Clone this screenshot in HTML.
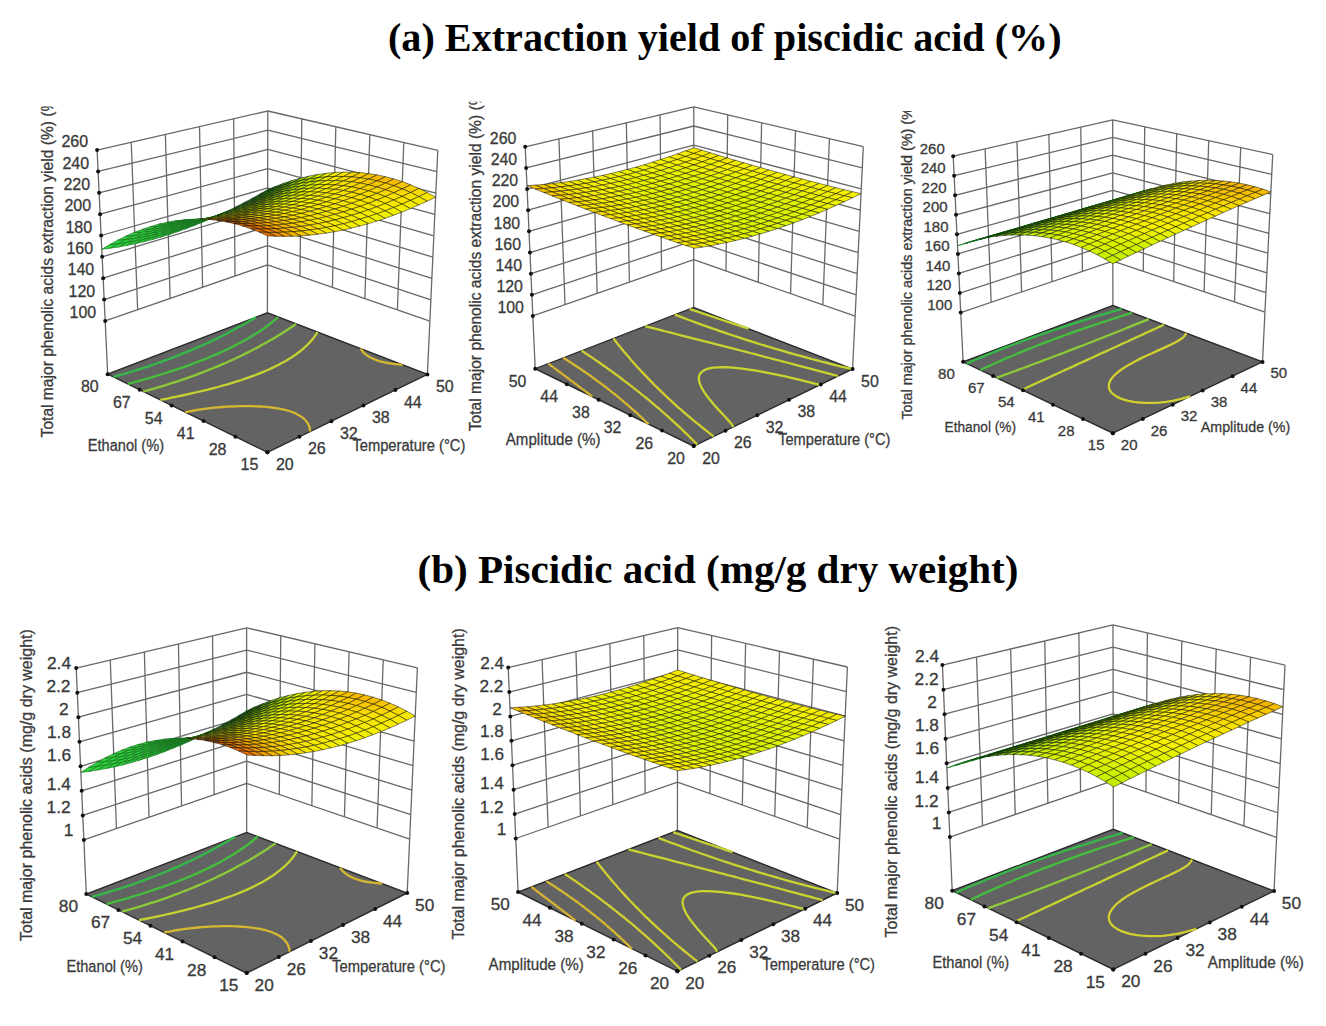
<!DOCTYPE html><html><head><meta charset="utf-8"><style>html,body{margin:0;padding:0;background:#fff;}body{width:1326px;height:1026px;overflow:hidden;}svg{display:block}</style></head><body><svg width="1326" height="1026" viewBox="0 0 1326 1026"><g><g id="P1"><path d="M105.18 320.91L267.5 264.81 M104.17 299.56L267.53 245.58 M103.16 278.21L267.57 226.36 M102.15 256.85L267.61 207.13 M101.14 235.5L267.65 187.91 M100.13 214.15L267.69 168.68 M99.12 192.8L267.72 149.45 M98.11 171.45L267.76 130.23 M97.1 150.1L267.8 111 M131.24 142.28L137.64 309.69 M165.38 134.46L170.11 298.47 M199.52 126.64L202.57 287.25 M233.66 118.82L235.03 276.03 M267.5 264.81L429.87 321.13 M267.53 245.58L430.86 299.79 M267.57 226.36L431.85 278.45 M267.61 207.13L432.85 257.11 M267.65 187.91L433.84 235.77 M267.69 168.68L434.83 214.42 M267.72 149.45L435.82 193.08 M267.76 130.23L436.81 171.74 M267.8 111L437.8 150.4 M403.8 142.52L397.4 309.87 M369.8 134.64L364.92 298.6 M335.8 126.76L332.45 287.34 M301.8 118.88L299.97 276.08 M97.1 150.1L107.7 374.2 M267.8 111L267.4 312.8 M437.8 150.4L427.4 374.4" stroke="#686868" stroke-width="1.3" fill="none"/>
<polygon points="267.4,452.3 427.4,374.4 267.4,312.8 107.7,374.2" fill="#636363" stroke="#2a2a2a" stroke-width="1.4"/>
<g fill="none" stroke-width="2.3" stroke-linejoin="round" stroke-linecap="butt"><path d="M113.3 376.9L119.4 375.2 123.7 374.0 127.9 372.8 132.1 371.5 136.3 370.2 140.4 368.9 144.4 367.6 148.5 366.3 152.5 364.9 156.5 363.5 160.4 362.1 164.3 360.7 168.2 359.3 172.0 357.9 175.8 356.4 179.5 354.9 183.3 353.4 186.9 351.9 190.6 350.4 194.2 348.9 197.8 347.3 201.3 345.8 204.8 344.2 208.3 342.6 211.7 341.0 215.1 339.4 218.4 337.7 221.8 336.1 225.1 334.4 228.3 332.7 231.5 331.0 234.7 329.3 237.8 327.6 240.9 325.9 244.0 324.2 247.0 322.4 250.0 320.7 253.0 318.9 256.0 317.2" stroke="#34b848"/><path d="M127.8 384.0L133.4 382.5 138.1 381.2 142.7 379.9 147.3 378.6 151.9 377.3 156.4 375.9 160.9 374.5 165.4 373.1 169.8 371.7 174.2 370.3 178.5 368.8 182.9 367.3 187.1 365.8 191.3 364.3 195.5 362.7 199.6 361.2 203.7 359.6 207.7 358.0 211.7 356.3 215.6 354.6 219.4 352.9 223.2 351.2 226.9 349.5 230.6 347.7 234.2 345.9 237.7 344.1 241.2 342.3 244.6 340.4 247.9 338.5 251.2 336.6 254.4 334.6 257.5 332.7 260.5 330.7 263.4 328.7 266.3 326.6 269.1 324.5 271.8 322.4 274.4 320.3 278.2 317.0" stroke="#44bf3c"/><path d="M143.2 391.6L148.5 390.1 153.2 388.8 157.9 387.4 162.5 386.1 167.1 384.7 171.6 383.2 176.0 381.8 180.4 380.3 184.8 378.8 189.1 377.3 193.4 375.8 197.7 374.2 201.9 372.6 206.0 371.0 210.1 369.4 214.1 367.8 218.2 366.1 222.1 364.4 226.0 362.7 229.9 361.0 233.7 359.2 237.5 357.5 241.2 355.7 244.9 353.9 248.5 352.1 252.1 350.3 255.7 348.4 259.2 346.5 262.6 344.6 266.0 342.7 269.4 340.8 272.7 338.9 276.0 337.0 279.2 335.0 282.4 333.0 285.5 331.0 288.6 329.0 291.6 327.0 296.2 323.9" stroke="#8cca38"/><path d="M160.3 399.9L166.2 398.8 171.5 397.7 176.8 396.6 182.1 395.5 187.3 394.4 192.5 393.2 197.6 392.0 202.7 390.8 207.8 389.6 212.8 388.3 217.8 387.0 222.6 385.7 227.5 384.3 232.2 382.9 236.9 381.4 241.5 380.0 246.0 378.4 250.4 376.9 254.8 375.3 259.0 373.6 263.2 371.9 267.2 370.2 271.2 368.4 275.0 366.6 278.7 364.7 282.3 362.8 285.8 360.9 289.2 358.8 292.4 356.8 295.5 354.7 298.5 352.5 301.3 350.3 304.0 348.0 306.5 345.7 308.9 343.3 311.1 340.9 313.2 338.4 315.1 335.9 317.5 332.1" stroke="#c6d232"/><path d="M185.3 412.2L188.2 411.6 191.6 411.0 195.1 410.3 198.8 409.7 202.6 409.2 206.4 408.7 210.4 408.2 214.4 407.7 218.5 407.3 222.7 407.0 226.8 406.7 231.1 406.5 235.3 406.3 239.5 406.1 243.7 406.1 247.9 406.1 252.1 406.1 256.2 406.3 260.3 406.5 264.2 406.7 268.1 407.1 271.9 407.5 275.6 408.1 279.2 408.7 282.6 409.4 286.0 410.2 289.1 411.0 292.1 412.0 294.9 413.1 297.4 414.4 299.8 415.7 302.0 417.1 303.9 418.7 305.6 420.4 307.1 422.2 308.3 424.2 309.2 426.3 309.8 428.6 310.1 431.5" stroke="#d6b830"/><path d="M360.4 348.6L361.6 350.1 362.1 350.7 362.6 351.3 363.1 351.9 363.6 352.5 364.2 353.0 364.8 353.6 365.4 354.1 366.1 354.6 366.8 355.1 367.5 355.6 368.2 356.1 368.9 356.6 369.7 357.1 370.5 357.5 371.4 357.9 372.2 358.4 373.1 358.8 374.0 359.2 375.0 359.5 375.9 359.9 376.9 360.3 377.9 360.6 379.0 361.0 380.0 361.3 381.1 361.6 382.2 361.9 383.4 362.2 384.5 362.4 385.7 362.7 387.0 362.9 388.2 363.1 389.5 363.3 390.8 363.5 392.1 363.7 393.4 363.9 394.8 364.1 396.2 364.2 402.6 364.8" stroke="#d6b830"/></g>
<g stroke="#000" stroke-width="0.85" stroke-opacity="0.55" stroke-linejoin="round"><path d="M267.6 190.8l8.4 -4.6 -8.4 3.4 -8.3 4.7z" fill="#21921c" stroke-opacity="0.40"/><path d="M259.3 195.3l8.3 -4.5 -8.3 3.5 -8.3 4.6z" fill="#1d8c1e" stroke-opacity="0.33"/><path d="M276.0 187.7l8.3 -4.6 -8.3 3.1 -8.4 4.6z" fill="#2e9c17" stroke-opacity="0.50"/><path d="M251.0 199.7l8.3 -4.4 -8.3 3.6 -8.3 4.4z" fill="#19861f" stroke-opacity="0.25"/><path d="M267.6 192.1l8.4 -4.4 -8.4 3.1 -8.3 4.5z" fill="#269519" stroke-opacity="0.43"/><path d="M284.3 184.9l8.4 -4.6 -8.4 2.8 -8.3 4.6z" fill="#52af0f"/><path d="M242.7 203.8l8.3 -4.1 -8.3 3.6 -8.3 4.2z" fill="#168020" stroke-opacity="0.18"/><path d="M259.3 196.4l8.3 -4.3 -8.3 3.2 -8.3 4.4z" fill="#228f1a" stroke-opacity="0.36"/><path d="M276.0 189.3l8.3 -4.4 -8.3 2.8 -8.4 4.4z" fill="#41a512" stroke-opacity="0.54"/><path d="M292.7 182.5l8.4 -4.5 -8.4 2.3 -8.4 4.6z" fill="#77c407"/><path d="M234.4 207.8l8.3 -4 -8.3 3.7 -8.2 4.1z" fill="#147a20" stroke-opacity="0.10"/><path d="M251.0 200.6l8.3 -4.2 -8.3 3.3 -8.3 4.1z" fill="#1e891b" stroke-opacity="0.28"/><path d="M267.6 193.6l8.4 -4.3 -8.4 2.8 -8.3 4.3z" fill="#359b15" stroke-opacity="0.46"/><path d="M284.3 186.9l8.4 -4.4 -8.4 2.4 -8.3 4.4z" fill="#65b80a"/><path d="M301.1 180.5l8.4 -4.5 -8.4 2 -8.4 4.5z" fill="#9eda03"/><path d="M226.1 211.7l8.3 -3.9 -8.2 3.8 -8.3 3.8z" fill="#117420" stroke-opacity="0.02"/><path d="M242.6 204.5l8.4 -3.9 -8.3 3.2 -8.3 4z" fill="#1b831b" stroke-opacity="0.21"/><path d="M259.3 197.6l8.3 -4 -8.3 2.8 -8.3 4.2z" fill="#299216" stroke-opacity="0.39"/><path d="M276.0 191.1l8.3 -4.2 -8.3 2.4 -8.4 4.3z" fill="#56ae0d"/><path d="M292.7 184.8l8.4 -4.3 -8.4 2 -8.4 4.4z" fill="#8bcd06"/><path d="M309.5 178.9l8.5 -4.5 -8.5 1.6 -8.4 4.5z" fill="#c3ed00"/><path d="M217.8 215.3l8.3 -3.6 -8.2 3.7 -8.3 3.7z" fill="#1f8f29" stroke="#197421" stroke-opacity="0.75" stroke-width="0.9"/><path d="M234.3 208.3l8.3 -3.8 -8.2 3.3 -8.3 3.9z" fill="#197c1b" stroke-opacity="0.13"/><path d="M250.9 201.5l8.4 -3.9 -8.3 3 -8.4 3.9z" fill="#238b17" stroke-opacity="0.31"/><path d="M267.6 195.1l8.4 -4 -8.4 2.5 -8.3 4z" fill="#49a40f" stroke-opacity="0.50"/><path d="M284.3 189.0l8.4 -4.2 -8.4 2.1 -8.3 4.2z" fill="#79c207"/><path d="M301.1 183.2l8.4 -4.3 -8.4 1.6 -8.4 4.3z" fill="#b2e401"/><path d="M318.0 177.7l8.4 -4.4 -8.4 1.1 -8.5 4.5z" fill="#d6f100"/><path d="M209.5 218.7l8.3 -3.4 -8.2 3.8 -8.3 3.5z" fill="#21982c" stroke="#197421" stroke-opacity="0.75" stroke-width="0.9"/><path d="M226.0 211.8l8.3 -3.5 -8.2 3.4 -8.3 3.6z" fill="#16761b" stroke-opacity="0.05"/><path d="M242.6 205.2l8.3 -3.7 -8.3 3 -8.3 3.8z" fill="#208518" stroke-opacity="0.23"/><path d="M259.3 198.9l8.3 -3.8 -8.3 2.5 -8.4 3.9z" fill="#3e9b11" stroke-opacity="0.42"/><path d="M276.0 192.9l8.3 -3.9 -8.3 2.1 -8.4 4z" fill="#6ab709"/><path d="M292.7 187.3l8.4 -4.1 -8.4 1.6 -8.4 4.2z" fill="#9fd703"/><path d="M309.5 181.9l8.5 -4.2 -8.5 1.2 -8.4 4.3z" fill="#ccef00"/><path d="M326.4 176.9l8.4 -4.4 -8.4 .8 -8.4 4.4z" fill="#e8f100"/><path d="M201.2 222.0l8.3 -3.3 -8.2 3.9 -8.2 3.3z" fill="#23a22e" stroke="#197421" stroke-opacity="0.75" stroke-width="0.9"/><path d="M217.7 215.2l8.3 -3.4 -8.2 3.5 -8.3 3.4z" fill="#1e8c28" stroke="#197421" stroke-opacity="0.75" stroke-width="0.9"/><path d="M234.3 208.8l8.3 -3.6 -8.3 3.1 -8.3 3.5z" fill="#1e7e17" stroke-opacity="0.15"/><path d="M250.9 202.6l8.4 -3.7 -8.4 2.6 -8.3 3.7z" fill="#349212" stroke-opacity="0.34"/><path d="M267.6 196.7l8.4 -3.8 -8.4 2.2 -8.3 3.8z" fill="#5dae0a" stroke-opacity="0.53"/><path d="M284.3 191.2l8.4 -3.9 -8.4 1.7 -8.3 3.9z" fill="#8fcc05"/><path d="M301.1 186.0l8.4 -4.1 -8.4 1.3 -8.4 4.1z" fill="#c2eb00"/><path d="M318.0 181.0l8.4 -4.1 -8.4 .8 -8.5 4.2z" fill="#ddf200"/><path d="M334.8 176.4l8.5 -4.3 -8.5 .4 -8.4 4.4z" fill="#f6ed00"/><path d="M192.9 225.1l8.3 -3.1 -8.1 3.9 -8.3 3.2z" fill="#25ac31" stroke="#197421" stroke-opacity="0.75" stroke-width="0.9"/><path d="M209.4 218.4l8.3 -3.2 -8.2 3.5 -8.3 3.3z" fill="#20962b" stroke="#197421" stroke-opacity="0.75" stroke-width="0.9"/><path d="M226.0 212.1l8.3 -3.3 -8.3 3 -8.3 3.4z" fill="#1b7817" stroke-opacity="0.07"/><path d="M242.6 206.1l8.3 -3.5 -8.3 2.6 -8.3 3.6z" fill="#2c8a13" stroke-opacity="0.26"/><path d="M259.2 200.3l8.4 -3.6 -8.3 2.2 -8.4 3.7z" fill="#53a40c" stroke-opacity="0.46"/><path d="M276.0 194.9l8.3 -3.7 -8.3 1.7 -8.4 3.8z" fill="#80c205"/><path d="M292.7 189.8l8.4 -3.8 -8.4 1.3 -8.4 3.9z" fill="#b3e100"/><path d="M309.5 185.1l8.5 -4.1 -8.5 .9 -8.4 4.1z" fill="#d4f000"/><path d="M326.4 180.6l8.4 -4.2 -8.4 .5 -8.4 4.1z" fill="#eff100"/><path d="M343.3 176.5l8.4 -4.3 -8.4 -.1 -8.5 4.3z" fill="#f7e400"/><path d="M184.6 227.9l8.3 -2.8 -8.1 4 -8.3 2.9z" fill="#27b634" stroke="#197421" stroke-opacity="0.75" stroke-width="0.9"/><path d="M201.1 221.4l8.3 -3 -8.2 3.6 -8.3 3.1z" fill="#22a02e" stroke="#197421" stroke-opacity="0.75" stroke-width="0.9"/><path d="M217.6 215.2l8.4 -3.1 -8.3 3.1 -8.3 3.2z" fill="#1e8a27" stroke="#197421" stroke-opacity="0.75" stroke-width="0.9"/><path d="M234.2 209.3l8.4 -3.2 -8.3 2.7 -8.3 3.3z" fill="#268213" stroke-opacity="0.18"/><path d="M250.9 203.7l8.3 -3.4 -8.3 2.3 -8.3 3.5z" fill="#4a9c0d" stroke-opacity="0.38"/><path d="M267.6 198.5l8.4 -3.6 -8.4 1.8 -8.4 3.6z" fill="#73b807"/><path d="M284.3 193.5l8.4 -3.7 -8.4 1.4 -8.3 3.7z" fill="#a4d602"/><path d="M301.1 188.9l8.4 -3.8 -8.4 .9 -8.4 3.8z" fill="#cdef00"/><path d="M318.0 184.6l8.4 -4 -8.4 .4 -8.5 4.1z" fill="#e5f100"/><path d="M334.8 180.6l8.5 -4.1 -8.5 -.1 -8.4 4.2z" fill="#f6eb00"/><path d="M351.7 176.9l8.5 -4.3 -8.5 -.4 -8.4 4.3z" fill="#f7d800"/><path d="M176.4 230.6l8.2 -2.7 -8.1 4.1 -8.2 2.8z" fill="#29c037" stroke="#197421" stroke-opacity="0.75" stroke-width="0.9"/><path d="M192.8 224.2l8.3 -2.8 -8.2 3.7 -8.3 2.8z" fill="#24aa31" stroke="#197421" stroke-opacity="0.75" stroke-width="0.9"/><path d="M209.3 218.2l8.3 -3 -8.2 3.2 -8.3 3z" fill="#20942a" stroke="#197421" stroke-opacity="0.75" stroke-width="0.9"/><path d="M225.9 212.4l8.3 -3.1 -8.2 2.8 -8.4 3.1z" fill="#207a13" stroke-opacity="0.10"/><path d="M242.5 207.0l8.4 -3.3 -8.3 2.4 -8.4 3.2z" fill="#42930d" stroke-opacity="0.29"/><path d="M259.2 201.8l8.4 -3.3 -8.4 1.8 -8.3 3.4z" fill="#68ae07" stroke-opacity="0.49"/><path d="M276.0 197.0l8.3 -3.5 -8.3 1.4 -8.4 3.6z" fill="#96cb03"/><path d="M292.7 192.5l8.4 -3.6 -8.4 .9 -8.4 3.7z" fill="#c2e900"/><path d="M309.6 188.3l8.4 -3.7 -8.5 .5 -8.4 3.8z" fill="#dcf200"/><path d="M326.4 184.5l8.4 -3.9 -8.4 0 -8.4 4z" fill="#f4f000"/><path d="M343.3 181.0l8.4 -4.1 -8.4 -.4 -8.5 4.1z" fill="#f8e300"/><path d="M360.2 177.8l8.4 -4.2 -8.4 -1 -8.5 4.3z" fill="#f6cb00"/><path d="M168.1 233.1l8.3 -2.5 -8.1 4.2 -8.3 2.5z" fill="#2bca3a" stroke="#197421" stroke-opacity="0.75" stroke-width="0.9"/><path d="M184.5 226.9l8.3 -2.7 -8.2 3.7 -8.2 2.7z" fill="#27b433" stroke="#197421" stroke-opacity="0.75" stroke-width="0.9"/><path d="M201.0 220.9l8.3 -2.7 -8.2 3.2 -8.3 2.8z" fill="#229e2d" stroke="#197421" stroke-opacity="0.75" stroke-width="0.9"/><path d="M217.5 215.3l8.4 -2.9 -8.3 2.8 -8.3 3z" fill="#1e7313" stroke-opacity="0.01"/><path d="M234.2 210.0l8.3 -3 -8.3 2.3 -8.3 3.1z" fill="#3b8b0e" stroke-opacity="0.21"/><path d="M250.8 205.0l8.4 -3.2 -8.3 1.9 -8.4 3.3z" fill="#5fa508" stroke-opacity="0.41"/><path d="M267.6 200.3l8.4 -3.3 -8.4 1.5 -8.4 3.3z" fill="#8ac203"/><path d="M284.3 196.0l8.4 -3.5 -8.4 1 -8.3 3.5z" fill="#b6e000"/><path d="M301.1 191.9l8.5 -3.6 -8.5 .6 -8.4 3.6z" fill="#d6f100"/><path d="M318.0 188.2l8.4 -3.7 -8.4 .1 -8.4 3.7z" fill="#ecf100"/><path d="M334.8 184.9l8.5 -3.9 -8.5 -.4 -8.4 3.9z" fill="#f6e900"/><path d="M351.7 181.8l8.5 -4 -8.5 -.9 -8.4 4.1z" fill="#f7d900"/><path d="M368.6 179.1l8.5 -4.2 -8.5 -1.3 -8.4 4.2z" fill="#f5c100"/><path d="M159.8 235.4l8.3 -2.3 -8.1 4.2 -8.3 2.4z" fill="#2dd23c" stroke="#197421" stroke-opacity="0.75" stroke-width="0.9"/><path d="M192.7 223.5l8.3 -2.6 -8.2 3.3 -8.3 2.7z" fill="#24a830" stroke="#197421" stroke-opacity="0.75" stroke-width="0.9"/><path d="M209.2 218.0l8.3 -2.7 -8.2 2.9 -8.3 2.7z" fill="#1f9129" stroke="#197421" stroke-opacity="0.75" stroke-width="0.9"/><path d="M225.8 212.8l8.4 -2.8 -8.3 2.4 -8.4 2.9z" fill="#36830e" stroke-opacity="0.13"/><path d="M242.5 208.0l8.3 -3 -8.3 2 -8.3 3z" fill="#579c08" stroke-opacity="0.32"/><path d="M276.0 199.2l8.3 -3.2 -8.3 1 -8.4 3.3z" fill="#acd700"/><path d="M309.6 191.8l8.4 -3.6 -8.4 .1 -8.5 3.6z" fill="#e5f100"/><path d="M326.4 188.6l8.4 -3.7 -8.4 -.4 -8.4 3.7z" fill="#f6ed00"/><path d="M343.3 185.7l8.4 -3.9 -8.4 -.8 -8.5 3.9z" fill="#f8e300"/><path d="M360.1 183.1l8.5 -4 -8.4 -1.3 -8.5 4z" fill="#f6cf00"/><path d="M176.2 229.3l8.3 -2.4 -8.1 3.7 -8.3 2.5z" fill="#29be36" stroke="#197421" stroke-opacity="0.75" stroke-width="0.9"/><path d="M259.2 203.4l8.4 -3.1 -8.4 1.5 -8.4 3.2z" fill="#80b804" stroke-opacity="0.53"/><path d="M292.7 195.3l8.4 -3.4 -8.4 .6 -8.4 3.5z" fill="#d0ef00"/><path d="M377.0 180.8l8.5 -4.1 -8.4 -1.8 -8.5 4.2z" fill="#f5bb00"/><path d="M151.4 237.4l8.4 -2 -8.1 4.3 -8.3 2.1z" fill="#2dd23c" stroke="#197421" stroke-opacity="0.75" stroke-width="0.9"/><path d="M167.9 231.5l8.3 -2.2 -8.1 3.8 -8.3 2.3z" fill="#2bc939" stroke="#197421" stroke-opacity="0.75" stroke-width="0.9"/><path d="M184.3 225.8l8.4 -2.3 -8.2 3.4 -8.3 2.4z" fill="#26b233" stroke="#197421" stroke-opacity="0.75" stroke-width="0.9"/><path d="M200.9 220.5l8.3 -2.5 -8.2 2.9 -8.3 2.6z" fill="#219b2c" stroke="#197421" stroke-opacity="0.75" stroke-width="0.9"/><path d="M217.5 215.4l8.3 -2.6 -8.3 2.5 -8.3 2.7z" fill="#327b0d" stroke-opacity="0.04"/><path d="M234.1 210.7l8.4 -2.7 -8.3 2 -8.4 2.8z" fill="#519408" stroke-opacity="0.24"/><path d="M250.8 206.3l8.4 -2.9 -8.4 1.6 -8.3 3z" fill="#77af05" stroke-opacity="0.44"/><path d="M267.6 202.3l8.4 -3.1 -8.4 1.1 -8.4 3.1z" fill="#a0cd01"/><path d="M284.3 198.6l8.4 -3.3 -8.4 .7 -8.3 3.2z" fill="#c5e600"/><path d="M301.1 195.1l8.5 -3.3 -8.5 .1 -8.4 3.4z" fill="#dff200"/><path d="M318.0 192.1l8.4 -3.5 -8.4 -.4 -8.4 3.6z" fill="#f3f000"/><path d="M334.8 189.3l8.5 -3.6 -8.5 -.8 -8.4 3.7z" fill="#f7e700"/><path d="M351.7 186.9l8.4 -3.8 -8.4 -1.3 -8.4 3.9z" fill="#f7da00"/><path d="M368.6 184.8l8.4 -4 -8.4 -1.7 -8.5 4z" fill="#f6c900"/><path d="M385.4 183.1l8.5 -4.2 -8.4 -2.2 -8.5 4.1z" fill="#f4b900"/><path d="M143.1 239.3l8.3 -1.9 -8 4.4 -8.3 1.9z" fill="#2dd23c" stroke="#197421" stroke-opacity="0.75" stroke-width="0.9"/><path d="M159.5 233.5l8.4 -2 -8.1 3.9 -8.4 2z" fill="#2dd23c" stroke="#197421" stroke-opacity="0.75" stroke-width="0.9"/><path d="M176.0 227.9l8.3 -2.1 -8.1 3.5 -8.3 2.2z" fill="#28bd36" stroke="#197421" stroke-opacity="0.75" stroke-width="0.9"/><path d="M192.5 222.7l8.4 -2.2 -8.2 3 -8.4 2.3z" fill="#24a62f" stroke="#197421" stroke-opacity="0.75" stroke-width="0.9"/><path d="M209.1 217.9l8.4 -2.5 -8.3 2.6 -8.3 2.5z" fill="#1e8e29" stroke="#197421" stroke-opacity="0.75" stroke-width="0.9"/><path d="M225.8 213.3l8.3 -2.6 -8.3 2.1 -8.3 2.6z" fill="#4c8c08" stroke-opacity="0.15"/><path d="M242.4 209.1l8.4 -2.8 -8.3 1.7 -8.4 2.7z" fill="#6fa705" stroke-opacity="0.36"/><path d="M259.2 205.1l8.4 -2.8 -8.4 1.1 -8.4 2.9z" fill="#97c301"/><path d="M275.9 201.6l8.4 -3 -8.3 .6 -8.4 3.1z" fill="#bbdd00"/><path d="M292.7 198.3l8.4 -3.2 -8.4 .2 -8.4 3.3z" fill="#dbf200"/><path d="M309.6 195.4l8.4 -3.3 -8.4 -.3 -8.5 3.3z" fill="#edf100"/><path d="M326.4 192.8l8.4 -3.5 -8.4 -.7 -8.4 3.5z" fill="#f6eb00"/><path d="M343.3 190.5l8.4 -3.6 -8.4 -1.2 -8.5 3.6z" fill="#f8e200"/><path d="M360.1 188.6l8.5 -3.8 -8.5 -1.7 -8.4 3.8z" fill="#f7d400"/><path d="M377.0 187.0l8.4 -3.9 -8.4 -2.3 -8.4 4z" fill="#f6c700"/><path d="M393.8 185.7l8.5 -4.1 -8.4 -2.7 -8.5 4.2z" fill="#f5bc00"/><path d="M134.8 240.9l8.3 -1.6 -8 4.4 -8.3 1.7z" fill="#2dd23c" stroke="#197421" stroke-opacity="0.75" stroke-width="0.9"/><path d="M151.2 235.3l8.3 -1.8 -8.1 3.9 -8.3 1.9z" fill="#2dd23c" stroke="#197421" stroke-opacity="0.75" stroke-width="0.9"/><path d="M167.6 229.9l8.4 -2 -8.1 3.6 -8.4 2z" fill="#2bc839" stroke="#197421" stroke-opacity="0.75" stroke-width="0.9"/><path d="M184.2 224.8l8.3 -2.1 -8.2 3.1 -8.3 2.1z" fill="#26b032" stroke="#197421" stroke-opacity="0.75" stroke-width="0.9"/><path d="M200.8 220.1l8.3 -2.2 -8.2 2.6 -8.4 2.2z" fill="#21992c" stroke="#197421" stroke-opacity="0.75" stroke-width="0.9"/><path d="M217.4 215.7l8.4 -2.4 -8.3 2.1 -8.4 2.5z" fill="#488408" stroke-opacity="0.06"/><path d="M234.1 211.6l8.3 -2.5 -8.3 1.6 -8.3 2.6z" fill="#699e04" stroke-opacity="0.27"/><path d="M250.8 207.8l8.4 -2.7 -8.4 1.2 -8.4 2.8z" fill="#8fba02" stroke-opacity="0.48"/><path d="M267.6 204.4l8.3 -2.8 -8.3 .7 -8.4 2.8z" fill="#b2d400"/><path d="M284.3 201.3l8.4 -3 -8.4 .3 -8.4 3z" fill="#d4ec00"/><path d="M301.2 198.5l8.4 -3.1 -8.5 -.3 -8.4 3.2z" fill="#e9f100"/><path d="M318.0 196.1l8.4 -3.3 -8.4 -.7 -8.4 3.3z" fill="#f5ee00"/><path d="M334.8 194.0l8.5 -3.5 -8.5 -1.2 -8.4 3.5z" fill="#f7e600"/><path d="M351.7 192.2l8.4 -3.6 -8.4 -1.7 -8.4 3.6z" fill="#f8dd00"/><path d="M368.5 190.8l8.5 -3.8 -8.4 -2.2 -8.5 3.8z" fill="#f7d100"/><path d="M385.4 189.7l8.4 -4 -8.4 -2.6 -8.4 3.9z" fill="#f6c900"/><path d="M402.2 188.9l8.5 -4.1 -8.4 -3.2 -8.5 4.1z" fill="#f5c300"/><path d="M126.5 242.4l8.3 -1.5 -8 4.5 -8.3 1.6z" fill="#2dd23c" stroke="#197421" stroke-opacity="0.75" stroke-width="0.9"/><path d="M142.8 236.8l8.4 -1.5 -8.1 4 -8.3 1.6z" fill="#2dd23c" stroke="#197421" stroke-opacity="0.75" stroke-width="0.9"/><path d="M159.3 231.6l8.3 -1.7 -8.1 3.6 -8.3 1.8z" fill="#2dd23c" stroke="#197421" stroke-opacity="0.75" stroke-width="0.9"/><path d="M175.8 226.7l8.4 -1.9 -8.2 3.1 -8.4 2z" fill="#28bb35" stroke="#197421" stroke-opacity="0.75" stroke-width="0.9"/><path d="M192.4 222.1l8.4 -2 -8.3 2.6 -8.3 2.1z" fill="#23a32f" stroke="#197421" stroke-opacity="0.75" stroke-width="0.9"/><path d="M209.0 217.8l8.4 -2.1 -8.3 2.2 -8.3 2.2z" fill="#1e8c28" stroke="#197421" stroke-opacity="0.75" stroke-width="0.9"/><path d="M225.7 213.9l8.4 -2.3 -8.3 1.7 -8.4 2.4z" fill="#639604" stroke-opacity="0.18"/><path d="M242.4 210.3l8.4 -2.5 -8.4 1.3 -8.3 2.5z" fill="#87b202" stroke-opacity="0.39"/><path d="M259.2 207.0l8.4 -2.6 -8.4 .7 -8.4 2.7z" fill="#aacb00"/><path d="M275.9 204.0l8.4 -2.7 -8.4 .3 -8.3 2.8z" fill="#cae400"/><path d="M292.7 201.4l8.5 -2.9 -8.5 -.2 -8.4 3z" fill="#e6f100"/><path d="M309.6 199.1l8.4 -3 -8.4 -.7 -8.4 3.1z" fill="#f5f000"/><path d="M326.4 197.2l8.4 -3.2 -8.4 -1.2 -8.4 3.3z" fill="#f6e900"/><path d="M343.2 195.6l8.5 -3.4 -8.4 -1.7 -8.5 3.5z" fill="#f8e300"/><path d="M360.1 194.3l8.4 -3.5 -8.4 -2.2 -8.4 3.6z" fill="#f7da00"/><path d="M376.9 193.4l8.5 -3.7 -8.4 -2.7 -8.5 3.8z" fill="#f7d300"/><path d="M393.7 192.8l8.5 -3.9 -8.4 -3.2 -8.4 4z" fill="#f6ce00"/><path d="M410.6 192.5l8.4 -4.1 -8.3 -3.6 -8.5 4.1z" fill="#f6cd00"/><path d="M118.1 243.6l8.4 -1.2 -8 4.6 -8.4 1.2z" fill="#2dd23c" stroke="#197421" stroke-opacity="0.75" stroke-width="0.9"/><path d="M150.9 233.1l8.4 -1.5 -8.1 3.7 -8.4 1.5z" fill="#2dd23c" stroke="#197421" stroke-opacity="0.75" stroke-width="0.9"/><path d="M167.4 228.3l8.4 -1.6 -8.2 3.2 -8.3 1.7z" fill="#2ac639" stroke="#197421" stroke-opacity="0.75" stroke-width="0.9"/><path d="M184.0 223.9l8.4 -1.8 -8.2 2.7 -8.4 1.9z" fill="#25ae32" stroke="#197421" stroke-opacity="0.75" stroke-width="0.9"/><path d="M200.6 219.7l8.4 -1.9 -8.2 2.3 -8.4 2z" fill="#20962b" stroke="#197421" stroke-opacity="0.75" stroke-width="0.9"/><path d="M234.0 212.5l8.4 -2.2 -8.3 1.3 -8.4 2.3z" fill="#82a901" stroke-opacity="0.30"/><path d="M250.8 209.4l8.4 -2.4 -8.4 .8 -8.4 2.5z" fill="#a3c300" stroke-opacity="0.51"/><path d="M267.5 206.6l8.4 -2.6 -8.3 .4 -8.4 2.6z" fill="#c2db00"/><path d="M284.3 204.1l8.4 -2.7 -8.4 -.1 -8.4 2.7z" fill="#e4f100"/><path d="M301.2 202.0l8.4 -2.9 -8.4 -.6 -8.5 2.9z" fill="#f2f000"/><path d="M318.0 200.2l8.4 -3 -8.4 -1.1 -8.4 3z" fill="#f6eb00"/><path d="M351.6 197.7l8.5 -3.4 -8.4 -2.1 -8.5 3.4z" fill="#f8e100"/><path d="M368.5 196.9l8.4 -3.5 -8.4 -2.6 -8.4 3.5z" fill="#f7db00"/><path d="M385.3 196.5l8.4 -3.7 -8.3 -3.1 -8.5 3.7z" fill="#f7d800"/><path d="M418.9 196.6l8.4 -4 -8.3 -4.2 -8.4 4.1z" fill="#f7db00"/><path d="M134.5 238.2l8.3 -1.4 -8 4.1 -8.3 1.5z" fill="#2dd23c" stroke="#197421" stroke-opacity="0.75" stroke-width="0.9"/><path d="M217.3 216.0l8.4 -2.1 -8.3 1.8 -8.4 2.1z" fill="#5f8e04" stroke-opacity="0.09"/><path d="M334.8 198.8l8.4 -3.2 -8.4 -1.6 -8.4 3.2z" fill="#f7e500"/><path d="M402.1 196.4l8.5 -3.9 -8.4 -3.6 -8.5 3.9z" fill="#f7d800"/><path d="M109.7 244.6l8.4 -1 -8 4.6 -8.3 1.1z" fill="#2dd23c" stroke="#197421" stroke-opacity="0.75" stroke-width="0.9"/><path d="M126.1 239.3l8.4 -1.1 -8 4.2 -8.4 1.2z" fill="#2dd23c" stroke="#197421" stroke-opacity="0.75" stroke-width="0.9"/><path d="M142.6 234.4l8.3 -1.3 -8.1 3.7 -8.3 1.4z" fill="#2dd23c" stroke="#197421" stroke-opacity="0.75" stroke-width="0.9"/><path d="M159.1 229.7l8.3 -1.4 -8.1 3.3 -8.4 1.5z" fill="#2dd13c" stroke="#197421" stroke-opacity="0.75" stroke-width="0.9"/><path d="M175.6 225.4l8.4 -1.5 -8.2 2.8 -8.4 1.6z" fill="#28b935" stroke="#197421" stroke-opacity="0.75" stroke-width="0.9"/><path d="M192.3 221.5l8.3 -1.8 -8.2 2.4 -8.4 1.8z" fill="#23a12e" stroke="#197421" stroke-opacity="0.75" stroke-width="0.9"/><path d="M208.9 217.8l8.4 -1.8 -8.3 1.8 -8.4 1.9z" fill="#1d8927" stroke="#197421" stroke-opacity="0.75" stroke-width="0.9"/><path d="M225.6 214.5l8.4 -2 -8.3 1.4 -8.4 2.1z" fill="#7ca101" stroke-opacity="0.21"/><path d="M242.4 211.5l8.4 -2.1 -8.4 .9 -8.4 2.2z" fill="#9cba00" stroke-opacity="0.42"/><path d="M259.2 208.9l8.3 -2.3 -8.3 .4 -8.4 2.4z" fill="#bad200"/><path d="M275.9 206.6l8.4 -2.5 -8.4 -.1 -8.4 2.6z" fill="#dce800"/><path d="M292.8 204.7l8.4 -2.7 -8.5 -.6 -8.4 2.7z" fill="#f1f000"/><path d="M309.6 203.0l8.4 -2.8 -8.4 -1.1 -8.4 2.9z" fill="#f6ec00"/><path d="M326.4 201.8l8.4 -3 -8.4 -1.6 -8.4 3z" fill="#f7e700"/><path d="M343.2 200.8l8.4 -3.1 -8.4 -2.1 -8.4 3.2z" fill="#f8e300"/><path d="M360.0 200.2l8.5 -3.3 -8.4 -2.6 -8.5 3.4z" fill="#f8e100"/><path d="M376.9 200.0l8.4 -3.5 -8.4 -3.1 -8.4 3.5z" fill="#f8df00"/><path d="M393.7 200.0l8.4 -3.6 -8.4 -3.6 -8.4 3.7z" fill="#f8e000"/><path d="M410.4 200.4l8.5 -3.8 -8.3 -4.1 -8.5 3.9z" fill="#f8e300"/><path d="M427.2 201.2l8.4 -4 -8.3 -4.6 -8.4 4z" fill="#f7e600"/><path d="M134.2 235.4l8.4 -1 -8.1 3.8 -8.4 1.1z" fill="#2dd23c" stroke="#197421" stroke-opacity="0.75" stroke-width="0.9"/><path d="M167.3 226.8l8.3 -1.4 -8.2 2.9 -8.3 1.4z" fill="#2ac538" stroke="#197421" stroke-opacity="0.75" stroke-width="0.9"/><path d="M250.8 211.0l8.4 -2.1 -8.4 .5 -8.4 2.1z" fill="#b3c900" stroke-opacity="0.55"/><path d="M301.2 205.7l8.4 -2.7 -8.4 -1 -8.4 2.7z" fill="#f6ed00"/><path d="M385.2 203.5l8.5 -3.5 -8.4 -3.5 -8.4 3.5z" fill="#f7e400"/><path d="M418.7 205.0l8.5 -3.8 -8.3 -4.6 -8.5 3.8z" fill="#f6ea00"/><path d="M117.7 240.2l8.4 -.9 -8 4.3 -8.4 1z" fill="#2dd23c" stroke="#197421" stroke-opacity="0.75" stroke-width="0.9"/><path d="M150.7 230.9l8.4 -1.2 -8.2 3.4 -8.3 1.3z" fill="#2dd23c" stroke="#197421" stroke-opacity="0.75" stroke-width="0.9"/><path d="M183.9 223.0l8.4 -1.5 -8.3 2.4 -8.4 1.5z" fill="#25ac31" stroke="#197421" stroke-opacity="0.75" stroke-width="0.9"/><path d="M200.5 219.5l8.4 -1.7 -8.3 1.9 -8.3 1.8z" fill="#20942a" stroke="#197421" stroke-opacity="0.75" stroke-width="0.9"/><path d="M217.2 216.3l8.4 -1.8 -8.3 1.5 -8.4 1.8z" fill="#789801" stroke-opacity="0.12"/><path d="M234.0 213.5l8.4 -2 -8.4 1 -8.4 2z" fill="#95b000" stroke-opacity="0.33"/><path d="M267.5 208.9l8.4 -2.3 -8.4 0 -8.3 2.3z" fill="#d3df00"/><path d="M284.3 207.1l8.5 -2.4 -8.5 -.6 -8.4 2.5z" fill="#f0f000"/><path d="M318.0 204.5l8.4 -2.7 -8.4 -1.6 -8.4 2.8z" fill="#f7e800"/><path d="M334.8 203.8l8.4 -3 -8.4 -2 -8.4 3z" fill="#f7e500"/><path d="M351.6 203.3l8.4 -3.1 -8.4 -2.5 -8.4 3.1z" fill="#f8e300"/><path d="M368.4 203.3l8.5 -3.3 -8.4 -3.1 -8.5 3.3z" fill="#f8e300"/><path d="M402.0 204.1l8.4 -3.7 -8.3 -4 -8.4 3.6z" fill="#f7e600"/><path d="M125.8 236.2l8.4 -.8 -8.1 3.9 -8.4 .9z" fill="#2dd23c" stroke="#197421" stroke-opacity="0.75" stroke-width="0.9"/><path d="M142.3 231.9l8.4 -1 -8.1 3.5 -8.4 1z" fill="#2dd23c" stroke="#197421" stroke-opacity="0.75" stroke-width="0.9"/><path d="M158.9 227.9l8.4 -1.1 -8.2 2.9 -8.4 1.2z" fill="#2dd03b" stroke="#197421" stroke-opacity="0.75" stroke-width="0.9"/><path d="M175.5 224.2l8.4 -1.2 -8.3 2.4 -8.3 1.4z" fill="#27b834" stroke="#197421" stroke-opacity="0.75" stroke-width="0.9"/><path d="M192.1 220.9l8.4 -1.4 -8.2 2 -8.4 1.5z" fill="#229f2d" stroke="#197421" stroke-opacity="0.75" stroke-width="0.9"/><path d="M208.8 217.9l8.4 -1.6 -8.3 1.5 -8.4 1.7z" fill="#739000" stroke-opacity="0.02"/><path d="M225.6 215.3l8.4 -1.8 -8.4 1 -8.4 1.8z" fill="#8fa800" stroke-opacity="0.24"/><path d="M242.4 212.9l8.4 -1.9 -8.4 .5 -8.4 2z" fill="#acbf00" stroke-opacity="0.46"/><path d="M259.1 211.0l8.4 -2.1 -8.3 0 -8.4 2.1z" fill="#ccd600"/><path d="M275.9 209.3l8.4 -2.2 -8.4 -.5 -8.4 2.3z" fill="#edec00"/><path d="M292.8 208.1l8.4 -2.4 -8.4 -1 -8.5 2.4z" fill="#f6ed00"/><path d="M309.6 207.1l8.4 -2.6 -8.4 -1.5 -8.4 2.7z" fill="#f6e900"/><path d="M326.4 206.5l8.4 -2.7 -8.4 -2 -8.4 2.7z" fill="#f7e600"/><path d="M343.2 206.3l8.4 -3 -8.4 -2.5 -8.4 3z" fill="#f7e500"/><path d="M360.0 206.3l8.4 -3 -8.4 -3.1 -8.4 3.1z" fill="#f7e500"/><path d="M376.8 206.8l8.4 -3.3 -8.3 -3.5 -8.5 3.3z" fill="#f7e600"/><path d="M393.6 207.5l8.4 -3.4 -8.3 -4.1 -8.5 3.5z" fill="#f6e900"/><path d="M410.3 208.6l8.4 -3.6 -8.3 -4.6 -8.4 3.7z" fill="#f6ed00"/><path d="M133.9 232.6l8.4 -.7 -8.1 3.5 -8.4 .8z" fill="#2dd23c" stroke="#197421" stroke-opacity="0.75" stroke-width="0.9"/><path d="M250.7 212.8l8.4 -1.8 -8.3 0 -8.4 1.9z" fill="#c6cd00"/><path d="M267.5 211.4l8.4 -2.1 -8.4 -.4 -8.4 2.1z" fill="#e6e300"/><path d="M301.2 209.5l8.4 -2.4 -8.4 -1.4 -8.4 2.4z" fill="#f7e800"/><path d="M334.8 209.0l8.4 -2.7 -8.4 -2.5 -8.4 2.7z" fill="#f7e500"/><path d="M385.1 210.8l8.5 -3.3 -8.4 -4 -8.4 3.3z" fill="#f6eb00"/><path d="M150.4 228.8l8.5 -.9 -8.2 3 -8.4 1z" fill="#2dd23c" stroke="#197421" stroke-opacity="0.75" stroke-width="0.9"/><path d="M167.1 225.3l8.4 -1.1 -8.2 2.6 -8.4 1.1z" fill="#2ac338" stroke="#197421" stroke-opacity="0.75" stroke-width="0.9"/><path d="M183.7 222.1l8.4 -1.2 -8.2 2.1 -8.4 1.2z" fill="#24aa31" stroke="#197421" stroke-opacity="0.75" stroke-width="0.9"/><path d="M200.4 219.3l8.4 -1.4 -8.3 1.6 -8.4 1.4z" fill="#1f9129" stroke="#197421" stroke-opacity="0.75" stroke-width="0.9"/><path d="M217.2 216.8l8.4 -1.5 -8.4 1 -8.4 1.6z" fill="#8a9f00" stroke-opacity="0.15"/><path d="M233.9 214.6l8.5 -1.7 -8.4 .6 -8.4 1.8z" fill="#a6b700" stroke-opacity="0.37"/><path d="M284.4 210.2l8.4 -2.1 -8.5 -1 -8.4 2.2z" fill="#f6ec00"/><path d="M318.0 209.0l8.4 -2.5 -8.4 -2 -8.4 2.6z" fill="#f7e600"/><path d="M351.6 209.2l8.4 -2.9 -8.4 -3 -8.4 3z" fill="#f7e600"/><path d="M368.4 209.8l8.4 -3 -8.4 -3.5 -8.4 3z" fill="#f7e800"/><path d="M401.9 212.1l8.4 -3.5 -8.3 -4.5 -8.4 3.4z" fill="#f5f000"/><path d="M142.0 229.5l8.4 -.7 -8.1 3.1 -8.4 .7z" fill="#2dd23c" stroke="#197421" stroke-opacity="0.75" stroke-width="0.9"/><path d="M158.6 226.1l8.5 -.8 -8.2 2.6 -8.5 .9z" fill="#2ccf3b" stroke="#197421" stroke-opacity="0.75" stroke-width="0.9"/><path d="M192.0 220.4l8.4 -1.1 -8.3 1.6 -8.4 1.2z" fill="#229c2d" stroke="#197421" stroke-opacity="0.75" stroke-width="0.9"/><path d="M208.8 218.1l8.4 -1.3 -8.4 1.1 -8.4 1.4z" fill="#849600" stroke-opacity="0.05"/><path d="M225.5 216.1l8.4 -1.5 -8.3 .7 -8.4 1.5z" fill="#a1ad00" stroke-opacity="0.27"/><path d="M242.3 214.4l8.4 -1.6 -8.3 .1 -8.5 1.7z" fill="#c0c300" stroke-opacity="0.49"/><path d="M259.1 213.1l8.4 -1.7 -8.4 -.4 -8.4 1.8z" fill="#ded800"/><path d="M275.9 212.2l8.5 -2 -8.5 -.9 -8.4 2.1z" fill="#f6ea00"/><path d="M292.8 211.6l8.4 -2.1 -8.4 -1.4 -8.4 2.1z" fill="#f7e700"/><path d="M309.6 211.3l8.4 -2.3 -8.4 -1.9 -8.4 2.4z" fill="#f7e500"/><path d="M326.4 211.4l8.4 -2.4 -8.4 -2.5 -8.4 2.5z" fill="#f7e500"/><path d="M343.2 211.9l8.4 -2.7 -8.4 -2.9 -8.4 2.7z" fill="#f7e600"/><path d="M360.0 212.7l8.4 -2.9 -8.4 -3.5 -8.4 2.9z" fill="#f6e900"/><path d="M393.5 215.3l8.4 -3.2 -8.3 -4.6 -8.5 3.3z" fill="#f2f000"/><path d="M175.3 223.1l8.4 -1 -8.2 2.1 -8.4 1.1z" fill="#27b634" stroke="#197421" stroke-opacity="0.75" stroke-width="0.9"/><path d="M376.7 213.8l8.4 -3 -8.3 -4 -8.4 3z" fill="#f6ed00"/><path d="M150.2 226.7l8.4 -.6 -8.2 2.7 -8.4 .7z" fill="#2dd23c" stroke="#197421" stroke-opacity="0.75" stroke-width="0.9"/><path d="M166.9 223.8l8.4 -.7 -8.2 2.2 -8.5 .8z" fill="#29c237" stroke="#197421" stroke-opacity="0.75" stroke-width="0.9"/><path d="M183.6 221.3l8.4 -.9 -8.3 1.7 -8.4 1z" fill="#24a830" stroke="#197421" stroke-opacity="0.75" stroke-width="0.9"/><path d="M200.3 219.1l8.5 -1 -8.4 1.2 -8.4 1.1z" fill="#1e8e29" stroke="#197421" stroke-opacity="0.75" stroke-width="0.9"/><path d="M217.1 217.3l8.4 -1.2 -8.3 .7 -8.4 1.3z" fill="#9ca200" stroke-opacity="0.17"/><path d="M233.9 215.8l8.4 -1.4 -8.4 .2 -8.4 1.5z" fill="#bbb900" stroke-opacity="0.40"/><path d="M250.7 214.7l8.4 -1.6 -8.4 -.3 -8.4 1.6z" fill="#d5cc00"/><path d="M267.5 213.9l8.4 -1.7 -8.4 -.8 -8.4 1.7z" fill="#eedf00"/><path d="M284.4 213.5l8.4 -1.9 -8.4 -1.4 -8.5 2z" fill="#f7e500"/><path d="M301.2 213.4l8.4 -2.1 -8.4 -1.8 -8.4 2.1z" fill="#f7e400"/><path d="M318.0 213.7l8.4 -2.3 -8.4 -2.4 -8.4 2.3z" fill="#f7e400"/><path d="M334.8 214.3l8.4 -2.4 -8.4 -2.9 -8.4 2.4z" fill="#f7e600"/><path d="M351.6 215.3l8.4 -2.6 -8.4 -3.5 -8.4 2.7z" fill="#f6e900"/><path d="M368.3 216.6l8.4 -2.8 -8.3 -4 -8.4 2.9z" fill="#f6ed00"/><path d="M385.1 218.3l8.4 -3 -8.4 -4.5 -8.4 3z" fill="#f0f000"/><path d="M175.1 222.0l8.5 -.7 -8.3 1.8 -8.4 .7z" fill="#27b433" stroke="#197421" stroke-opacity="0.75" stroke-width="0.9"/><path d="M208.7 218.3l8.4 -1 -8.3 .8 -8.5 1z" fill="#979800" stroke-opacity="0.08"/><path d="M343.2 217.7l8.4 -2.4 -8.4 -3.4 -8.4 2.4z" fill="#f7e800"/><path d="M376.7 221.1l8.4 -2.8 -8.4 -4.5 -8.4 2.8z" fill="#eff000"/><path d="M158.4 224.3l8.5 -.5 -8.3 2.3 -8.4 .6z" fill="#2cce3b" stroke="#197421" stroke-opacity="0.75" stroke-width="0.9"/><path d="M191.9 220.0l8.4 -.9 -8.3 1.3 -8.4 .9z" fill="#219a2c" stroke="#197421" stroke-opacity="0.75" stroke-width="0.9"/><path d="M225.5 217.0l8.4 -1.2 -8.4 .3 -8.4 1.2z" fill="#b3ad00" stroke-opacity="0.30"/><path d="M242.3 216.1l8.4 -1.4 -8.4 -.3 -8.4 1.4z" fill="#ccbf00" stroke-opacity="0.53"/><path d="M259.1 215.4l8.4 -1.5 -8.4 -.8 -8.4 1.6z" fill="#e4d300"/><path d="M275.9 215.2l8.5 -1.7 -8.5 -1.3 -8.4 1.7z" fill="#f8e300"/><path d="M292.8 215.3l8.4 -1.9 -8.4 -1.8 -8.4 1.9z" fill="#f8e200"/><path d="M309.6 215.8l8.4 -2.1 -8.4 -2.4 -8.4 2.1z" fill="#f8e300"/><path d="M326.4 216.6l8.4 -2.3 -8.4 -2.9 -8.4 2.3z" fill="#f7e500"/><path d="M359.9 219.2l8.4 -2.6 -8.3 -3.9 -8.4 2.6z" fill="#f6ed00"/><path d="M166.7 222.4l8.4 -.4 -8.2 1.8 -8.5 .5z" fill="#29c037" stroke="#197421" stroke-opacity="0.75" stroke-width="0.9"/><path d="M183.5 220.6l8.4 -.6 -8.3 1.3 -8.5 .7z" fill="#24a62f" stroke="#197421" stroke-opacity="0.75" stroke-width="0.9"/><path d="M200.2 219.1l8.5 -.8 -8.4 .8 -8.4 .9z" fill="#1e8b28" stroke="#197421" stroke-opacity="0.75" stroke-width="0.9"/><path d="M217.0 217.9l8.5 -.9 -8.4 .3 -8.4 1z" fill="#aa9f00" stroke-opacity="0.20"/><path d="M233.9 217.2l8.4 -1.1 -8.4 -.3 -8.4 1.2z" fill="#c2b300" stroke-opacity="0.43"/><path d="M250.7 216.7l8.4 -1.3 -8.4 -.7 -8.4 1.4z" fill="#dbc700"/><path d="M301.2 217.6l8.4 -1.8 -8.4 -2.4 -8.4 1.9z" fill="#f8e000"/><path d="M318.0 218.6l8.4 -2 -8.4 -2.9 -8.4 2.1z" fill="#f8e300"/><path d="M334.8 219.9l8.4 -2.2 -8.4 -3.4 -8.4 2.3z" fill="#f7e700"/><path d="M351.5 221.6l8.4 -2.4 -8.3 -3.9 -8.4 2.4z" fill="#f6ec00"/><path d="M368.3 223.7l8.4 -2.6 -8.4 -4.5 -8.4 2.6z" fill="#f0f000"/><path d="M267.5 216.7l8.4 -1.5 -8.4 -1.3 -8.4 1.5z" fill="#f3d900"/><path d="M284.4 216.9l8.4 -1.6 -8.4 -1.8 -8.5 1.7z" fill="#f8dd00"/><path d="M175.0 220.9l8.5 -.3 -8.4 1.4 -8.4 .4z" fill="#26b233" stroke="#197421" stroke-opacity="0.75" stroke-width="0.9"/><path d="M225.4 218.0l8.5 -.8 -8.4 -.2 -8.5 .9z" fill="#b8a300" stroke-opacity="0.34"/><path d="M292.8 219.2l8.4 -1.6 -8.4 -2.3 -8.4 1.6z" fill="#f7d900"/><path d="M343.2 223.8l8.3 -2.2 -8.3 -3.9 -8.4 2.2z" fill="#f6eb00"/><path d="M191.8 219.6l8.4 -.5 -8.3 .9 -8.4 .6z" fill="#20972b" stroke="#197421" stroke-opacity="0.75" stroke-width="0.9"/><path d="M208.6 218.6l8.4 -.7 -8.3 .4 -8.5 .8z" fill="#a09200" stroke-opacity="0.10"/><path d="M242.3 217.8l8.4 -1.1 -8.4 -.6 -8.4 1.1z" fill="#d0b500"/><path d="M259.1 217.9l8.4 -1.2 -8.4 -1.3 -8.4 1.3z" fill="#e8c700"/><path d="M275.9 218.3l8.5 -1.4 -8.5 -1.7 -8.4 1.5z" fill="#f7d500"/><path d="M309.6 220.3l8.4 -1.7 -8.4 -2.8 -8.4 1.8z" fill="#f8e000"/><path d="M326.4 221.9l8.4 -2 -8.4 -3.3 -8.4 2z" fill="#f7e500"/><path d="M359.9 226.0l8.4 -2.3 -8.4 -4.5 -8.4 2.4z" fill="#f2f000"/><path d="M183.3 219.9l8.5 -.3 -8.3 1 -8.5 .3z" fill="#23a32f" stroke="#197421" stroke-opacity="0.75" stroke-width="0.9"/><path d="M200.1 219.1l8.5 -.5 -8.4 .5 -8.4 .5z" fill="#948100" stroke-opacity="0.00"/><path d="M217.0 218.7l8.4 -.7 -8.4 -.1 -8.4 .7z" fill="#ac9100" stroke-opacity="0.23"/><path d="M233.8 218.6l8.5 -.8 -8.4 -.6 -8.5 .8z" fill="#c5a100" stroke-opacity="0.47"/><path d="M250.7 218.9l8.4 -1 -8.4 -1.2 -8.4 1.1z" fill="#ddb500"/><path d="M267.5 219.5l8.4 -1.2 -8.4 -1.6 -8.4 1.2z" fill="#f6cb00"/><path d="M284.4 220.5l8.4 -1.3 -8.4 -2.3 -8.5 1.4z" fill="#f7d000"/><path d="M301.2 221.9l8.4 -1.6 -8.4 -2.7 -8.4 1.6z" fill="#f7d800"/><path d="M318.0 223.6l8.4 -1.7 -8.4 -3.3 -8.4 1.7z" fill="#f8e200"/><path d="M334.8 225.7l8.4 -1.9 -8.4 -3.9 -8.4 2z" fill="#f6e900"/><path d="M351.5 228.1l8.4 -2.1 -8.4 -4.4 -8.3 2.2z" fill="#f5f000"/><path d="M191.7 219.3l8.4 -.2 -8.3 .5 -8.5 .3z" fill="#20942a" stroke="#197421" stroke-opacity="0.75" stroke-width="0.9"/><path d="M208.5 219.0l8.5 -.3 -8.4 -.1 -8.5 .5z" fill="#a17e00" stroke-opacity="0.13"/><path d="M225.4 219.1l8.4 -.5 -8.4 -.6 -8.4 .7z" fill="#b98e00" stroke-opacity="0.37"/><path d="M242.2 219.6l8.5 -.7 -8.4 -1.1 -8.5 .8z" fill="#d2a100"/><path d="M259.1 220.4l8.4 -.9 -8.4 -1.6 -8.4 1z" fill="#ebb700"/><path d="M276.0 221.6l8.4 -1.1 -8.5 -2.2 -8.4 1.2z" fill="#f6c500"/><path d="M292.8 223.2l8.4 -1.3 -8.4 -2.7 -8.4 1.3z" fill="#f6cf00"/><path d="M309.6 225.1l8.4 -1.5 -8.4 -3.3 -8.4 1.6z" fill="#f8dc00"/><path d="M326.4 227.4l8.4 -1.7 -8.4 -3.8 -8.4 1.7z" fill="#f7e500"/><path d="M343.1 230.0l8.4 -1.9 -8.3 -4.3 -8.4 1.9z" fill="#f5ee00"/><path d="M200.1 219.2l8.4 -.2 -8.4 .1 -8.4 .2z" fill="#946900" stroke-opacity="0.03"/><path d="M233.8 220.1l8.4 -.5 -8.4 -1 -8.4 .5z" fill="#c58a00" stroke-opacity="0.51"/><path d="M250.7 221.1l8.4 -.7 -8.4 -1.5 -8.5 .7z" fill="#dfa000"/><path d="M267.5 222.5l8.5 -.9 -8.5 -2.1 -8.4 .9z" fill="#f4b800"/><path d="M284.4 224.2l8.4 -1 -8.4 -2.7 -8.4 1.1z" fill="#f5c400"/><path d="M301.2 226.4l8.4 -1.3 -8.4 -3.2 -8.4 1.3z" fill="#f7d200"/><path d="M318.0 228.8l8.4 -1.4 -8.4 -3.8 -8.4 1.5z" fill="#f8e200"/><path d="M334.8 231.7l8.3 -1.7 -8.3 -4.3 -8.4 1.7z" fill="#f6ea00"/><path d="M216.9 219.5l8.5 -.4 -8.4 -.4 -8.5 .3z" fill="#ad7800" stroke-opacity="0.27"/><path d="M208.5 219.5l8.4 0 -8.4 -.5 -8.4 .2z" fill="#9f6100" stroke-opacity="0.16"/><path d="M242.2 221.6l8.5 -.5 -8.5 -1.5 -8.4 .5z" fill="#d28800"/><path d="M259.1 223.1l8.4 -.6 -8.4 -2.1 -8.4 .7z" fill="#eca200"/><path d="M276.0 225.1l8.4 -.9 -8.4 -2.6 -8.5 .9z" fill="#f4b500"/><path d="M292.8 227.4l8.4 -1 -8.4 -3.2 -8.4 1z" fill="#f6c600"/><path d="M309.6 230.0l8.4 -1.2 -8.4 -3.7 -8.4 1.3z" fill="#f7d800"/><path d="M225.3 220.4l8.5 -.3 -8.4 -1 -8.5 .4z" fill="#b87200" stroke-opacity="0.40"/><path d="M326.4 233.1l8.4 -1.4 -8.4 -4.3 -8.4 1.4z" fill="#f7e600"/><path d="M216.9 220.4l8.4 0 -8.4 -.9 -8.4 0z" fill="#aa5e00" stroke-opacity="0.30"/><path d="M233.8 221.7l8.4 -.1 -8.4 -1.5 -8.5 .3z" fill="#c47100" stroke-opacity="0.54"/><path d="M250.7 223.5l8.4 -.4 -8.4 -2 -8.5 .5z" fill="#df8900"/><path d="M267.5 225.6l8.5 -.5 -8.5 -2.6 -8.4 .6z" fill="#f1a200"/><path d="M284.4 228.1l8.4 -.7 -8.4 -3.2 -8.4 .9z" fill="#f4b700"/><path d="M301.2 231.0l8.4 -1 -8.4 -3.6 -8.4 1z" fill="#f6cc00"/><path d="M318.0 234.2l8.4 -1.1 -8.4 -4.3 -8.4 1.2z" fill="#f8e200"/><path d="M259.1 226.0l8.4 -.4 -8.4 -2.5 -8.4 .4z" fill="#ed8e00"/><path d="M292.8 231.7l8.4 -.7 -8.4 -3.6 -8.4 .7z" fill="#f5be00"/><path d="M225.3 221.7l8.5 0 -8.5 -1.3 -8.4 0z" fill="#b65c00" stroke-opacity="0.44"/><path d="M242.2 223.6l8.5 -.1 -8.5 -1.9 -8.4 .1z" fill="#d17200"/><path d="M276.0 228.7l8.4 -.6 -8.4 -3 -8.5 .5z" fill="#f1a400"/><path d="M309.6 235.2l8.4 -1 -8.4 -4.2 -8.4 1z" fill="#f7d600"/><path d="M233.8 223.5l8.4 .1 -8.4 -1.9 -8.5 0z" fill="#c35d00"/><path d="M250.7 226.0l8.4 0 -8.4 -2.5 -8.5 .1z" fill="#de7600"/><path d="M267.5 228.9l8.5 -.2 -8.5 -3.1 -8.4 .4z" fill="#ee8f00"/><path d="M284.4 232.2l8.4 -.5 -8.4 -3.6 -8.4 .6z" fill="#f2aa00"/><path d="M301.2 235.8l8.4 -.6 -8.4 -4.2 -8.4 .7z" fill="#f6c800"/><path d="M242.2 225.8l8.5 .2 -8.5 -2.4 -8.4 -.1z" fill="#d16400"/><path d="M259.1 228.9l8.4 0 -8.4 -2.9 -8.4 0z" fill="#e97d00"/><path d="M276.0 232.4l8.4 -.2 -8.4 -3.5 -8.5 .2z" fill="#ee9400"/><path d="M292.8 236.3l8.4 -.5 -8.4 -4.1 -8.4 .5z" fill="#f4b600"/><path d="M267.5 232.4l8.5 0 -8.5 -3.5 -8.4 0z" fill="#ea8000"/><path d="M284.4 236.4l8.4 -.1 -8.4 -4.1 -8.4 .2z" fill="#f09f00"/><path d="M250.7 228.7l8.4 .2 -8.4 -2.9 -8.5 -.2z" fill="#e06b00"/><path d="M259.1 232.0l8.4 .4 -8.4 -3.5 -8.4 -.2z" fill="#e66e00"/><path d="M276.0 236.3l8.4 .1 -8.4 -4 -8.5 0z" fill="#ec8800"/><path d="M267.6 235.9l8.4 .4 -8.5 -3.9 -8.4 -.4z" fill="#e77300"/></g>
<circle cx="105.18" cy="320.91" r="2" fill="#111"/><circle cx="104.17" cy="299.56" r="2" fill="#111"/><circle cx="103.16" cy="278.21" r="2" fill="#111"/><circle cx="102.15" cy="256.85" r="2" fill="#111"/><circle cx="101.14" cy="235.5" r="2" fill="#111"/><circle cx="100.13" cy="214.15" r="2" fill="#111"/><circle cx="99.12" cy="192.8" r="2" fill="#111"/><circle cx="98.11" cy="171.45" r="2" fill="#111"/><circle cx="97.1" cy="150.1" r="2" fill="#111"/><circle cx="267.4" cy="452.3" r="2" fill="#111"/><circle cx="267.4" cy="452.3" r="2" fill="#111"/><circle cx="235.46" cy="436.68" r="2" fill="#111"/><circle cx="299.4" cy="436.72" r="2" fill="#111"/><circle cx="203.52" cy="421.06" r="2" fill="#111"/><circle cx="331.4" cy="421.14" r="2" fill="#111"/><circle cx="171.58" cy="405.44" r="2" fill="#111"/><circle cx="363.4" cy="405.56" r="2" fill="#111"/><circle cx="139.64" cy="389.82" r="2" fill="#111"/><circle cx="395.4" cy="389.98" r="2" fill="#111"/><circle cx="107.7" cy="374.2" r="2" fill="#111"/><circle cx="427.4" cy="374.4" r="2" fill="#111"/><g font-family="Liberation Sans, sans-serif" font-size="16.00" fill="#3a3a3a" stroke="#3a3a3a" stroke-width="0.3"><text x="96.2" y="318.0" text-anchor="end">100</text><text x="95.2" y="296.7" text-anchor="end">120</text><text x="94.2" y="275.3" text-anchor="end">140</text><text x="93.1" y="254.0" text-anchor="end">160</text><text x="92.1" y="232.6" text-anchor="end">180</text><text x="91.1" y="211.3" text-anchor="end">200</text><text x="90.1" y="189.9" text-anchor="end">220</text><text x="89.1" y="168.6" text-anchor="end">240</text><text x="88.1" y="147.2" text-anchor="end">260</text><text x="249.5" y="470.4" text-anchor="middle">15</text><text x="217.6" y="454.8" text-anchor="middle">28</text><text x="185.7" y="439.2" text-anchor="middle">41</text><text x="153.7" y="423.6" text-anchor="middle">54</text><text x="121.8" y="408.0" text-anchor="middle">67</text><text x="89.8" y="392.3" text-anchor="middle">80</text><text x="284.8" y="469.9" text-anchor="middle">20</text><text x="316.8" y="454.4" text-anchor="middle">26</text><text x="348.8" y="438.8" text-anchor="middle">32</text><text x="380.8" y="423.2" text-anchor="middle">38</text><text x="412.8" y="407.6" text-anchor="middle">44</text><text x="444.8" y="392.0" text-anchor="middle">50</text><text x="87.8" y="451.3" textLength="76.2" lengthAdjust="spacingAndGlyphs">Ethanol (%)</text><text x="352.4" y="451.3" textLength="112.9" lengthAdjust="spacingAndGlyphs">Temperature (°C)</text><clipPath id="cP1"><rect x="23.2" y="106.5" width="40" height="500"/></clipPath><g clip-path="url(#cP1)"><text transform="translate(53.2 437.4) rotate(-90)" style="font-size:15.6px">Total major phenolic acids extraction yield (%) (%)</text></g></g></g>
<g id="P2"><path d="M532.82 315.93L693.72 259.72 M531.87 294.79L693.73 240.62 M530.92 273.65L693.74 221.52 M529.96 252.51L693.75 202.41 M529.01 231.37L693.76 183.31 M528.06 210.22L693.77 164.21 M527.11 189.08L693.78 145.11 M526.15 167.94L693.79 126 M525.2 146.8L693.8 106.9 M558.92 138.82L565 304.69 M592.64 130.84L597.18 293.45 M626.36 122.86L629.36 282.2 M660.08 114.88L661.54 270.96 M693.72 259.72L855.14 316.11 M693.73 240.62L856.16 294.92 M693.74 221.52L857.18 273.73 M693.75 202.41L858.2 252.55 M693.76 183.31L859.22 231.36 M693.77 164.21L860.24 210.17 M693.78 145.11L861.26 188.98 M693.79 126L862.28 167.79 M693.8 106.9L863.3 146.6 M829.4 138.66L822.86 304.83 M795.5 130.72L790.58 293.56 M761.6 122.78L758.29 282.28 M727.7 114.84L726.01 271 M525.2 146.8L535.2 368.7 M693.8 106.9L693.7 307.4 M863.3 146.6L852.6 369" stroke="#686868" stroke-width="1.3" fill="none"/>
<polygon points="693.7,446.1 852.6,369 693.7,307.4 535.2,368.7" fill="#636363" stroke="#2a2a2a" stroke-width="1.4"/>
<g fill="none" stroke-width="2.3" stroke-linejoin="round" stroke-linecap="butt"><path d="M592.4 396.6L589.1 394.1 588.0 393.3 587.0 392.5 585.9 391.7 584.9 390.9 583.8 390.1 582.8 389.4 581.7 388.6 580.7 387.8 579.6 387.0 578.6 386.2 577.5 385.4 576.5 384.6 575.4 383.8 574.4 383.0 573.3 382.2 572.3 381.4 571.2 380.7 570.2 379.9 569.1 379.1 568.1 378.3 567.0 377.5 566.0 376.7 564.9 375.9 563.9 375.1 562.8 374.4 561.8 373.6 560.7 372.8 559.7 372.0 558.6 371.2 557.6 370.5 556.5 369.7 555.5 368.9 554.4 368.1 553.4 367.3 552.3 366.6 551.3 365.8 550.2 365.0 548.4 363.6" stroke="#d6b030"/><path d="M648.6 424.1L646.5 422.3 644.6 420.5 642.7 418.7 640.8 416.8 638.9 415.0 636.9 413.2 634.9 411.4 632.9 409.6 630.9 407.8 628.9 406.1 626.9 404.3 624.8 402.6 622.8 400.8 620.7 399.1 618.6 397.4 616.6 395.7 614.4 393.9 612.3 392.3 610.2 390.6 608.0 388.9 605.8 387.2 603.7 385.6 601.5 383.9 599.2 382.3 597.0 380.6 594.8 379.0 592.5 377.4 590.3 375.7 588.0 374.1 585.7 372.5 583.4 371.0 581.0 369.4 578.7 367.8 576.3 366.2 574.0 364.7 571.6 363.1 569.2 361.6 566.8 360.0 563.3 357.8" stroke="#d6b830"/><path d="M697.2 444.4L694.5 441.7 691.8 439.1 689.2 436.5 686.5 433.9 683.8 431.3 681.2 428.7 678.4 426.2 675.7 423.6 673.0 421.1 670.2 418.6 667.4 416.1 664.6 413.6 661.8 411.2 659.0 408.7 656.1 406.3 653.3 403.8 650.4 401.4 647.5 399.0 644.6 396.6 641.6 394.3 638.7 391.9 635.7 389.6 632.7 387.2 629.7 384.9 626.7 382.6 623.7 380.3 620.7 378.0 617.6 375.7 614.5 373.5 611.4 371.2 608.3 369.0 605.2 366.7 602.0 364.5 598.9 362.3 595.7 360.1 592.5 357.9 589.3 355.8 586.0 353.6 581.7 350.7" stroke="#cfd030"/><path d="M713.7 436.4L710.3 433.8 707.2 431.4 704.2 429.0 701.2 426.6 698.2 424.2 695.2 421.8 692.3 419.4 689.4 417.0 686.6 414.6 683.7 412.1 680.9 409.7 678.1 407.3 675.4 404.8 672.7 402.3 670.0 399.9 667.3 397.4 664.7 394.9 662.1 392.4 659.5 389.9 657.0 387.4 654.4 384.9 652.0 382.4 649.5 379.9 647.1 377.4 644.7 374.9 642.3 372.4 639.9 369.8 637.6 367.3 635.3 364.8 633.1 362.2 630.8 359.7 628.6 357.1 626.5 354.6 624.3 352.0 622.2 349.5 620.1 346.9 618.0 344.4 616.0 341.8 613.5 338.4" stroke="#cfd030"/><path d="M733.2 426.9L732.2 424.9 730.8 423.0 728.6 420.6 726.0 417.7 723.0 414.5 719.8 411.1 716.5 407.5 713.2 403.8 710.1 400.0 707.1 396.3 704.6 392.6 702.4 389.1 700.7 385.7 699.5 382.6 698.9 379.6 698.9 377.0 699.6 374.6 701.0 372.6 703.0 370.9 705.7 369.5 709.1 368.4 713.2 367.7 717.9 367.3 723.2 367.2 729.0 367.4 735.4 367.9 742.1 368.6 749.2 369.6 756.5 370.7 764.0 372.1 771.6 373.6 779.1 375.1 786.4 376.7 793.4 378.4 799.9 379.9 805.7 381.4 810.8 382.6 814.9 383.7 819.9 384.9" stroke="#cad42e"/><path d="M838.1 376.0L831.8 374.4 827.0 373.1 822.3 371.9 817.5 370.6 812.8 369.3 808.0 368.1 803.2 366.8 798.4 365.6 793.6 364.3 788.8 363.0 784.0 361.8 779.2 360.5 774.4 359.3 769.5 358.0 764.7 356.8 759.8 355.5 755.0 354.2 750.1 353.0 745.2 351.7 740.3 350.5 735.4 349.2 730.5 347.9 725.6 346.7 720.7 345.4 715.7 344.2 710.8 342.9 705.8 341.6 700.9 340.4 695.9 339.1 690.9 337.8 685.9 336.6 680.9 335.3 675.9 334.0 670.9 332.7 665.9 331.5 660.8 330.2 655.8 328.9 650.8 327.6 645.1 326.2" stroke="#cad42e"/><path d="M852.2 369.2L845.0 367.4 840.1 366.3 835.3 365.1 830.5 363.9 825.8 362.7 821.0 361.5 816.3 360.2 811.6 359.0 806.9 357.7 802.2 356.4 797.5 355.2 792.9 353.9 788.3 352.6 783.7 351.2 779.2 349.9 774.6 348.6 770.1 347.2 765.6 345.8 761.0 344.5 756.6 343.1 752.1 341.7 747.7 340.3 743.3 338.8 738.9 337.4 734.5 336.0 730.1 334.5 725.8 333.1 721.5 331.6 717.2 330.1 712.9 328.6 708.6 327.1 704.4 325.6 700.2 324.1 696.0 322.6 691.8 321.0 687.6 319.5 683.5 317.9 679.4 316.4 674.9 314.7" stroke="#cad42e"/><path d="M748.6 328.7L740.1 325.9 738.8 325.4 737.5 325.0 736.2 324.6 734.9 324.1 733.6 323.7 732.3 323.3 731.0 322.9 729.8 322.4 728.5 322.0 727.2 321.6 725.9 321.1 724.6 320.7 723.3 320.3 722.0 319.8 720.7 319.4 719.4 319.0 718.1 318.6 716.8 318.1 715.5 317.7 714.2 317.3 712.9 316.8 711.6 316.4 710.3 316.0 709.0 315.5 707.7 315.1 706.4 314.7 705.1 314.2 703.9 313.8 702.6 313.4 701.3 312.9 700.0 312.5 698.7 312.1 697.4 311.6 696.1 311.2 694.8 310.8 693.5 310.3 692.2 309.9 689.6 309.0" stroke="#cad42e"/></g>
<g stroke="#000" stroke-width="0.85" stroke-opacity="0.55" stroke-linejoin="round"><path d="M693.8 153.5l8.3 -3.2 -8.3 -2.6 -8.3 3.1z" fill="#f7e600"/><path d="M685.5 156.5l8.3 -3 -8.3 -2.7 -8.4 3.1z" fill="#f6ea00"/><path d="M702.2 156.1l8.3 -3.3 -8.4 -2.5 -8.3 3.2z" fill="#f7e800"/><path d="M677.2 159.5l8.3 -3 -8.4 -2.6 -8.3 2.9z" fill="#f6ed00"/><path d="M693.9 159.2l8.3 -3.1 -8.4 -2.6 -8.3 3z" fill="#f6eb00"/><path d="M710.5 158.7l8.4 -3.3 -8.4 -2.6 -8.3 3.3z" fill="#f6e900"/><path d="M668.9 162.3l8.3 -2.8 -8.4 -2.7 -8.3 2.8z" fill="#f5ef00"/><path d="M685.5 162.2l8.4 -3 -8.4 -2.7 -8.3 3z" fill="#f5ee00"/><path d="M702.2 161.8l8.3 -3.1 -8.3 -2.6 -8.3 3.1z" fill="#f6ec00"/><path d="M718.9 161.2l8.3 -3.3 -8.3 -2.5 -8.4 3.3z" fill="#f6ea00"/><path d="M660.5 165.0l8.4 -2.7 -8.4 -2.7 -8.3 2.6z" fill="#f4f000"/><path d="M677.2 165.1l8.3 -2.9 -8.3 -2.7 -8.3 2.8z" fill="#f4f000"/><path d="M693.9 164.9l8.3 -3.1 -8.3 -2.6 -8.4 3z" fill="#f5ef00"/><path d="M710.6 164.4l8.3 -3.2 -8.4 -2.5 -8.3 3.1z" fill="#f5ee00"/><path d="M727.3 163.7l8.3 -3.3 -8.4 -2.5 -8.3 3.3z" fill="#f6eb00"/><path d="M652.2 167.6l8.3 -2.6 -8.3 -2.8 -8.3 2.6z" fill="#f1f000"/><path d="M668.9 167.8l8.3 -2.7 -8.3 -2.8 -8.4 2.7z" fill="#f1f000"/><path d="M685.6 167.8l8.3 -2.9 -8.4 -2.7 -8.3 2.9z" fill="#f2f000"/><path d="M702.2 167.5l8.4 -3.1 -8.4 -2.6 -8.3 3.1z" fill="#f4f000"/><path d="M718.9 167.0l8.4 -3.3 -8.4 -2.5 -8.3 3.2z" fill="#f5ef00"/><path d="M735.6 166.2l8.4 -3.4 -8.4 -2.4 -8.3 3.3z" fill="#f6ec00"/><path d="M643.9 170.1l8.3 -2.5 -8.3 -2.8 -8.3 2.4z" fill="#f0f000"/><path d="M660.6 170.5l8.3 -2.7 -8.4 -2.8 -8.3 2.6z" fill="#eef100"/><path d="M677.2 170.6l8.4 -2.8 -8.4 -2.7 -8.3 2.7z" fill="#eef100"/><path d="M693.9 170.5l8.3 -3 -8.3 -2.6 -8.3 2.9z" fill="#eff000"/><path d="M710.6 170.2l8.3 -3.2 -8.3 -2.6 -8.4 3.1z" fill="#f2f000"/><path d="M727.3 169.6l8.3 -3.4 -8.3 -2.5 -8.4 3.3z" fill="#f5f000"/><path d="M744.0 168.7l8.3 -3.5 -8.3 -2.4 -8.4 3.4z" fill="#f6ed00"/><path d="M635.6 172.4l8.3 -2.3 -8.3 -2.9 -8.4 2.2z" fill="#eff000"/><path d="M652.3 173.0l8.3 -2.5 -8.4 -2.9 -8.3 2.5z" fill="#edf100"/><path d="M668.9 173.3l8.3 -2.7 -8.3 -2.8 -8.3 2.7z" fill="#ecf100"/><path d="M685.6 173.4l8.3 -2.9 -8.3 -2.7 -8.4 2.8z" fill="#ecf100"/><path d="M702.3 173.2l8.3 -3 -8.4 -2.7 -8.3 3z" fill="#edf100"/><path d="M718.9 172.8l8.4 -3.2 -8.4 -2.6 -8.3 3.2z" fill="#f0f000"/><path d="M735.6 172.1l8.4 -3.4 -8.4 -2.5 -8.3 3.4z" fill="#f4f000"/><path d="M752.3 171.1l8.4 -3.5 -8.4 -2.4 -8.3 3.5z" fill="#f5ee00"/><path d="M627.3 174.6l8.3 -2.2 -8.4 -3 -8.3 2.2z" fill="#eff000"/><path d="M643.9 175.3l8.4 -2.3 -8.4 -2.9 -8.3 2.3z" fill="#ecf100"/><path d="M660.6 175.8l8.3 -2.5 -8.3 -2.8 -8.3 2.5z" fill="#eaf100"/><path d="M677.3 176.1l8.3 -2.7 -8.4 -2.8 -8.3 2.7z" fill="#eaf100"/><path d="M693.9 176.1l8.4 -2.9 -8.4 -2.7 -8.3 2.9z" fill="#eaf100"/><path d="M710.6 175.8l8.3 -3 -8.3 -2.6 -8.3 3z" fill="#ecf100"/><path d="M727.3 175.3l8.3 -3.2 -8.3 -2.5 -8.4 3.2z" fill="#eef100"/><path d="M744.0 174.6l8.3 -3.5 -8.3 -2.4 -8.4 3.4z" fill="#f2f000"/><path d="M760.7 173.6l8.3 -3.6 -8.3 -2.4 -8.4 3.5z" fill="#f5ee00"/><path d="M618.9 176.6l8.4 -2 -8.4 -3 -8.3 2z" fill="#f0f000"/><path d="M635.6 177.5l8.3 -2.2 -8.3 -2.9 -8.3 2.2z" fill="#ecf100"/><path d="M652.3 178.2l8.3 -2.4 -8.3 -2.8 -8.4 2.3z" fill="#e9f100"/><path d="M669.0 178.7l8.3 -2.6 -8.4 -2.8 -8.3 2.5z" fill="#e8f100"/><path d="M685.6 178.8l8.3 -2.7 -8.3 -2.7 -8.3 2.7z" fill="#e7f100"/><path d="M702.3 178.8l8.3 -3 -8.3 -2.6 -8.4 2.9z" fill="#e8f100"/><path d="M719.0 178.4l8.3 -3.1 -8.4 -2.5 -8.3 3z" fill="#eaf100"/><path d="M735.6 177.8l8.4 -3.2 -8.4 -2.5 -8.3 3.2z" fill="#edf100"/><path d="M752.3 177.0l8.4 -3.4 -8.4 -2.5 -8.3 3.5z" fill="#f1f000"/><path d="M769.0 175.9l8.4 -3.6 -8.4 -2.3 -8.3 3.6z" fill="#f5ef00"/><path d="M610.6 178.5l8.3 -1.9 -8.3 -3 -8.3 1.8z" fill="#f2f000"/><path d="M627.3 179.6l8.3 -2.1 -8.3 -2.9 -8.4 2z" fill="#edf100"/><path d="M644.0 180.5l8.3 -2.3 -8.4 -2.9 -8.3 2.2z" fill="#e9f100"/><path d="M660.6 181.1l8.4 -2.4 -8.4 -2.9 -8.3 2.4z" fill="#e7f100"/><path d="M677.3 181.5l8.3 -2.7 -8.3 -2.7 -8.3 2.6z" fill="#e6f100"/><path d="M694.0 181.6l8.3 -2.8 -8.4 -2.7 -8.3 2.7z" fill="#e5f100"/><path d="M710.6 181.4l8.4 -3 -8.4 -2.6 -8.3 3z" fill="#e6f100"/><path d="M727.3 181.0l8.3 -3.2 -8.3 -2.5 -8.3 3.1z" fill="#e9f100"/><path d="M744.0 180.3l8.3 -3.3 -8.3 -2.4 -8.4 3.2z" fill="#ecf100"/><path d="M760.7 179.4l8.3 -3.5 -8.3 -2.3 -8.4 3.4z" fill="#f1f000"/><path d="M777.4 178.3l8.3 -3.7 -8.3 -2.3 -8.4 3.6z" fill="#f5ef00"/><path d="M602.3 180.3l8.3 -1.8 -8.3 -3.1 -8.4 1.8z" fill="#f4f000"/><path d="M619.0 181.6l8.3 -2 -8.4 -3 -8.3 1.9z" fill="#eff000"/><path d="M635.6 182.6l8.4 -2.1 -8.4 -3 -8.3 2.1z" fill="#eaf100"/><path d="M652.3 183.4l8.3 -2.3 -8.3 -2.9 -8.3 2.3z" fill="#e7f100"/><path d="M669.0 183.9l8.3 -2.4 -8.3 -2.8 -8.4 2.4z" fill="#e5f100"/><path d="M685.6 184.2l8.4 -2.6 -8.4 -2.8 -8.3 2.7z" fill="#e4f100"/><path d="M702.3 184.3l8.3 -2.9 -8.3 -2.6 -8.3 2.8z" fill="#e4f100"/><path d="M719.0 184.0l8.3 -3 -8.3 -2.6 -8.4 3z" fill="#e5f100"/><path d="M735.6 183.5l8.4 -3.2 -8.4 -2.5 -8.3 3.2z" fill="#e7f100"/><path d="M752.3 182.8l8.4 -3.4 -8.4 -2.4 -8.3 3.3z" fill="#ebf100"/><path d="M769.0 181.8l8.4 -3.5 -8.4 -2.4 -8.3 3.5z" fill="#f0f000"/><path d="M785.7 180.6l8.4 -3.7 -8.4 -2.3 -8.3 3.7z" fill="#f5ef00"/><path d="M594.0 181.9l8.3 -1.6 -8.4 -3.1 -8.3 1.5z" fill="#f5ee00"/><path d="M610.6 183.4l8.4 -1.8 -8.4 -3.1 -8.3 1.8z" fill="#f1f000"/><path d="M627.3 184.6l8.3 -2 -8.3 -3 -8.3 2z" fill="#ecf100"/><path d="M644.0 185.6l8.3 -2.2 -8.3 -2.9 -8.4 2.1z" fill="#e8f100"/><path d="M660.7 186.3l8.3 -2.4 -8.4 -2.8 -8.3 2.3z" fill="#e5f100"/><path d="M677.3 186.8l8.3 -2.6 -8.3 -2.7 -8.3 2.4z" fill="#e3f100"/><path d="M694.0 187.0l8.3 -2.7 -8.3 -2.7 -8.4 2.6z" fill="#e2f200"/><path d="M710.6 186.9l8.4 -2.9 -8.4 -2.6 -8.3 2.9z" fill="#e2f200"/><path d="M727.3 186.6l8.3 -3.1 -8.3 -2.5 -8.3 3z" fill="#e4f100"/><path d="M744.0 186.1l8.3 -3.3 -8.3 -2.5 -8.4 3.2z" fill="#e7f100"/><path d="M760.7 185.2l8.3 -3.4 -8.3 -2.4 -8.4 3.4z" fill="#eaf100"/><path d="M777.4 184.2l8.3 -3.6 -8.3 -2.3 -8.4 3.5z" fill="#eff000"/><path d="M794.1 182.9l8.4 -3.8 -8.4 -2.2 -8.4 3.7z" fill="#f5f000"/><path d="M585.6 183.4l8.4 -1.5 -8.4 -3.2 -8.4 1.5z" fill="#f6ec00"/><path d="M619.0 186.5l8.3 -1.9 -8.3 -3 -8.4 1.8z" fill="#eef100"/><path d="M635.7 187.6l8.3 -2 -8.4 -3 -8.3 2z" fill="#e9f100"/><path d="M652.3 188.5l8.4 -2.2 -8.4 -2.9 -8.3 2.2z" fill="#e5f100"/><path d="M669.0 189.2l8.3 -2.4 -8.3 -2.9 -8.3 2.4z" fill="#e2f100"/><path d="M702.3 189.7l8.3 -2.8 -8.3 -2.6 -8.3 2.7z" fill="#e0f200"/><path d="M735.7 189.2l8.3 -3.1 -8.4 -2.6 -8.3 3.1z" fill="#e3f100"/><path d="M752.3 188.5l8.4 -3.3 -8.4 -2.4 -8.3 3.3z" fill="#e6f100"/><path d="M769.0 187.7l8.4 -3.5 -8.4 -2.4 -8.3 3.4z" fill="#eaf100"/><path d="M785.7 186.5l8.4 -3.6 -8.4 -2.3 -8.3 3.6z" fill="#eff000"/><path d="M602.3 185.1l8.3 -1.7 -8.3 -3.1 -8.3 1.6z" fill="#f5f000"/><path d="M685.7 189.6l8.3 -2.6 -8.4 -2.8 -8.3 2.6z" fill="#e1f200"/><path d="M719.0 189.6l8.3 -3 -8.3 -2.6 -8.4 2.9z" fill="#e1f200"/><path d="M802.4 185.1l8.4 -3.8 -8.3 -2.2 -8.4 3.8z" fill="#f5f000"/><path d="M577.3 184.7l8.3 -1.3 -8.4 -3.2 -8.3 1.3z" fill="#f6e900"/><path d="M594.0 186.6l8.3 -1.5 -8.3 -3.2 -8.4 1.5z" fill="#f5ee00"/><path d="M610.7 188.2l8.3 -1.7 -8.4 -3.1 -8.3 1.7z" fill="#f2f000"/><path d="M627.3 189.5l8.4 -1.9 -8.4 -3 -8.3 1.9z" fill="#ecf100"/><path d="M644.0 190.6l8.3 -2.1 -8.3 -2.9 -8.3 2z" fill="#e7f100"/><path d="M660.7 191.4l8.3 -2.2 -8.3 -2.9 -8.4 2.2z" fill="#e3f100"/><path d="M677.3 192.0l8.4 -2.4 -8.4 -2.8 -8.3 2.4z" fill="#e1f200"/><path d="M694.0 192.3l8.3 -2.6 -8.3 -2.7 -8.3 2.6z" fill="#dff200"/><path d="M710.7 192.4l8.3 -2.8 -8.4 -2.7 -8.3 2.8z" fill="#dff200"/><path d="M727.3 192.2l8.4 -3 -8.4 -2.6 -8.3 3z" fill="#e0f200"/><path d="M744.0 191.7l8.3 -3.2 -8.3 -2.4 -8.3 3.1z" fill="#e2f200"/><path d="M760.7 191.0l8.3 -3.3 -8.3 -2.5 -8.4 3.3z" fill="#e5f100"/><path d="M777.4 190.0l8.3 -3.5 -8.3 -2.3 -8.4 3.5z" fill="#eaf100"/><path d="M794.1 188.8l8.3 -3.7 -8.3 -2.2 -8.4 3.6z" fill="#eff000"/><path d="M810.8 187.3l8.4 -3.9 -8.4 -2.1 -8.4 3.8z" fill="#f5ef00"/><path d="M568.9 185.9l8.4 -1.2 -8.4 -3.2 -8.4 1.1z" fill="#f7e500"/><path d="M585.6 187.9l8.4 -1.3 -8.4 -3.2 -8.3 1.3z" fill="#f6eb00"/><path d="M602.3 189.7l8.4 -1.5 -8.4 -3.1 -8.3 1.5z" fill="#f5ef00"/><path d="M619.0 191.3l8.3 -1.8 -8.3 -3 -8.3 1.7z" fill="#eff000"/><path d="M635.7 192.5l8.3 -1.9 -8.3 -3 -8.4 1.9z" fill="#e9f100"/><path d="M652.4 193.5l8.3 -2.1 -8.4 -2.9 -8.3 2.1z" fill="#e5f100"/><path d="M669.0 194.3l8.3 -2.3 -8.3 -2.8 -8.3 2.2z" fill="#e1f200"/><path d="M685.7 194.8l8.3 -2.5 -8.3 -2.7 -8.4 2.4z" fill="#dff200"/><path d="M702.3 195.0l8.4 -2.6 -8.4 -2.7 -8.3 2.6z" fill="#def200"/><path d="M719.0 195.0l8.3 -2.8 -8.3 -2.6 -8.3 2.8z" fill="#def200"/><path d="M735.7 194.7l8.3 -3 -8.3 -2.5 -8.4 3z" fill="#dff200"/><path d="M752.3 194.2l8.4 -3.2 -8.4 -2.5 -8.3 3.2z" fill="#e1f200"/><path d="M769.0 193.4l8.4 -3.4 -8.4 -2.3 -8.3 3.3z" fill="#e5f100"/><path d="M785.7 192.4l8.4 -3.6 -8.4 -2.3 -8.3 3.5z" fill="#e9f100"/><path d="M802.4 191.0l8.4 -3.7 -8.4 -2.2 -8.3 3.7z" fill="#eff000"/><path d="M819.2 189.5l8.4 -3.9 -8.4 -2.2 -8.4 3.9z" fill="#f5ef00"/><path d="M560.5 186.9l8.4 -1 -8.4 -3.3 -8.3 1z" fill="#f8e100"/><path d="M577.3 189.2l8.3 -1.3 -8.3 -3.2 -8.4 1.2z" fill="#f7e700"/><path d="M594.0 191.1l8.3 -1.4 -8.3 -3.1 -8.4 1.3z" fill="#f6ec00"/><path d="M610.7 192.9l8.3 -1.6 -8.3 -3.1 -8.4 1.5z" fill="#f3f000"/><path d="M627.4 194.3l8.3 -1.8 -8.4 -3 -8.3 1.8z" fill="#ecf100"/><path d="M644.0 195.5l8.4 -2 -8.4 -2.9 -8.3 1.9z" fill="#e7f100"/><path d="M660.7 196.5l8.3 -2.2 -8.3 -2.9 -8.3 2.1z" fill="#e3f100"/><path d="M677.4 197.1l8.3 -2.3 -8.4 -2.8 -8.3 2.3z" fill="#dff200"/><path d="M694.0 197.6l8.3 -2.6 -8.3 -2.7 -8.3 2.5z" fill="#ddf200"/><path d="M710.7 197.7l8.3 -2.7 -8.3 -2.6 -8.4 2.6z" fill="#dcf200"/><path d="M727.3 197.6l8.4 -2.9 -8.4 -2.5 -8.3 2.8z" fill="#ddf200"/><path d="M744.0 197.3l8.3 -3.1 -8.3 -2.5 -8.3 3z" fill="#def200"/><path d="M760.7 196.7l8.3 -3.3 -8.3 -2.4 -8.4 3.2z" fill="#e1f200"/><path d="M777.4 195.8l8.3 -3.4 -8.3 -2.4 -8.4 3.4z" fill="#e5f100"/><path d="M794.1 194.7l8.3 -3.7 -8.3 -2.2 -8.4 3.6z" fill="#eaf100"/><path d="M810.8 193.3l8.4 -3.8 -8.4 -2.2 -8.4 3.7z" fill="#f0f000"/><path d="M827.5 191.6l8.4 -3.9 -8.3 -2.1 -8.4 3.9z" fill="#f5ef00"/><path d="M552.1 187.8l8.4 -.9 -8.3 -3.3 -8.4 .9z" fill="#f7d600"/><path d="M568.9 190.2l8.4 -1 -8.4 -3.3 -8.4 1z" fill="#f8e300"/><path d="M585.6 192.4l8.4 -1.3 -8.4 -3.2 -8.3 1.3z" fill="#f6e900"/><path d="M602.3 194.3l8.4 -1.4 -8.4 -3.2 -8.3 1.4z" fill="#f5ee00"/><path d="M619.0 195.9l8.4 -1.6 -8.4 -3 -8.3 1.6z" fill="#f1f000"/><path d="M635.7 197.3l8.3 -1.8 -8.3 -3 -8.3 1.8z" fill="#eaf100"/><path d="M652.4 198.5l8.3 -2 -8.3 -3 -8.4 2z" fill="#e5f100"/><path d="M669.0 199.3l8.4 -2.2 -8.4 -2.8 -8.3 2.2z" fill="#e1f200"/><path d="M685.7 199.9l8.3 -2.3 -8.3 -2.8 -8.3 2.3z" fill="#def200"/><path d="M702.3 200.3l8.4 -2.6 -8.4 -2.7 -8.3 2.6z" fill="#dcf200"/><path d="M719.0 200.4l8.3 -2.8 -8.3 -2.6 -8.3 2.7z" fill="#dcf200"/><path d="M735.7 200.2l8.3 -2.9 -8.3 -2.6 -8.4 2.9z" fill="#dcf200"/><path d="M752.3 199.8l8.4 -3.1 -8.4 -2.5 -8.3 3.1z" fill="#def200"/><path d="M769.0 199.1l8.4 -3.3 -8.4 -2.4 -8.3 3.3z" fill="#e1f200"/><path d="M785.7 198.1l8.4 -3.4 -8.4 -2.3 -8.3 3.4z" fill="#e5f100"/><path d="M802.4 196.9l8.4 -3.6 -8.4 -2.3 -8.3 3.7z" fill="#eaf100"/><path d="M819.1 195.5l8.4 -3.9 -8.3 -2.1 -8.4 3.8z" fill="#f0f000"/><path d="M835.9 193.7l8.4 -4 -8.4 -2 -8.4 3.9z" fill="#f5ee00"/><path d="M543.7 188.5l8.4 -.7 -8.3 -3.3 -8.4 .6z" fill="#f6ca00"/><path d="M577.2 193.5l8.4 -1.1 -8.3 -3.2 -8.4 1z" fill="#f7e500"/><path d="M594.0 195.6l8.3 -1.3 -8.3 -3.2 -8.4 1.3z" fill="#f6eb00"/><path d="M610.7 197.4l8.3 -1.5 -8.3 -3 -8.4 1.4z" fill="#f5f000"/><path d="M627.4 199.0l8.3 -1.7 -8.3 -3 -8.4 1.6z" fill="#eef100"/><path d="M660.7 201.4l8.3 -2.1 -8.3 -2.8 -8.3 2z" fill="#e3f100"/><path d="M677.4 202.2l8.3 -2.3 -8.3 -2.8 -8.4 2.2z" fill="#dff200"/><path d="M694.0 202.7l8.3 -2.4 -8.3 -2.7 -8.3 2.3z" fill="#dcf200"/><path d="M710.7 203.0l8.3 -2.6 -8.3 -2.7 -8.4 2.6z" fill="#dbf200"/><path d="M727.3 203.0l8.4 -2.8 -8.4 -2.6 -8.3 2.8z" fill="#dbf200"/><path d="M744.0 202.8l8.3 -3 -8.3 -2.5 -8.3 2.9z" fill="#dcf200"/><path d="M777.4 201.5l8.3 -3.4 -8.3 -2.3 -8.4 3.3z" fill="#e1f200"/><path d="M794.1 200.4l8.3 -3.5 -8.3 -2.2 -8.4 3.4z" fill="#e5f100"/><path d="M810.8 199.2l8.3 -3.7 -8.3 -2.2 -8.4 3.6z" fill="#eaf100"/><path d="M844.3 195.8l8.4 -4.1 -8.4 -2 -8.4 4z" fill="#f5ee00"/><path d="M560.5 191.2l8.4 -1 -8.4 -3.3 -8.4 .9z" fill="#f7db00"/><path d="M644.0 200.3l8.4 -1.8 -8.4 -3 -8.3 1.8z" fill="#e8f100"/><path d="M760.7 202.2l8.3 -3.1 -8.3 -2.4 -8.4 3.1z" fill="#ddf200"/><path d="M827.5 197.6l8.4 -3.9 -8.4 -2.1 -8.4 3.9z" fill="#f1f000"/><path d="M535.3 189.1l8.4 -.6 -8.3 -3.4 -8.4 .6z" fill="#f5bc00"/><path d="M552.1 191.9l8.4 -.7 -8.4 -3.4 -8.4 .7z" fill="#f6cf00"/><path d="M568.9 194.5l8.3 -1 -8.3 -3.3 -8.4 1z" fill="#f8df00"/><path d="M585.6 196.7l8.4 -1.1 -8.4 -3.2 -8.4 1.1z" fill="#f7e700"/><path d="M602.3 198.8l8.4 -1.4 -8.4 -3.1 -8.3 1.3z" fill="#f6ec00"/><path d="M619.0 200.5l8.4 -1.5 -8.4 -3.1 -8.3 1.5z" fill="#f3f000"/><path d="M635.7 202.0l8.3 -1.7 -8.3 -3 -8.3 1.7z" fill="#ecf100"/><path d="M652.4 203.3l8.3 -1.9 -8.3 -2.9 -8.4 1.8z" fill="#e6f100"/><path d="M669.0 204.3l8.4 -2.1 -8.4 -2.9 -8.3 2.1z" fill="#e1f200"/><path d="M685.7 205.0l8.3 -2.3 -8.3 -2.8 -8.3 2.3z" fill="#def200"/><path d="M702.4 205.5l8.3 -2.5 -8.4 -2.7 -8.3 2.4z" fill="#dbf200"/><path d="M719.0 205.7l8.3 -2.7 -8.3 -2.6 -8.3 2.6z" fill="#daf200"/><path d="M735.7 205.6l8.3 -2.8 -8.3 -2.6 -8.4 2.8z" fill="#daf200"/><path d="M752.3 205.3l8.4 -3.1 -8.4 -2.4 -8.3 3z" fill="#dbf200"/><path d="M769.0 204.7l8.4 -3.2 -8.4 -2.4 -8.3 3.1z" fill="#ddf200"/><path d="M785.7 203.8l8.4 -3.4 -8.4 -2.3 -8.3 3.4z" fill="#e1f200"/><path d="M802.4 202.7l8.4 -3.5 -8.4 -2.3 -8.3 3.5z" fill="#e5f100"/><path d="M819.1 201.4l8.4 -3.8 -8.4 -2.1 -8.3 3.7z" fill="#ebf100"/><path d="M835.9 199.7l8.4 -3.9 -8.4 -2.1 -8.4 3.9z" fill="#f2f000"/><path d="M852.6 197.8l8.4 -4.1 -8.3 -2 -8.4 4.1z" fill="#f6ed00"/><path d="M560.5 195.2l8.4 -.7 -8.4 -3.3 -8.4 .7z" fill="#f7d400"/><path d="M594.0 199.9l8.3 -1.1 -8.3 -3.2 -8.4 1.1z" fill="#f7e800"/><path d="M677.4 207.1l8.3 -2.1 -8.3 -2.8 -8.4 2.1z" fill="#e0f200"/><path d="M727.4 208.3l8.3 -2.7 -8.4 -2.6 -8.3 2.7z" fill="#daf200"/><path d="M810.8 205.0l8.3 -3.6 -8.3 -2.2 -8.4 3.5z" fill="#e6f100"/><path d="M844.2 201.8l8.4 -4 -8.3 -2 -8.4 3.9z" fill="#f3f000"/><path d="M543.7 192.5l8.4 -.6 -8.4 -3.4 -8.4 .6z" fill="#f5c200"/><path d="M577.2 197.7l8.4 -1 -8.4 -3.2 -8.3 1z" fill="#f8e200"/><path d="M610.7 201.9l8.3 -1.4 -8.3 -3.1 -8.4 1.4z" fill="#f5ee00"/><path d="M627.4 203.6l8.3 -1.6 -8.3 -3 -8.4 1.5z" fill="#f1f000"/><path d="M644.0 205.0l8.4 -1.7 -8.4 -3 -8.3 1.7z" fill="#eaf100"/><path d="M660.7 206.2l8.3 -1.9 -8.3 -2.9 -8.3 1.9z" fill="#e4f100"/><path d="M694.0 207.8l8.4 -2.3 -8.4 -2.8 -8.3 2.3z" fill="#ddf200"/><path d="M710.7 208.2l8.3 -2.5 -8.3 -2.7 -8.3 2.5z" fill="#dbf200"/><path d="M744.0 208.2l8.3 -2.9 -8.3 -2.5 -8.3 2.8z" fill="#daf200"/><path d="M760.7 207.8l8.3 -3.1 -8.3 -2.5 -8.4 3.1z" fill="#dbf200"/><path d="M777.4 207.1l8.3 -3.3 -8.3 -2.3 -8.4 3.2z" fill="#ddf200"/><path d="M794.1 206.2l8.3 -3.5 -8.3 -2.3 -8.4 3.4z" fill="#e1f200"/><path d="M827.5 203.5l8.4 -3.8 -8.4 -2.1 -8.4 3.8z" fill="#ecf100"/><path d="M552.1 195.9l8.4 -.7 -8.4 -3.3 -8.4 .6z" fill="#f6c700"/><path d="M568.8 198.6l8.4 -.9 -8.3 -3.2 -8.4 .7z" fill="#f7d800"/><path d="M585.6 201.0l8.4 -1.1 -8.4 -3.2 -8.4 1z" fill="#f7e400"/><path d="M602.3 203.1l8.4 -1.2 -8.4 -3.1 -8.3 1.1z" fill="#f6ea00"/><path d="M619.0 205.0l8.4 -1.4 -8.4 -3.1 -8.3 1.4z" fill="#f5ef00"/><path d="M635.7 206.7l8.3 -1.7 -8.3 -3 -8.3 1.6z" fill="#eff100"/><path d="M652.4 208.0l8.3 -1.8 -8.3 -2.9 -8.4 1.7z" fill="#e8f100"/><path d="M669.0 209.1l8.4 -2 -8.4 -2.8 -8.3 1.9z" fill="#e3f100"/><path d="M685.7 210.0l8.3 -2.2 -8.3 -2.8 -8.3 2.1z" fill="#dff200"/><path d="M702.4 210.5l8.3 -2.3 -8.3 -2.7 -8.4 2.3z" fill="#dcf200"/><path d="M719.0 210.9l8.4 -2.6 -8.4 -2.6 -8.3 2.5z" fill="#daf200"/><path d="M735.7 210.9l8.3 -2.7 -8.3 -2.6 -8.3 2.7z" fill="#daf200"/><path d="M752.3 210.7l8.4 -2.9 -8.4 -2.5 -8.3 2.9z" fill="#daf200"/><path d="M769.0 210.2l8.4 -3.1 -8.4 -2.4 -8.3 3.1z" fill="#dbf200"/><path d="M785.7 209.5l8.4 -3.3 -8.4 -2.4 -8.3 3.3z" fill="#def200"/><path d="M802.4 208.4l8.4 -3.4 -8.4 -2.3 -8.3 3.5z" fill="#e2f200"/><path d="M819.1 207.2l8.4 -3.7 -8.4 -2.1 -8.3 3.6z" fill="#e7f100"/><path d="M835.8 205.6l8.4 -3.8 -8.3 -2.1 -8.4 3.8z" fill="#edf100"/><path d="M560.4 199.2l8.4 -.6 -8.3 -3.4 -8.4 .7z" fill="#f6cb00"/><path d="M677.4 212.0l8.3 -2 -8.3 -2.9 -8.4 2z" fill="#e1f200"/><path d="M694.0 212.8l8.4 -2.3 -8.4 -2.7 -8.3 2.2z" fill="#def200"/><path d="M727.4 213.5l8.3 -2.6 -8.3 -2.6 -8.4 2.6z" fill="#daf200"/><path d="M760.7 213.2l8.3 -3 -8.3 -2.4 -8.4 2.9z" fill="#daf200"/><path d="M810.7 210.7l8.4 -3.5 -8.3 -2.2 -8.4 3.4z" fill="#e3f100"/><path d="M577.2 201.8l8.4 -.8 -8.4 -3.3 -8.4 .9z" fill="#f8dc00"/><path d="M593.9 204.2l8.4 -1.1 -8.3 -3.2 -8.4 1.1z" fill="#f7e500"/><path d="M610.7 206.3l8.3 -1.3 -8.3 -3.1 -8.4 1.2z" fill="#f6eb00"/><path d="M627.4 208.1l8.3 -1.4 -8.3 -3.1 -8.4 1.4z" fill="#f4f000"/><path d="M644.0 209.7l8.4 -1.7 -8.4 -3 -8.3 1.7z" fill="#edf100"/><path d="M660.7 211.0l8.3 -1.9 -8.3 -2.9 -8.3 1.8z" fill="#e7f100"/><path d="M710.7 213.3l8.3 -2.4 -8.3 -2.7 -8.3 2.3z" fill="#dbf200"/><path d="M744.0 213.5l8.3 -2.8 -8.3 -2.5 -8.3 2.7z" fill="#d9f100"/><path d="M777.4 212.6l8.3 -3.1 -8.3 -2.4 -8.4 3.1z" fill="#dbf200"/><path d="M794.0 211.8l8.4 -3.4 -8.3 -2.2 -8.4 3.3z" fill="#def200"/><path d="M827.5 209.3l8.3 -3.7 -8.3 -2.1 -8.4 3.7z" fill="#e8f100"/><path d="M568.8 202.5l8.4 -.7 -8.4 -3.2 -8.4 .6z" fill="#f6cf00"/><path d="M585.6 205.1l8.3 -.9 -8.3 -3.2 -8.4 .8z" fill="#f8e000"/><path d="M619.0 209.4l8.4 -1.3 -8.4 -3.1 -8.3 1.3z" fill="#f6ed00"/><path d="M635.7 211.1l8.3 -1.4 -8.3 -3 -8.3 1.4z" fill="#f2f000"/><path d="M652.4 212.6l8.3 -1.6 -8.3 -3 -8.4 1.7z" fill="#ebf100"/><path d="M669.0 213.9l8.4 -1.9 -8.4 -2.9 -8.3 1.9z" fill="#e5f100"/><path d="M685.7 214.8l8.3 -2 -8.3 -2.8 -8.3 2z" fill="#e0f200"/><path d="M702.4 215.5l8.3 -2.2 -8.3 -2.8 -8.4 2.3z" fill="#ddf200"/><path d="M719.0 215.9l8.4 -2.4 -8.4 -2.6 -8.3 2.4z" fill="#dbf200"/><path d="M735.7 216.1l8.3 -2.6 -8.3 -2.6 -8.3 2.6z" fill="#d9f100"/><path d="M752.4 216.0l8.3 -2.8 -8.4 -2.5 -8.3 2.8z" fill="#d9f100"/><path d="M769.0 215.6l8.4 -3 -8.4 -2.4 -8.3 3z" fill="#daf200"/><path d="M785.7 215.0l8.3 -3.2 -8.3 -2.3 -8.3 3.1z" fill="#dcf200"/><path d="M819.1 212.9l8.4 -3.6 -8.4 -2.1 -8.4 3.5z" fill="#e4f100"/><path d="M602.3 207.4l8.4 -1.1 -8.4 -3.2 -8.4 1.1z" fill="#f7e700"/><path d="M802.4 214.1l8.3 -3.4 -8.3 -2.3 -8.4 3.4z" fill="#dff200"/><path d="M577.2 205.8l8.4 -.7 -8.4 -3.3 -8.4 .7z" fill="#f7d300"/><path d="M593.9 208.3l8.4 -.9 -8.4 -3.2 -8.3 .9z" fill="#f8e200"/><path d="M610.6 210.5l8.4 -1.1 -8.3 -3.1 -8.4 1.1z" fill="#f7e800"/><path d="M627.3 212.5l8.4 -1.4 -8.3 -3 -8.4 1.3z" fill="#f5ee00"/><path d="M644.0 214.2l8.4 -1.6 -8.4 -2.9 -8.3 1.4z" fill="#f1f000"/><path d="M660.7 215.6l8.3 -1.7 -8.3 -2.9 -8.3 1.6z" fill="#eaf100"/><path d="M677.4 216.7l8.3 -1.9 -8.3 -2.8 -8.4 1.9z" fill="#e4f100"/><path d="M694.0 217.6l8.4 -2.1 -8.4 -2.7 -8.3 2z" fill="#dff200"/><path d="M710.7 218.2l8.3 -2.3 -8.3 -2.6 -8.3 2.2z" fill="#dcf200"/><path d="M727.4 218.6l8.3 -2.5 -8.3 -2.6 -8.4 2.4z" fill="#daf200"/><path d="M744.0 218.7l8.4 -2.7 -8.4 -2.5 -8.3 2.6z" fill="#d9f100"/><path d="M760.7 218.5l8.3 -2.9 -8.3 -2.4 -8.3 2.8z" fill="#d9f100"/><path d="M777.4 218.0l8.3 -3 -8.3 -2.4 -8.4 3z" fill="#daf200"/><path d="M794.0 217.3l8.4 -3.2 -8.4 -2.3 -8.3 3.2z" fill="#dcf200"/><path d="M810.7 216.3l8.4 -3.4 -8.4 -2.2 -8.3 3.4z" fill="#e0f200"/><path d="M602.3 211.5l8.3 -1 -8.3 -3.1 -8.4 .9z" fill="#f8e300"/><path d="M635.7 215.5l8.3 -1.3 -8.3 -3.1 -8.4 1.4z" fill="#f5ef00"/><path d="M769.0 220.9l8.4 -2.9 -8.4 -2.4 -8.3 2.9z" fill="#daf200"/><path d="M802.4 219.6l8.3 -3.3 -8.3 -2.2 -8.4 3.2z" fill="#ddf200"/><path d="M585.5 209.1l8.4 -.8 -8.3 -3.2 -8.4 .7z" fill="#f7d700"/><path d="M619.0 213.6l8.3 -1.1 -8.3 -3.1 -8.4 1.1z" fill="#f6e900"/><path d="M652.4 217.1l8.3 -1.5 -8.3 -3 -8.4 1.6z" fill="#eff000"/><path d="M669.0 218.5l8.4 -1.8 -8.4 -2.8 -8.3 1.7z" fill="#e8f100"/><path d="M685.7 219.6l8.3 -2 -8.3 -2.8 -8.3 1.9z" fill="#e3f100"/><path d="M702.4 220.4l8.3 -2.2 -8.3 -2.7 -8.4 2.1z" fill="#dff200"/><path d="M719.0 220.9l8.4 -2.3 -8.4 -2.7 -8.3 2.3z" fill="#dcf200"/><path d="M735.7 221.2l8.3 -2.5 -8.3 -2.6 -8.3 2.5z" fill="#daf200"/><path d="M752.4 221.2l8.3 -2.7 -8.3 -2.5 -8.4 2.7z" fill="#d9f100"/><path d="M785.7 220.4l8.3 -3.1 -8.3 -2.3 -8.3 3z" fill="#dbf200"/><path d="M593.9 212.3l8.4 -.8 -8.4 -3.2 -8.4 .8z" fill="#f7da00"/><path d="M610.6 214.6l8.4 -1 -8.4 -3.1 -8.3 1z" fill="#f7e500"/><path d="M627.3 216.7l8.4 -1.2 -8.4 -3 -8.3 1.1z" fill="#f6eb00"/><path d="M644.0 218.5l8.4 -1.4 -8.4 -2.9 -8.3 1.3z" fill="#f5f000"/><path d="M660.7 220.1l8.3 -1.6 -8.3 -2.9 -8.3 1.5z" fill="#eef100"/><path d="M677.4 221.4l8.3 -1.8 -8.3 -2.9 -8.4 1.8z" fill="#e7f100"/><path d="M727.4 223.6l8.3 -2.4 -8.3 -2.6 -8.4 2.3z" fill="#dbf200"/><path d="M744.0 223.8l8.4 -2.6 -8.4 -2.5 -8.3 2.5z" fill="#daf200"/><path d="M760.7 223.7l8.3 -2.8 -8.3 -2.4 -8.3 2.7z" fill="#daf200"/><path d="M777.4 223.4l8.3 -3 -8.3 -2.4 -8.4 2.9z" fill="#daf200"/><path d="M794.0 222.8l8.4 -3.2 -8.4 -2.3 -8.3 3.1z" fill="#dcf200"/><path d="M694.0 222.4l8.4 -2 -8.4 -2.8 -8.3 2z" fill="#e2f200"/><path d="M710.7 223.1l8.3 -2.2 -8.3 -2.7 -8.3 2.2z" fill="#def200"/><path d="M602.2 215.5l8.4 -.9 -8.3 -3.1 -8.4 .8z" fill="#f8dd00"/><path d="M652.4 221.5l8.3 -1.4 -8.3 -3 -8.4 1.4z" fill="#f4f000"/><path d="M719.0 225.8l8.4 -2.2 -8.4 -2.7 -8.3 2.2z" fill="#def200"/><path d="M769.0 226.2l8.4 -2.8 -8.4 -2.5 -8.3 2.8z" fill="#daf200"/><path d="M619.0 217.8l8.3 -1.1 -8.3 -3.1 -8.4 1z" fill="#f7e600"/><path d="M635.7 219.8l8.3 -1.3 -8.3 -3 -8.4 1.2z" fill="#f6ec00"/><path d="M669.0 223.0l8.4 -1.6 -8.4 -2.9 -8.3 1.6z" fill="#edf100"/><path d="M685.7 224.2l8.3 -1.8 -8.3 -2.8 -8.3 1.8z" fill="#e7f100"/><path d="M702.4 225.1l8.3 -2 -8.3 -2.7 -8.4 2z" fill="#e2f200"/><path d="M735.7 226.2l8.3 -2.4 -8.3 -2.6 -8.3 2.4z" fill="#dbf200"/><path d="M752.4 226.3l8.3 -2.6 -8.3 -2.5 -8.4 2.6z" fill="#daf200"/><path d="M785.7 225.7l8.3 -2.9 -8.3 -2.4 -8.3 3z" fill="#dbf200"/><path d="M610.6 218.6l8.4 -.8 -8.4 -3.2 -8.4 .9z" fill="#f8e000"/><path d="M627.3 220.9l8.4 -1.1 -8.4 -3.1 -8.3 1.1z" fill="#f7e700"/><path d="M644.0 222.8l8.4 -1.3 -8.4 -3 -8.3 1.3z" fill="#f6ec00"/><path d="M660.7 224.5l8.3 -1.5 -8.3 -2.9 -8.3 1.4z" fill="#f3f000"/><path d="M677.4 225.9l8.3 -1.7 -8.3 -2.8 -8.4 1.6z" fill="#ecf100"/><path d="M694.0 227.0l8.4 -1.9 -8.4 -2.7 -8.3 1.8z" fill="#e6f100"/><path d="M710.7 227.9l8.3 -2.1 -8.3 -2.7 -8.3 2z" fill="#e1f200"/><path d="M727.4 228.5l8.3 -2.3 -8.3 -2.6 -8.4 2.2z" fill="#def200"/><path d="M744.0 228.8l8.4 -2.5 -8.4 -2.5 -8.3 2.4z" fill="#dcf200"/><path d="M760.7 228.8l8.3 -2.6 -8.3 -2.5 -8.3 2.6z" fill="#dbf200"/><path d="M777.4 228.6l8.3 -2.9 -8.3 -2.3 -8.4 2.8z" fill="#dbf200"/><path d="M618.9 221.8l8.4 -.9 -8.3 -3.1 -8.4 .8z" fill="#f8e200"/><path d="M635.6 223.9l8.4 -1.1 -8.3 -3 -8.4 1.1z" fill="#f7e800"/><path d="M652.3 225.8l8.4 -1.3 -8.3 -3 -8.4 1.3z" fill="#f6ed00"/><path d="M669.0 227.4l8.4 -1.5 -8.4 -2.9 -8.3 1.5z" fill="#f2f000"/><path d="M685.7 228.7l8.3 -1.7 -8.3 -2.8 -8.3 1.7z" fill="#ebf100"/><path d="M702.4 229.8l8.3 -1.9 -8.3 -2.8 -8.4 1.9z" fill="#e6f100"/><path d="M719.0 230.6l8.4 -2.1 -8.4 -2.7 -8.3 2.1z" fill="#e1f200"/><path d="M735.7 231.1l8.3 -2.3 -8.3 -2.6 -8.3 2.3z" fill="#def200"/><path d="M752.4 231.3l8.3 -2.5 -8.3 -2.5 -8.4 2.5z" fill="#dcf200"/><path d="M769.0 231.3l8.4 -2.7 -8.4 -2.4 -8.3 2.6z" fill="#dbf200"/><path d="M627.3 224.9l8.3 -1 -8.3 -3 -8.4 .9z" fill="#f8e200"/><path d="M660.7 228.7l8.3 -1.3 -8.3 -2.9 -8.4 1.3z" fill="#f5ee00"/><path d="M677.4 230.3l8.3 -1.6 -8.3 -2.8 -8.4 1.5z" fill="#f1f000"/><path d="M694.0 231.5l8.4 -1.7 -8.4 -2.8 -8.3 1.7z" fill="#ebf100"/><path d="M710.7 232.5l8.3 -1.9 -8.3 -2.7 -8.3 1.9z" fill="#e5f100"/><path d="M727.4 233.2l8.3 -2.1 -8.3 -2.6 -8.4 2.1z" fill="#e1f200"/><path d="M744.0 233.7l8.4 -2.4 -8.4 -2.5 -8.3 2.3z" fill="#def200"/><path d="M760.7 233.8l8.3 -2.5 -8.3 -2.5 -8.3 2.5z" fill="#dcf200"/><path d="M644.0 226.9l8.3 -1.1 -8.3 -3 -8.4 1.1z" fill="#f7e800"/><path d="M635.6 227.9l8.4 -1 -8.4 -3 -8.3 1z" fill="#f8e300"/><path d="M669.0 231.7l8.4 -1.4 -8.4 -2.9 -8.3 1.3z" fill="#f5ee00"/><path d="M685.7 233.1l8.3 -1.6 -8.3 -2.8 -8.3 1.6z" fill="#f1f000"/><path d="M702.4 234.3l8.3 -1.8 -8.3 -2.7 -8.4 1.7z" fill="#eaf100"/><path d="M719.0 235.2l8.4 -2 -8.4 -2.6 -8.3 1.9z" fill="#e5f100"/><path d="M735.7 235.9l8.3 -2.2 -8.3 -2.6 -8.3 2.1z" fill="#e1f200"/><path d="M652.3 229.9l8.4 -1.2 -8.4 -2.9 -8.3 1.1z" fill="#f6e900"/><path d="M752.4 236.2l8.3 -2.4 -8.3 -2.5 -8.4 2.4z" fill="#dff200"/><path d="M644.0 230.9l8.3 -1 -8.3 -3 -8.4 1z" fill="#f7e400"/><path d="M660.7 232.9l8.3 -1.2 -8.3 -3 -8.4 1.2z" fill="#f6ea00"/><path d="M677.4 234.5l8.3 -1.4 -8.3 -2.8 -8.4 1.4z" fill="#f5ef00"/><path d="M694.0 235.9l8.4 -1.6 -8.4 -2.8 -8.3 1.6z" fill="#f0f000"/><path d="M710.7 237.0l8.3 -1.8 -8.3 -2.7 -8.3 1.8z" fill="#eaf100"/><path d="M727.4 237.9l8.3 -2 -8.3 -2.7 -8.4 2z" fill="#e5f100"/><path d="M744.0 238.4l8.4 -2.2 -8.4 -2.5 -8.3 2.2z" fill="#e2f200"/><path d="M685.7 237.4l8.3 -1.5 -8.3 -2.8 -8.3 1.4z" fill="#f5ef00"/><path d="M719.0 239.7l8.4 -1.8 -8.4 -2.7 -8.3 1.8z" fill="#eaf100"/><path d="M652.3 233.9l8.4 -1 -8.4 -3 -8.3 1z" fill="#f7e500"/><path d="M669.0 235.8l8.4 -1.3 -8.4 -2.8 -8.3 1.2z" fill="#f6ea00"/><path d="M702.4 238.7l8.3 -1.7 -8.3 -2.7 -8.4 1.6z" fill="#f0f000"/><path d="M735.7 240.5l8.3 -2.1 -8.3 -2.5 -8.3 2z" fill="#e6f100"/><path d="M660.6 236.9l8.4 -1.1 -8.3 -2.9 -8.4 1z" fill="#f7e500"/><path d="M677.3 238.7l8.4 -1.3 -8.3 -2.9 -8.4 1.3z" fill="#f6ea00"/><path d="M694.0 240.2l8.4 -1.5 -8.4 -2.8 -8.3 1.5z" fill="#f5ef00"/><path d="M710.7 241.4l8.3 -1.7 -8.3 -2.7 -8.3 1.7z" fill="#f0f000"/><path d="M727.4 242.4l8.3 -1.9 -8.3 -2.6 -8.4 1.8z" fill="#ebf100"/><path d="M669.0 239.8l8.3 -1.1 -8.3 -2.9 -8.4 1.1z" fill="#f7e500"/><path d="M685.7 241.5l8.3 -1.3 -8.3 -2.8 -8.4 1.3z" fill="#f6ea00"/><path d="M702.4 243.0l8.3 -1.6 -8.3 -2.7 -8.4 1.5z" fill="#f5ef00"/><path d="M719.0 244.1l8.4 -1.7 -8.4 -2.7 -8.3 1.7z" fill="#f0f000"/><path d="M694.0 244.3l8.4 -1.3 -8.4 -2.8 -8.3 1.3z" fill="#f6eb00"/><path d="M710.7 245.7l8.3 -1.6 -8.3 -2.7 -8.3 1.6z" fill="#f5ef00"/><path d="M677.3 242.7l8.4 -1.2 -8.4 -2.8 -8.3 1.1z" fill="#f7e500"/><path d="M685.7 245.5l8.3 -1.2 -8.3 -2.8 -8.4 1.2z" fill="#f7e600"/><path d="M702.4 247.1l8.3 -1.4 -8.3 -2.7 -8.4 1.3z" fill="#f6ea00"/><path d="M694.0 248.3l8.4 -1.2 -8.4 -2.8 -8.3 1.2z" fill="#f7e600"/></g>
<circle cx="532.82" cy="315.93" r="2" fill="#111"/><circle cx="531.87" cy="294.79" r="2" fill="#111"/><circle cx="530.92" cy="273.65" r="2" fill="#111"/><circle cx="529.96" cy="252.51" r="2" fill="#111"/><circle cx="529.01" cy="231.37" r="2" fill="#111"/><circle cx="528.06" cy="210.22" r="2" fill="#111"/><circle cx="527.11" cy="189.08" r="2" fill="#111"/><circle cx="526.15" cy="167.94" r="2" fill="#111"/><circle cx="525.2" cy="146.8" r="2" fill="#111"/><circle cx="693.7" cy="446.1" r="2" fill="#111"/><circle cx="693.7" cy="446.1" r="2" fill="#111"/><circle cx="662" cy="430.62" r="2" fill="#111"/><circle cx="725.48" cy="430.68" r="2" fill="#111"/><circle cx="630.3" cy="415.14" r="2" fill="#111"/><circle cx="757.26" cy="415.26" r="2" fill="#111"/><circle cx="598.6" cy="399.66" r="2" fill="#111"/><circle cx="789.04" cy="399.84" r="2" fill="#111"/><circle cx="566.9" cy="384.18" r="2" fill="#111"/><circle cx="820.82" cy="384.42" r="2" fill="#111"/><circle cx="535.2" cy="368.7" r="2" fill="#111"/><circle cx="852.6" cy="369" r="2" fill="#111"/><g font-family="Liberation Sans, sans-serif" font-size="15.89" fill="#3a3a3a" stroke="#3a3a3a" stroke-width="0.3"><text x="523.9" y="313.1" text-anchor="end">100</text><text x="522.9" y="291.9" text-anchor="end">120</text><text x="522.0" y="270.8" text-anchor="end">140</text><text x="521.0" y="249.6" text-anchor="end">160</text><text x="520.1" y="228.5" text-anchor="end">180</text><text x="519.1" y="207.3" text-anchor="end">200</text><text x="518.2" y="186.2" text-anchor="end">220</text><text x="517.2" y="165.1" text-anchor="end">240</text><text x="516.3" y="143.9" text-anchor="end">260</text><text x="676.0" y="464.1" text-anchor="middle">20</text><text x="644.3" y="448.6" text-anchor="middle">26</text><text x="612.6" y="433.2" text-anchor="middle">32</text><text x="580.9" y="417.7" text-anchor="middle">38</text><text x="549.2" y="402.2" text-anchor="middle">44</text><text x="517.5" y="386.7" text-anchor="middle">50</text><text x="711.0" y="463.6" text-anchor="middle">20</text><text x="742.8" y="448.2" text-anchor="middle">26</text><text x="774.5" y="432.8" text-anchor="middle">32</text><text x="806.3" y="417.4" text-anchor="middle">38</text><text x="838.1" y="401.9" text-anchor="middle">44</text><text x="869.9" y="386.5" text-anchor="middle">50</text><text x="505.8" y="445.1" textLength="94.7" lengthAdjust="spacingAndGlyphs">Amplitude (%)</text><text x="778.2" y="445.1" textLength="112.1" lengthAdjust="spacingAndGlyphs">Temperature (°C)</text><clipPath id="cP2"><rect x="451.4" y="101.7" width="40" height="500"/></clipPath><g clip-path="url(#cP2)"><text transform="translate(481.4 431.2) rotate(-90)" style="font-size:15.6px">Total major phenolic acids extraction yield (%) (%)</text></g></g></g>
<g id="P3"><path d="M960.73 312.55L1112.85 261.09 M959.79 293.01L1112.83 243.43 M958.85 273.46L1112.81 225.77 M957.91 253.92L1112.8 208.11 M956.96 234.37L1112.78 190.45 M956.02 214.83L1112.76 172.78 M955.08 195.29L1112.74 155.12 M954.14 175.74L1112.72 137.46 M953.2 156.2L1112.7 119.8 M985.1 148.92L991.15 302.26 M1017 141.64L1021.58 291.97 M1048.9 134.36L1052 281.68 M1080.8 127.08L1082.43 271.38 M1112.85 261.09L1264.94 312.24 M1112.83 243.43L1265.91 292.54 M1112.81 225.77L1266.88 272.83 M1112.8 208.11L1267.85 253.13 M1112.78 190.45L1268.82 233.42 M1112.76 172.78L1269.79 213.72 M1112.74 155.12L1270.76 194.01 M1112.72 137.46L1271.73 174.31 M1112.7 119.8L1272.7 154.6 M1240.7 147.64L1234.53 302.01 M1208.7 140.68L1204.11 291.78 M1176.7 133.72L1173.69 281.55 M1144.7 126.76L1143.27 271.32 M953.2 156.2L963.1 361.8 M1112.7 119.8L1112.9 305.6 M1272.7 154.6L1262.5 361.9" stroke="#686868" stroke-width="1.3" fill="none"/>
<polygon points="1112.9,433.2 1262.5,361.9 1112.9,305.6 963.1,361.8" fill="#636363" stroke="#2a2a2a" stroke-width="1.4"/>
<g fill="none" stroke-width="2.3" stroke-linejoin="round" stroke-linecap="butt"><path d="M966.8 363.6L970.2 362.1 973.8 360.5 977.4 359.0 981.0 357.4 984.7 355.9 988.4 354.4 992.1 352.9 995.8 351.4 999.5 349.9 1003.3 348.4 1007.1 346.9 1010.9 345.5 1014.7 344.0 1018.5 342.6 1022.4 341.1 1026.3 339.7 1030.2 338.3 1034.1 336.9 1038.0 335.5 1042.0 334.1 1046.0 332.7 1050.0 331.3 1054.0 330.0 1058.1 328.6 1062.1 327.3 1066.2 325.9 1070.3 324.6 1074.5 323.2 1078.6 321.9 1082.8 320.6 1087.0 319.3 1091.2 318.0 1095.4 316.7 1099.7 315.4 1103.9 314.1 1108.2 312.8 1112.5 311.5 1116.9 310.3 1121.6 308.9" stroke="#34b848"/><path d="M980.4 370.0L984.7 368.0 988.2 366.4 991.7 364.8 995.2 363.2 998.7 361.7 1002.2 360.1 1005.8 358.5 1009.4 357.0 1013.0 355.5 1016.6 354.0 1020.2 352.4 1023.9 350.9 1027.6 349.4 1031.3 348.0 1035.0 346.5 1038.8 345.0 1042.5 343.6 1046.3 342.1 1050.1 340.7 1053.9 339.2 1057.7 337.8 1061.6 336.4 1065.5 335.0 1069.4 333.6 1073.3 332.2 1077.2 330.8 1081.2 329.4 1085.1 328.1 1089.1 326.7 1093.1 325.3 1097.2 324.0 1101.2 322.6 1105.3 321.3 1109.4 320.0 1113.5 318.6 1117.6 317.3 1121.8 316.0 1125.9 314.7 1132.0 312.8" stroke="#44bf3c"/><path d="M996.6 377.8L1001.9 375.8 1005.8 374.4 1009.8 373.0 1013.7 371.5 1017.6 370.1 1021.5 368.7 1025.4 367.2 1029.3 365.8 1033.2 364.3 1037.1 362.8 1041.0 361.4 1044.8 359.9 1048.7 358.5 1052.6 357.0 1056.5 355.5 1060.3 354.1 1064.2 352.6 1068.0 351.1 1071.8 349.6 1075.7 348.1 1079.5 346.7 1083.3 345.2 1087.2 343.7 1091.0 342.2 1094.8 340.7 1098.6 339.2 1102.4 337.7 1106.2 336.2 1110.0 334.7 1113.8 333.2 1117.6 331.7 1121.3 330.2 1125.1 328.7 1128.8 327.1 1132.6 325.6 1136.3 324.1 1140.1 322.6 1143.8 321.1 1148.7 319.1" stroke="#8cca38"/><path d="M1021.9 389.8L1025.4 388.2 1029.1 386.5 1032.7 384.9 1036.3 383.2 1040.0 381.5 1043.6 379.9 1047.2 378.2 1050.9 376.5 1054.5 374.9 1058.1 373.2 1061.8 371.5 1065.4 369.9 1069.0 368.2 1072.7 366.6 1076.3 364.9 1079.9 363.2 1083.5 361.6 1087.2 359.9 1090.8 358.2 1094.4 356.6 1098.0 354.9 1101.6 353.3 1105.3 351.6 1108.9 350.0 1112.5 348.3 1116.1 346.7 1119.7 345.0 1123.4 343.3 1127.0 341.7 1130.6 340.0 1134.2 338.4 1137.8 336.7 1141.4 335.1 1145.0 333.4 1148.6 331.8 1152.2 330.1 1155.9 328.5 1159.5 326.8 1163.9 324.8" stroke="#c6d232"/><path d="M1186.3 333.2L1184.1 336.5 1182.0 338.3 1179.2 340.2 1175.6 342.2 1171.6 344.3 1167.1 346.4 1162.2 348.6 1157.2 350.9 1152.1 353.2 1147.0 355.5 1141.9 357.9 1136.9 360.4 1132.2 362.9 1127.8 365.4 1123.7 368.0 1120.0 370.5 1116.8 373.1 1114.0 375.7 1111.8 378.2 1110.2 380.8 1109.2 383.3 1108.8 385.7 1109.0 388.1 1109.9 390.3 1111.4 392.5 1113.6 394.5 1116.4 396.4 1119.8 398.1 1123.8 399.6 1128.4 400.8 1133.6 401.8 1139.3 402.5 1145.4 402.9 1152.0 402.9 1158.9 402.6 1166.1 401.8 1173.6 400.6 1181.2 398.9 1190.4 396.3" stroke="#d0d030"/></g>
<g stroke="#000" stroke-width="0.85" stroke-opacity="0.55" stroke-linejoin="round"><path d="M1112.8 202.0l7.8 -2.1 -7.8 3.5 -7.8 2.1z" fill="#28bc36" stroke="#197421" stroke-opacity="0.75" stroke-width="0.9"/><path d="M1105.0 204.1l7.8 -2.1 -7.8 3.5 -7.7 2.1z" fill="#28bb35" stroke="#197421" stroke-opacity="0.75" stroke-width="0.9"/><path d="M1120.6 198.7l7.8 -2.1 -7.8 3.3 -7.8 2.1z" fill="#26b132" stroke="#197421" stroke-opacity="0.75" stroke-width="0.9"/><path d="M1097.2 206.2l7.8 -2.1 -7.7 3.5 -7.8 2.1z" fill="#28b935" stroke="#197421" stroke-opacity="0.75" stroke-width="0.9"/><path d="M1112.8 200.9l7.8 -2.2 -7.8 3.3 -7.8 2.1z" fill="#25af32" stroke="#197421" stroke-opacity="0.75" stroke-width="0.9"/><path d="M1128.4 195.8l7.8 -2.2 -7.8 3 -7.8 2.1z" fill="#23a52f" stroke="#197421" stroke-opacity="0.75" stroke-width="0.9"/><path d="M1089.5 208.4l7.7 -2.2 -7.7 3.5 -7.7 2z" fill="#27b734" stroke="#197421" stroke-opacity="0.75" stroke-width="0.9"/><path d="M1105.0 203.1l7.8 -2.2 -7.8 3.2 -7.8 2.1z" fill="#25ad31" stroke="#197421" stroke-opacity="0.75" stroke-width="0.9"/><path d="M1120.6 198.0l7.8 -2.2 -7.8 2.9 -7.8 2.2z" fill="#23a32e" stroke="#197421" stroke-opacity="0.75" stroke-width="0.9"/><path d="M1136.3 193.1l7.8 -2.3 -7.9 2.8 -7.8 2.2z" fill="#21982b" stroke="#197421" stroke-opacity="0.75" stroke-width="0.9"/><path d="M1081.7 210.5l7.8 -2.1 -7.7 3.3 -7.8 2.1z" fill="#27b534" stroke="#197421" stroke-opacity="0.75" stroke-width="0.9"/><path d="M1097.2 205.3l7.8 -2.2 -7.8 3.1 -7.7 2.2z" fill="#25ab31" stroke="#197421" stroke-opacity="0.75" stroke-width="0.9"/><path d="M1112.8 200.2l7.8 -2.2 -7.8 2.9 -7.8 2.2z" fill="#22a12e" stroke="#197421" stroke-opacity="0.75" stroke-width="0.9"/><path d="M1128.4 195.4l7.9 -2.3 -7.9 2.7 -7.8 2.2z" fill="#20962b" stroke="#197421" stroke-opacity="0.75" stroke-width="0.9"/><path d="M1144.1 190.8l7.8 -2.4 -7.8 2.4 -7.8 2.3z" fill="#1e8b28" stroke="#197421" stroke-opacity="0.75" stroke-width="0.9"/><path d="M1073.9 212.6l7.8 -2.1 -7.7 3.3 -7.8 2.1z" fill="#26b433" stroke="#197421" stroke-opacity="0.75" stroke-width="0.9"/><path d="M1089.4 207.4l7.8 -2.1 -7.7 3.1 -7.8 2.1z" fill="#24a930" stroke="#197421" stroke-opacity="0.75" stroke-width="0.9"/><path d="M1105.0 202.5l7.8 -2.3 -7.8 2.9 -7.8 2.2z" fill="#229f2d" stroke="#197421" stroke-opacity="0.75" stroke-width="0.9"/><path d="M1120.6 197.7l7.8 -2.3 -7.8 2.6 -7.8 2.2z" fill="#20942a" stroke="#197421" stroke-opacity="0.75" stroke-width="0.9"/><path d="M1136.3 193.1l7.8 -2.3 -7.8 2.3 -7.9 2.3z" fill="#1d8927" stroke="#197421" stroke-opacity="0.75" stroke-width="0.9"/><path d="M1152.0 188.7l7.8 -2.4 -7.9 2.1 -7.8 2.4z" fill="#548a06" stroke-opacity="0.09"/><path d="M1066.1 214.8l7.8 -2.2 -7.7 3.3 -7.7 2.1z" fill="#26b233" stroke="#197421" stroke-opacity="0.75" stroke-width="0.9"/><path d="M1081.6 209.6l7.8 -2.2 -7.7 3.1 -7.8 2.1z" fill="#24a730" stroke="#197421" stroke-opacity="0.75" stroke-width="0.9"/><path d="M1097.2 204.7l7.8 -2.2 -7.8 2.8 -7.8 2.1z" fill="#229d2d" stroke="#197421" stroke-opacity="0.75" stroke-width="0.9"/><path d="M1112.8 200.0l7.8 -2.3 -7.8 2.5 -7.8 2.3z" fill="#1f922a" stroke="#197421" stroke-opacity="0.75" stroke-width="0.9"/><path d="M1128.5 195.4l7.8 -2.3 -7.9 2.3 -7.8 2.3z" fill="#3a7c0a" stroke-opacity="0.01"/><path d="M1144.2 191.1l7.8 -2.4 -7.9 2.1 -7.8 2.3z" fill="#548c06" stroke-opacity="0.11"/><path d="M1159.9 186.9l7.9 -2.4 -8 1.8 -7.8 2.4z" fill="#739f03" stroke-opacity="0.20"/><path d="M1058.4 216.9l7.7 -2.1 -7.6 3.2 -7.8 2.1z" fill="#26b032" stroke="#197421" stroke-opacity="0.75" stroke-width="0.9"/><path d="M1073.9 211.8l7.7 -2.2 -7.7 3 -7.8 2.2z" fill="#23a52f" stroke="#197421" stroke-opacity="0.75" stroke-width="0.9"/><path d="M1089.4 206.9l7.8 -2.2 -7.8 2.7 -7.8 2.2z" fill="#219b2c" stroke="#197421" stroke-opacity="0.75" stroke-width="0.9"/><path d="M1105.0 202.3l7.8 -2.3 -7.8 2.5 -7.8 2.2z" fill="#1f9029" stroke="#197421" stroke-opacity="0.75" stroke-width="0.9"/><path d="M1120.6 197.8l7.9 -2.4 -7.9 2.3 -7.8 2.3z" fill="#3a7d0a" stroke-opacity="0.03"/><path d="M1136.3 193.5l7.9 -2.4 -7.9 2 -7.8 2.3z" fill="#558e06" stroke-opacity="0.12"/><path d="M1152.1 189.4l7.8 -2.5 -7.9 1.8 -7.8 2.4z" fill="#74a103" stroke-opacity="0.22"/><path d="M1167.8 185.5l7.9 -2.5 -7.9 1.5 -7.9 2.4z" fill="#92b400" stroke-opacity="0.32"/><path d="M1050.6 219.1l7.8 -2.2 -7.7 3.2 -7.8 2.1z" fill="#25ae32" stroke="#197421" stroke-opacity="0.75" stroke-width="0.9"/><path d="M1066.1 214.0l7.8 -2.2 -7.8 3 -7.7 2.1z" fill="#23a32f" stroke="#197421" stroke-opacity="0.75" stroke-width="0.9"/><path d="M1081.6 209.2l7.8 -2.3 -7.8 2.7 -7.7 2.2z" fill="#21992c" stroke="#197421" stroke-opacity="0.75" stroke-width="0.9"/><path d="M1097.2 204.6l7.8 -2.3 -7.8 2.4 -7.8 2.2z" fill="#1e8e29" stroke="#197421" stroke-opacity="0.75" stroke-width="0.9"/><path d="M1112.8 200.1l7.8 -2.3 -7.8 2.2 -7.8 2.3z" fill="#3b7f0b" stroke-opacity="0.05"/><path d="M1128.5 195.9l7.8 -2.4 -7.8 1.9 -7.9 2.4z" fill="#569006" stroke-opacity="0.14"/><path d="M1144.2 191.8l7.9 -2.4 -7.9 1.7 -7.9 2.4z" fill="#75a303" stroke-opacity="0.24"/><path d="M1160.0 188.0l7.8 -2.5 -7.9 1.4 -7.8 2.5z" fill="#94b500" stroke-opacity="0.34"/><path d="M1175.8 184.4l7.8 -2.6 -7.9 1.2 -7.9 2.5z" fill="#acc400" stroke-opacity="0.44"/><path d="M1042.8 221.3l7.8 -2.2 -7.7 3.1 -7.7 2.1z" fill="#25ac31" stroke="#197421" stroke-opacity="0.75" stroke-width="0.9"/><path d="M1058.3 216.3l7.8 -2.3 -7.7 2.9 -7.8 2.2z" fill="#23a12e" stroke="#197421" stroke-opacity="0.75" stroke-width="0.9"/><path d="M1073.8 211.5l7.8 -2.3 -7.7 2.6 -7.8 2.2z" fill="#20972b" stroke="#197421" stroke-opacity="0.75" stroke-width="0.9"/><path d="M1089.4 206.9l7.8 -2.3 -7.8 2.3 -7.8 2.3z" fill="#1e8c28" stroke="#197421" stroke-opacity="0.75" stroke-width="0.9"/><path d="M1105.0 202.5l7.8 -2.4 -7.8 2.2 -7.8 2.3z" fill="#3c810b" stroke-opacity="0.07"/><path d="M1120.7 198.3l7.8 -2.4 -7.9 1.9 -7.8 2.3z" fill="#579206" stroke-opacity="0.16"/><path d="M1136.4 194.3l7.8 -2.5 -7.9 1.7 -7.8 2.4z" fill="#76a503" stroke-opacity="0.26"/><path d="M1152.1 190.5l7.9 -2.5 -7.9 1.4 -7.9 2.4z" fill="#95b800" stroke-opacity="0.36"/><path d="M1167.9 187.0l7.9 -2.6 -8 1.1 -7.8 2.5z" fill="#aec700" stroke-opacity="0.46"/><path d="M1183.7 183.6l7.9 -2.6 -8 .8 -7.8 2.6z" fill="#c9d400"/><path d="M1035.0 223.4l7.8 -2.1 -7.6 3 -7.8 2.1z" fill="#24aa31" stroke="#197421" stroke-opacity="0.75" stroke-width="0.9"/><path d="M1050.5 218.5l7.8 -2.2 -7.7 2.8 -7.8 2.2z" fill="#229f2e" stroke="#197421" stroke-opacity="0.75" stroke-width="0.9"/><path d="M1066.0 213.7l7.8 -2.2 -7.7 2.5 -7.8 2.3z" fill="#20942a" stroke="#197421" stroke-opacity="0.75" stroke-width="0.9"/><path d="M1081.5 209.2l7.9 -2.3 -7.8 2.3 -7.8 2.3z" fill="#1d8927" stroke="#197421" stroke-opacity="0.75" stroke-width="0.9"/><path d="M1097.2 204.8l7.8 -2.3 -7.8 2.1 -7.8 2.3z" fill="#3c830b" stroke-opacity="0.09"/><path d="M1112.8 200.7l7.9 -2.4 -7.9 1.8 -7.8 2.4z" fill="#579406" stroke-opacity="0.18"/><path d="M1128.5 196.8l7.9 -2.5 -7.9 1.6 -7.8 2.4z" fill="#76a703" stroke-opacity="0.28"/><path d="M1144.2 193.1l7.9 -2.6 -7.9 1.3 -7.8 2.5z" fill="#96ba00" stroke-opacity="0.38"/><path d="M1160.0 189.6l7.9 -2.6 -7.9 1 -7.9 2.5z" fill="#afc900" stroke-opacity="0.48"/><path d="M1175.8 186.3l7.9 -2.7 -7.9 .8 -7.9 2.6z" fill="#cad600"/><path d="M1191.6 183.2l7.9 -2.7 -7.9 .5 -7.9 2.6z" fill="#e6e100"/><path d="M1027.3 225.6l7.7 -2.2 -7.6 3 -7.8 2.2z" fill="#24a830" stroke="#197421" stroke-opacity="0.75" stroke-width="0.9"/><path d="M1042.7 220.7l7.8 -2.2 -7.7 2.8 -7.8 2.1z" fill="#229d2d" stroke="#197421" stroke-opacity="0.75" stroke-width="0.9"/><path d="M1058.2 216.0l7.8 -2.3 -7.7 2.6 -7.8 2.2z" fill="#1f922a" stroke="#197421" stroke-opacity="0.75" stroke-width="0.9"/><path d="M1073.7 211.5l7.8 -2.3 -7.7 2.3 -7.8 2.2z" fill="#247510" stroke-opacity="0.01"/><path d="M1089.3 207.2l7.9 -2.4 -7.8 2.1 -7.9 2.3z" fill="#3d850c" stroke-opacity="0.11"/><path d="M1105.0 203.1l7.8 -2.4 -7.8 1.8 -7.8 2.3z" fill="#589606" stroke-opacity="0.20"/><path d="M1120.7 199.3l7.8 -2.5 -7.8 1.5 -7.9 2.4z" fill="#77a904" stroke-opacity="0.30"/><path d="M1136.4 195.6l7.8 -2.5 -7.8 1.2 -7.9 2.5z" fill="#97bd00" stroke-opacity="0.40"/><path d="M1152.1 192.2l7.9 -2.6 -7.9 .9 -7.9 2.6z" fill="#b0cb00" stroke-opacity="0.50"/><path d="M1167.9 188.9l7.9 -2.6 -7.9 .7 -7.9 2.6z" fill="#cbda00"/><path d="M1183.8 185.9l7.8 -2.7 -7.9 .4 -7.9 2.7z" fill="#e8e400"/><path d="M1199.6 183.1l7.9 -2.8 -8 .2 -7.9 2.7z" fill="#f7e600"/><path d="M1019.5 227.8l7.8 -2.2 -7.7 3 -7.7 2.1z" fill="#24a62f" stroke="#197421" stroke-opacity="0.75" stroke-width="0.9"/><path d="M1034.9 222.9l7.8 -2.2 -7.7 2.7 -7.7 2.2z" fill="#219b2c" stroke="#197421" stroke-opacity="0.75" stroke-width="0.9"/><path d="M1050.4 218.3l7.8 -2.3 -7.7 2.5 -7.8 2.2z" fill="#1f9029" stroke="#197421" stroke-opacity="0.75" stroke-width="0.9"/><path d="M1065.9 213.8l7.8 -2.3 -7.7 2.2 -7.8 2.3z" fill="#257711" stroke-opacity="0.03"/><path d="M1081.5 209.6l7.8 -2.4 -7.8 2 -7.8 2.3z" fill="#3e870c" stroke-opacity="0.13"/><path d="M1097.1 205.6l7.9 -2.5 -7.8 1.7 -7.9 2.4z" fill="#589806" stroke-opacity="0.22"/><path d="M1112.8 201.8l7.9 -2.5 -7.9 1.4 -7.8 2.4z" fill="#77ab04" stroke-opacity="0.32"/><path d="M1128.5 198.2l7.9 -2.6 -7.9 1.2 -7.8 2.5z" fill="#98bf00" stroke-opacity="0.42"/><path d="M1144.3 194.8l7.8 -2.6 -7.9 .9 -7.8 2.5z" fill="#b1ce00" stroke-opacity="0.52"/><path d="M1160.1 191.6l7.8 -2.7 -7.9 .7 -7.9 2.6z" fill="#cbdd00"/><path d="M1175.9 188.6l7.9 -2.7 -8 .4 -7.9 2.6z" fill="#e9e700"/><path d="M1191.7 185.9l7.9 -2.8 -8 .1 -7.8 2.7z" fill="#f7e700"/><path d="M1207.5 183.3l7.9 -2.8 -7.9 -.2 -7.9 2.8z" fill="#f7db00"/><path d="M1011.7 230.0l7.8 -2.2 -7.6 2.9 -7.8 2.1z" fill="#23a42f" stroke="#197421" stroke-opacity="0.75" stroke-width="0.9"/><path d="M1042.6 220.6l7.8 -2.3 -7.7 2.4 -7.8 2.2z" fill="#1e8e29" stroke="#197421" stroke-opacity="0.75" stroke-width="0.9"/><path d="M1058.1 216.2l7.8 -2.4 -7.7 2.2 -7.8 2.3z" fill="#257811" stroke-opacity="0.05"/><path d="M1073.7 212.0l7.8 -2.4 -7.8 1.9 -7.8 2.3z" fill="#3e890c" stroke-opacity="0.15"/><path d="M1089.3 208.0l7.8 -2.4 -7.8 1.6 -7.8 2.4z" fill="#599a07" stroke-opacity="0.24"/><path d="M1120.7 200.7l7.8 -2.5 -7.8 1.1 -7.9 2.5z" fill="#98c001" stroke-opacity="0.45"/><path d="M1152.2 194.2l7.9 -2.6 -8 .6 -7.8 2.6z" fill="#cce000"/><path d="M1168.0 191.3l7.9 -2.7 -8 .3 -7.8 2.7z" fill="#eaea00"/><path d="M1183.8 188.7l7.9 -2.8 -7.9 0 -7.9 2.7z" fill="#f6e900"/><path d="M1199.6 186.2l7.9 -2.9 -7.9 -.2 -7.9 2.8z" fill="#f8df00"/><path d="M1027.1 225.2l7.8 -2.3 -7.6 2.7 -7.8 2.2z" fill="#21992c" stroke="#197421" stroke-opacity="0.75" stroke-width="0.9"/><path d="M1105.0 204.3l7.8 -2.5 -7.8 1.3 -7.9 2.5z" fill="#78ad04" stroke-opacity="0.34"/><path d="M1136.4 197.4l7.9 -2.6 -7.9 .8 -7.9 2.6z" fill="#b3d100" stroke-opacity="0.55"/><path d="M1215.5 183.9l7.9 -2.9 -8 -.5 -7.9 2.8z" fill="#f6cc00"/><path d="M1003.9 232.2l7.8 -2.2 -7.6 2.8 -7.8 2.2z" fill="#23a22e" stroke="#197421" stroke-opacity="0.75" stroke-width="0.9"/><path d="M1019.3 227.4l7.8 -2.2 -7.6 2.6 -7.8 2.2z" fill="#20972b" stroke="#197421" stroke-opacity="0.75" stroke-width="0.9"/><path d="M1034.8 222.9l7.8 -2.3 -7.7 2.3 -7.8 2.3z" fill="#1e8c28" stroke="#197421" stroke-opacity="0.75" stroke-width="0.9"/><path d="M1050.3 218.5l7.8 -2.3 -7.7 2.1 -7.8 2.3z" fill="#257a11" stroke-opacity="0.07"/><path d="M1065.9 214.4l7.8 -2.4 -7.8 1.8 -7.8 2.4z" fill="#3f8b0c" stroke-opacity="0.17"/><path d="M1081.5 210.5l7.8 -2.5 -7.8 1.6 -7.8 2.4z" fill="#599c07" stroke-opacity="0.27"/><path d="M1097.1 206.8l7.9 -2.5 -7.9 1.3 -7.8 2.4z" fill="#78af04" stroke-opacity="0.37"/><path d="M1112.8 203.3l7.9 -2.6 -7.9 1.1 -7.8 2.5z" fill="#98c301" stroke-opacity="0.47"/><path d="M1128.5 200.0l7.9 -2.6 -7.9 .8 -7.8 2.5z" fill="#b3d300"/><path d="M1144.3 196.9l7.9 -2.7 -7.9 .6 -7.9 2.6z" fill="#cde200"/><path d="M1160.1 194.1l7.9 -2.8 -7.9 .3 -7.9 2.6z" fill="#eaee00"/><path d="M1175.9 191.5l7.9 -2.8 -7.9 -.1 -7.9 2.7z" fill="#f6eb00"/><path d="M1191.7 189.0l7.9 -2.8 -7.9 -.3 -7.9 2.8z" fill="#f8e200"/><path d="M1207.6 186.9l7.9 -3 -8 -.6 -7.9 2.9z" fill="#f7d100"/><path d="M1223.4 184.9l7.9 -3 -7.9 -.9 -7.9 2.9z" fill="#f5c100"/><path d="M996.1 234.4l7.8 -2.2 -7.6 2.8 -7.7 2.1z" fill="#22a02e" stroke="#197421" stroke-opacity="0.75" stroke-width="0.9"/><path d="M1011.5 229.7l7.8 -2.3 -7.6 2.6 -7.8 2.2z" fill="#20952b" stroke="#197421" stroke-opacity="0.75" stroke-width="0.9"/><path d="M1027.0 225.2l7.8 -2.3 -7.7 2.3 -7.8 2.2z" fill="#1d8a27" stroke="#197421" stroke-opacity="0.75" stroke-width="0.9"/><path d="M1042.5 220.9l7.8 -2.4 -7.7 2.1 -7.8 2.3z" fill="#267c12" stroke-opacity="0.09"/><path d="M1058.0 216.8l7.9 -2.4 -7.8 1.8 -7.8 2.3z" fill="#3f8d0c" stroke-opacity="0.19"/><path d="M1073.6 213.0l7.9 -2.5 -7.8 1.5 -7.8 2.4z" fill="#5a9d07" stroke-opacity="0.29"/><path d="M1089.3 209.3l7.8 -2.5 -7.8 1.2 -7.8 2.5z" fill="#79b104" stroke-opacity="0.39"/><path d="M1105.0 205.9l7.8 -2.6 -7.8 1 -7.9 2.5z" fill="#9ac501" stroke-opacity="0.49"/><path d="M1120.7 202.6l7.8 -2.6 -7.8 .7 -7.9 2.6z" fill="#b5d500"/><path d="M1136.4 199.6l7.9 -2.7 -7.9 .5 -7.9 2.6z" fill="#cfe500"/><path d="M1152.2 196.8l7.9 -2.7 -7.9 .1 -7.9 2.7z" fill="#ebf100"/><path d="M1168.0 194.3l7.9 -2.8 -7.9 -.2 -7.9 2.8z" fill="#f6ec00"/><path d="M1183.8 191.9l7.9 -2.9 -7.9 -.3 -7.9 2.8z" fill="#f7e400"/><path d="M1199.7 189.8l7.9 -2.9 -8 -.7 -7.9 2.8z" fill="#f7d500"/><path d="M1215.5 187.9l7.9 -3 -7.9 -1 -7.9 3z" fill="#f6c600"/><path d="M1231.3 186.2l8 -3.1 -8 -1.2 -7.9 3z" fill="#f4b800"/><path d="M988.4 236.6l7.7 -2.2 -7.5 2.7 -7.8 2.2z" fill="#229e2d" stroke="#197421" stroke-opacity="0.75" stroke-width="0.9"/><path d="M1003.7 231.9l7.8 -2.2 -7.6 2.5 -7.8 2.2z" fill="#1f932a" stroke="#197421" stroke-opacity="0.75" stroke-width="0.9"/><path d="M1019.2 227.5l7.8 -2.3 -7.7 2.2 -7.8 2.3z" fill="#1b7315" stroke-opacity="0.01"/><path d="M1034.7 223.3l7.8 -2.4 -7.7 2 -7.8 2.3z" fill="#267e12" stroke-opacity="0.11"/><path d="M1050.2 219.2l7.8 -2.4 -7.7 1.7 -7.8 2.4z" fill="#3f8f0d" stroke-opacity="0.21"/><path d="M1065.8 215.4l7.8 -2.4 -7.7 1.4 -7.9 2.4z" fill="#5aa008" stroke-opacity="0.31"/><path d="M1081.4 211.8l7.9 -2.5 -7.8 1.2 -7.9 2.5z" fill="#79b305" stroke-opacity="0.41"/><path d="M1097.1 208.4l7.9 -2.5 -7.9 .9 -7.8 2.5z" fill="#9ac601" stroke-opacity="0.51"/><path d="M1112.8 205.3l7.9 -2.7 -7.9 .7 -7.8 2.6z" fill="#b5d800"/><path d="M1128.6 202.3l7.8 -2.7 -7.9 .4 -7.8 2.6z" fill="#cfe700"/><path d="M1144.3 199.6l7.9 -2.8 -7.9 .1 -7.9 2.7z" fill="#e9f100"/><path d="M1160.1 197.1l7.9 -2.8 -7.9 -.2 -7.9 2.7z" fill="#f5ee00"/><path d="M1175.9 194.8l7.9 -2.9 -7.9 -.4 -7.9 2.8z" fill="#f7e500"/><path d="M1191.7 192.8l8 -3 -8 -.8 -7.9 2.9z" fill="#f7da00"/><path d="M1207.6 190.9l7.9 -3 -7.9 -1 -7.9 2.9z" fill="#f6cb00"/><path d="M1223.4 189.3l7.9 -3.1 -7.9 -1.3 -7.9 3z" fill="#f5bf00"/><path d="M1239.3 187.9l7.9 -3.1 -7.9 -1.7 -8 3.1z" fill="#f3b300"/><path d="M980.6 238.8l7.8 -2.2 -7.6 2.7 -7.8 2.1z" fill="#219c2c" stroke="#197421" stroke-opacity="0.75" stroke-width="0.9"/><path d="M996.0 234.2l7.7 -2.3 -7.6 2.5 -7.7 2.2z" fill="#1f9029" stroke="#197421" stroke-opacity="0.75" stroke-width="0.9"/><path d="M1011.4 229.8l7.8 -2.3 -7.7 2.2 -7.8 2.2z" fill="#1b7516" stroke-opacity="0.03"/><path d="M1026.9 225.6l7.8 -2.3 -7.7 1.9 -7.8 2.3z" fill="#267f13" stroke-opacity="0.13"/><path d="M1042.4 221.7l7.8 -2.5 -7.7 1.7 -7.8 2.4z" fill="#3f900e" stroke-opacity="0.23"/><path d="M1058.0 217.9l7.8 -2.5 -7.8 1.4 -7.8 2.4z" fill="#5ba208" stroke-opacity="0.33"/><path d="M1073.6 214.4l7.8 -2.6 -7.8 1.2 -7.8 2.4z" fill="#79b505" stroke-opacity="0.43"/><path d="M1089.3 211.0l7.8 -2.6 -7.8 .9 -7.9 2.5z" fill="#9ac902" stroke-opacity="0.54"/><path d="M1105.0 207.9l7.8 -2.6 -7.8 .6 -7.9 2.5z" fill="#b7db00"/><path d="M1120.7 205.0l7.9 -2.7 -7.9 .3 -7.9 2.7z" fill="#d0ea00"/><path d="M1136.4 202.4l7.9 -2.8 -7.9 0 -7.8 2.7z" fill="#e6f100"/><path d="M1152.2 199.9l7.9 -2.8 -7.9 -.3 -7.9 2.8z" fill="#f5f000"/><path d="M1168.0 197.7l7.9 -2.9 -7.9 -.5 -7.9 2.8z" fill="#f7e700"/><path d="M1183.8 195.7l7.9 -2.9 -7.9 -.9 -7.9 2.9z" fill="#f8df00"/><path d="M1199.7 193.9l7.9 -3 -7.9 -1.1 -8 3z" fill="#f7d000"/><path d="M1215.5 192.4l7.9 -3.1 -7.9 -1.4 -7.9 3z" fill="#f6c400"/><path d="M1231.3 191.1l8 -3.2 -8 -1.7 -7.9 3.1z" fill="#f4ba00"/><path d="M1247.2 190.0l7.9 -3.3 -7.9 -1.9 -7.9 3.1z" fill="#f3b100"/><path d="M972.8 241.0l7.8 -2.2 -7.6 2.6 -7.7 2.2z" fill="#21992c" stroke="#197421" stroke-opacity="0.75" stroke-width="0.9"/><path d="M1003.6 232.2l7.8 -2.4 -7.7 2.1 -7.7 2.3z" fill="#1b7716" stroke-opacity="0.05"/><path d="M1019.1 228.0l7.8 -2.4 -7.7 1.9 -7.8 2.3z" fill="#268113" stroke-opacity="0.15"/><path d="M1034.6 224.1l7.8 -2.4 -7.7 1.6 -7.8 2.3z" fill="#40920e" stroke-opacity="0.25"/><path d="M1050.1 220.4l7.9 -2.5 -7.8 1.3 -7.8 2.5z" fill="#5ba309" stroke-opacity="0.35"/><path d="M1081.4 213.6l7.9 -2.6 -7.9 .8 -7.8 2.6z" fill="#9acb02"/><path d="M1097.1 210.6l7.9 -2.7 -7.9 .5 -7.8 2.6z" fill="#b7dc00"/><path d="M1112.8 207.8l7.9 -2.8 -7.9 .3 -7.8 2.6z" fill="#d1ec00"/><path d="M1128.6 205.2l7.8 -2.8 -7.8 -.1 -7.9 2.7z" fill="#e4f100"/><path d="M1144.3 202.8l7.9 -2.9 -7.9 -.3 -7.9 2.8z" fill="#f3f000"/><path d="M1160.1 200.6l7.9 -2.9 -7.9 -.6 -7.9 2.8z" fill="#f6e900"/><path d="M1191.7 197.0l8 -3.1 -8 -1.1 -7.9 2.9z" fill="#f7d600"/><path d="M1207.6 195.5l7.9 -3.1 -7.9 -1.5 -7.9 3z" fill="#f6ca00"/><path d="M1223.4 194.3l7.9 -3.2 -7.9 -1.8 -7.9 3.1z" fill="#f5c100"/><path d="M1255.1 192.4l7.9 -3.3 -7.9 -2.4 -7.9 3.3z" fill="#f4b500"/><path d="M988.2 236.5l7.8 -2.3 -7.6 2.4 -7.8 2.2z" fill="#1e8e29" stroke="#197421" stroke-opacity="0.75" stroke-width="0.9"/><path d="M1065.8 216.9l7.8 -2.5 -7.8 1 -7.8 2.5z" fill="#7ab705" stroke-opacity="0.45"/><path d="M1175.9 198.7l7.9 -3 -7.9 -.9 -7.9 2.9z" fill="#f8e200"/><path d="M1239.2 193.2l8 -3.2 -7.9 -2.1 -8 3.2z" fill="#f4ba00"/><path d="M965.0 243.3l7.8 -2.3 -7.5 2.6 -7.8 2.2z" fill="#20972b" stroke="#197421" stroke-opacity="0.75" stroke-width="0.9"/><path d="M980.4 238.8l7.8 -2.3 -7.6 2.3 -7.8 2.2z" fill="#1e8c28" stroke="#197421" stroke-opacity="0.75" stroke-width="0.9"/><path d="M995.8 234.5l7.8 -2.3 -7.6 2 -7.8 2.3z" fill="#1c7917" stroke-opacity="0.07"/><path d="M1011.2 230.4l7.9 -2.4 -7.7 1.8 -7.8 2.4z" fill="#278313" stroke-opacity="0.17"/><path d="M1026.8 226.6l7.8 -2.5 -7.7 1.5 -7.8 2.4z" fill="#41940e" stroke-opacity="0.27"/><path d="M1042.3 222.9l7.8 -2.5 -7.7 1.3 -7.8 2.4z" fill="#5ba609" stroke-opacity="0.37"/><path d="M1057.9 219.5l7.9 -2.6 -7.8 1 -7.9 2.5z" fill="#7ab905" stroke-opacity="0.48"/><path d="M1073.6 216.3l7.8 -2.7 -7.8 .8 -7.8 2.5z" fill="#9acd02"/><path d="M1089.2 213.3l7.9 -2.7 -7.8 .4 -7.9 2.6z" fill="#b9df00"/><path d="M1104.9 210.5l7.9 -2.7 -7.8 .1 -7.9 2.7z" fill="#d2ef00"/><path d="M1120.7 208.0l7.9 -2.8 -7.9 -.2 -7.9 2.8z" fill="#e1f200"/><path d="M1136.4 205.7l7.9 -2.9 -7.9 -.4 -7.8 2.8z" fill="#f0f000"/><path d="M1152.2 203.6l7.9 -3 -7.9 -.7 -7.9 2.9z" fill="#f6eb00"/><path d="M1168.0 201.7l7.9 -3 -7.9 -1 -7.9 2.9z" fill="#f7e400"/><path d="M1183.8 200.1l7.9 -3.1 -7.9 -1.3 -7.9 3z" fill="#f7db00"/><path d="M1199.7 198.6l7.9 -3.1 -7.9 -1.6 -8 3.1z" fill="#f7d000"/><path d="M1215.5 197.5l7.9 -3.2 -7.9 -1.9 -7.9 3.1z" fill="#f6c700"/><path d="M1231.3 196.5l7.9 -3.3 -7.9 -2.1 -7.9 3.2z" fill="#f5c100"/><path d="M1247.1 195.8l8 -3.4 -7.9 -2.4 -8 3.2z" fill="#f5bd00"/><path d="M1262.9 195.3l8 -3.4 -7.9 -2.8 -7.9 3.3z" fill="#f5bc00"/><path d="M988.0 236.8l7.8 -2.3 -7.6 2 -7.8 2.3z" fill="#1c7a17" stroke-opacity="0.09"/><path d="M1018.9 229.0l7.9 -2.4 -7.7 1.4 -7.9 2.4z" fill="#41960f" stroke-opacity="0.29"/><path d="M1097.1 213.3l7.8 -2.8 -7.8 .1 -7.9 2.7z" fill="#d1f000"/><path d="M1144.3 206.5l7.9 -2.9 -7.9 -.8 -7.9 2.9z" fill="#f6ed00"/><path d="M1223.4 199.8l7.9 -3.3 -7.9 -2.2 -7.9 3.2z" fill="#f6c800"/><path d="M1255.0 198.7l7.9 -3.4 -7.8 -2.9 -8 3.4z" fill="#f6c400"/><path d="M972.6 241.1l7.8 -2.3 -7.6 2.2 -7.8 2.3z" fill="#1d8a27" stroke="#197421" stroke-opacity="0.75" stroke-width="0.9"/><path d="M1003.4 232.8l7.8 -2.4 -7.6 1.8 -7.8 2.3z" fill="#278513" stroke-opacity="0.19"/><path d="M1034.5 225.4l7.8 -2.5 -7.7 1.2 -7.8 2.5z" fill="#5ca709" stroke-opacity="0.39"/><path d="M1050.1 222.0l7.8 -2.5 -7.8 .9 -7.8 2.5z" fill="#7abb06" stroke-opacity="0.50"/><path d="M1065.7 218.9l7.9 -2.6 -7.8 .6 -7.9 2.6z" fill="#9acf03"/><path d="M1081.4 216.0l7.8 -2.7 -7.8 .3 -7.8 2.7z" fill="#b9e200"/><path d="M1112.8 210.8l7.9 -2.8 -7.9 -.2 -7.9 2.7z" fill="#def200"/><path d="M1128.6 208.5l7.8 -2.8 -7.8 -.5 -7.9 2.8z" fill="#edf100"/><path d="M1160.1 204.7l7.9 -3 -7.9 -1.1 -7.9 3z" fill="#f7e600"/><path d="M1175.9 203.1l7.9 -3 -7.9 -1.4 -7.9 3z" fill="#f8e000"/><path d="M1191.7 201.8l8 -3.2 -8 -1.6 -7.9 3.1z" fill="#f7d500"/><path d="M1207.5 200.7l8 -3.2 -7.9 -2 -7.9 3.1z" fill="#f6cd00"/><path d="M1239.2 199.1l7.9 -3.3 -7.9 -2.6 -7.9 3.3z" fill="#f6c500"/><path d="M980.2 239.2l7.8 -2.4 -7.6 2 -7.8 2.3z" fill="#1d7c18" stroke-opacity="0.11"/><path d="M995.6 235.2l7.8 -2.4 -7.6 1.7 -7.8 2.3z" fill="#278714" stroke-opacity="0.21"/><path d="M1011.1 231.5l7.8 -2.5 -7.7 1.4 -7.8 2.4z" fill="#41980f" stroke-opacity="0.31"/><path d="M1026.7 227.9l7.8 -2.5 -7.7 1.2 -7.9 2.4z" fill="#5caa0a" stroke-opacity="0.42"/><path d="M1042.2 224.6l7.9 -2.6 -7.8 .9 -7.8 2.5z" fill="#7abd06" stroke-opacity="0.52"/><path d="M1057.9 221.5l7.8 -2.6 -7.8 .6 -7.8 2.5z" fill="#9ad103"/><path d="M1073.5 218.7l7.9 -2.7 -7.8 .3 -7.9 2.6z" fill="#bae400"/><path d="M1089.2 216.0l7.9 -2.7 -7.9 0 -7.8 2.7z" fill="#cfef00"/><path d="M1104.9 213.6l7.9 -2.8 -7.9 -.3 -7.8 2.8z" fill="#dcf200"/><path d="M1120.7 211.4l7.9 -2.9 -7.9 -.5 -7.9 2.8z" fill="#eaf100"/><path d="M1136.4 209.5l7.9 -3 -7.9 -.8 -7.8 2.8z" fill="#f5ef00"/><path d="M1152.2 207.7l7.9 -3 -7.9 -1.1 -7.9 2.9z" fill="#f7e800"/><path d="M1168.0 206.2l7.9 -3.1 -7.9 -1.4 -7.9 3z" fill="#f8e300"/><path d="M1183.8 205.0l7.9 -3.2 -7.9 -1.7 -7.9 3z" fill="#f8db00"/><path d="M1199.6 203.9l7.9 -3.2 -7.8 -2.1 -8 3.2z" fill="#f7d400"/><path d="M1215.4 203.1l8 -3.3 -7.9 -2.3 -8 3.2z" fill="#f6ce00"/><path d="M1231.2 202.5l8 -3.4 -7.9 -2.6 -7.9 3.3z" fill="#f6cc00"/><path d="M1247.0 202.2l8 -3.5 -7.9 -2.9 -7.9 3.3z" fill="#f6cb00"/><path d="M987.8 237.6l7.8 -2.4 -7.6 1.6 -7.8 2.4z" fill="#278915" stroke-opacity="0.23"/><path d="M1097.1 216.4l7.8 -2.8 -7.8 -.3 -7.9 2.7z" fill="#daf200"/><path d="M1112.8 214.3l7.9 -2.9 -7.9 -.6 -7.9 2.8z" fill="#e7f100"/><path d="M1144.3 210.8l7.9 -3.1 -7.9 -1.2 -7.9 3z" fill="#f6eb00"/><path d="M1175.9 208.1l7.9 -3.1 -7.9 -1.9 -7.9 3.1z" fill="#f8e100"/><path d="M1223.3 205.9l7.9 -3.4 -7.8 -2.7 -8 3.3z" fill="#f7d300"/><path d="M1003.3 233.9l7.8 -2.4 -7.7 1.3 -7.8 2.4z" fill="#409a0f" stroke-opacity="0.34"/><path d="M1018.8 230.5l7.9 -2.6 -7.8 1.1 -7.8 2.5z" fill="#5cac0a" stroke-opacity="0.44"/><path d="M1034.4 227.2l7.8 -2.6 -7.7 .8 -7.8 2.5z" fill="#7abf06" stroke-opacity="0.55"/><path d="M1050.0 224.2l7.9 -2.7 -7.8 .5 -7.9 2.6z" fill="#9ad303"/><path d="M1065.7 221.4l7.8 -2.7 -7.8 .2 -7.8 2.6z" fill="#bbe700"/><path d="M1081.4 218.8l7.8 -2.8 -7.8 0 -7.9 2.7z" fill="#cdef00"/><path d="M1128.6 212.4l7.8 -2.9 -7.8 -1 -7.9 2.9z" fill="#f3f000"/><path d="M1160.1 209.3l7.9 -3.1 -7.9 -1.5 -7.9 3z" fill="#f7e500"/><path d="M1191.7 207.2l7.9 -3.3 -7.9 -2.1 -7.9 3.2z" fill="#f7da00"/><path d="M1207.5 206.4l7.9 -3.3 -7.9 -2.4 -7.9 3.2z" fill="#f7d500"/><path d="M1239.1 205.6l7.9 -3.4 -7.8 -3.1 -8 3.4z" fill="#f7d300"/><path d="M995.5 236.4l7.8 -2.5 -7.7 1.3 -7.8 2.4z" fill="#419c10" stroke-opacity="0.36"/><path d="M1011.0 233.0l7.8 -2.5 -7.7 1 -7.8 2.4z" fill="#5cae0b" stroke-opacity="0.46"/><path d="M1042.2 226.9l7.8 -2.7 -7.8 .4 -7.8 2.6z" fill="#9ad504"/><path d="M1057.8 224.1l7.9 -2.7 -7.8 .1 -7.9 2.7z" fill="#bae900"/><path d="M1073.5 221.6l7.9 -2.8 -7.9 -.1 -7.8 2.7z" fill="#cbef00"/><path d="M1089.2 219.3l7.9 -2.9 -7.9 -.4 -7.8 2.8z" fill="#d7f100"/><path d="M1104.9 217.2l7.9 -2.9 -7.9 -.7 -7.8 2.8z" fill="#e4f100"/><path d="M1120.7 215.4l7.9 -3 -7.9 -1 -7.9 2.9z" fill="#f0f000"/><path d="M1136.4 213.8l7.9 -3 -7.9 -1.3 -7.8 2.9z" fill="#f6ed00"/><path d="M1152.2 212.4l7.9 -3.1 -7.9 -1.6 -7.9 3.1z" fill="#f7e800"/><path d="M1168.0 211.3l7.9 -3.2 -7.9 -1.9 -7.9 3.1z" fill="#f7e400"/><path d="M1183.8 210.4l7.9 -3.2 -7.9 -2.2 -7.9 3.1z" fill="#f8e000"/><path d="M1199.6 209.8l7.9 -3.4 -7.9 -2.5 -7.9 3.3z" fill="#f8dc00"/><path d="M1231.2 209.1l7.9 -3.5 -7.9 -3.1 -7.9 3.4z" fill="#f7db00"/><path d="M1026.6 229.8l7.8 -2.6 -7.7 .7 -7.9 2.6z" fill="#7ac106"/><path d="M1215.4 209.3l7.9 -3.4 -7.9 -2.8 -7.9 3.3z" fill="#f7da00"/><path d="M1003.2 235.6l7.8 -2.6 -7.7 .9 -7.8 2.5z" fill="#5cb00b" stroke-opacity="0.49"/><path d="M1018.7 232.4l7.9 -2.6 -7.8 .7 -7.8 2.5z" fill="#7ac307"/><path d="M1034.3 229.5l7.9 -2.6 -7.8 .3 -7.8 2.6z" fill="#9ad704"/><path d="M1050.0 226.8l7.8 -2.7 -7.8 .1 -7.8 2.7z" fill="#b9ea01"/><path d="M1065.6 224.4l7.9 -2.8 -7.8 -.2 -7.9 2.7z" fill="#c9ee00"/><path d="M1081.3 222.2l7.9 -2.9 -7.8 -.5 -7.9 2.8z" fill="#d5f100"/><path d="M1097.1 220.2l7.8 -3 -7.8 -.8 -7.9 2.9z" fill="#e1f200"/><path d="M1112.8 218.4l7.9 -3 -7.9 -1.1 -7.9 2.9z" fill="#edf100"/><path d="M1128.6 216.9l7.8 -3.1 -7.8 -1.4 -7.9 3z" fill="#f5ef00"/><path d="M1144.3 215.6l7.9 -3.2 -7.9 -1.6 -7.9 3z" fill="#f6ea00"/><path d="M1160.1 214.5l7.9 -3.2 -7.9 -2 -7.9 3.1z" fill="#f7e600"/><path d="M1175.9 213.7l7.9 -3.3 -7.9 -2.3 -7.9 3.2z" fill="#f8e300"/><path d="M1191.7 213.1l7.9 -3.3 -7.9 -2.6 -7.9 3.2z" fill="#f8e200"/><path d="M1207.5 212.8l7.9 -3.5 -7.9 -2.9 -7.9 3.4z" fill="#f8e100"/><path d="M1223.2 212.6l8 -3.5 -7.9 -3.2 -7.9 3.4z" fill="#f8e200"/><path d="M1026.5 232.2l7.8 -2.7 -7.7 .3 -7.9 2.6z" fill="#99d904"/><path d="M1057.8 227.2l7.8 -2.8 -7.8 -.3 -7.8 2.7z" fill="#c7ee00"/><path d="M1183.8 216.5l7.9 -3.4 -7.9 -2.7 -7.9 3.3z" fill="#f7e500"/><path d="M1215.3 216.2l7.9 -3.6 -7.8 -3.3 -7.9 3.5z" fill="#f7e500"/><path d="M1010.9 235.1l7.8 -2.7 -7.7 .6 -7.8 2.6z" fill="#7ac507"/><path d="M1042.1 229.6l7.9 -2.8 -7.8 .1 -7.9 2.6z" fill="#b7e901"/><path d="M1073.5 225.0l7.8 -2.8 -7.8 -.6 -7.9 2.8z" fill="#d3f000"/><path d="M1089.2 223.1l7.9 -2.9 -7.9 -.9 -7.9 2.9z" fill="#def200"/><path d="M1104.9 221.4l7.9 -3 -7.9 -1.2 -7.8 3z" fill="#e9f100"/><path d="M1120.7 220.0l7.9 -3.1 -7.9 -1.5 -7.9 3z" fill="#f3f000"/><path d="M1136.4 218.7l7.9 -3.1 -7.9 -1.8 -7.8 3.1z" fill="#f6ed00"/><path d="M1152.2 217.7l7.9 -3.2 -7.9 -2.1 -7.9 3.2z" fill="#f6e900"/><path d="M1168.0 217.0l7.9 -3.3 -7.9 -2.4 -7.9 3.2z" fill="#f7e600"/><path d="M1199.5 216.2l8 -3.4 -7.9 -3 -7.9 3.3z" fill="#f7e400"/><path d="M1018.7 234.9l7.8 -2.7 -7.8 .2 -7.8 2.7z" fill="#99db05"/><path d="M1034.3 232.3l7.8 -2.7 -7.8 -.1 -7.8 2.7z" fill="#b4e801"/><path d="M1049.9 230.0l7.9 -2.8 -7.8 -.4 -7.9 2.8z" fill="#c5ed00"/><path d="M1065.6 227.9l7.9 -2.9 -7.9 -.6 -7.8 2.8z" fill="#d0f000"/><path d="M1081.3 226.1l7.9 -3 -7.9 -.9 -7.8 2.8z" fill="#dbf200"/><path d="M1097.0 224.4l7.9 -3 -7.8 -1.2 -7.9 2.9z" fill="#e6f100"/><path d="M1144.3 221.0l7.9 -3.3 -7.9 -2.1 -7.9 3.1z" fill="#f6eb00"/><path d="M1160.1 220.3l7.9 -3.3 -7.9 -2.5 -7.9 3.2z" fill="#f6e900"/><path d="M1175.8 219.9l8 -3.4 -7.9 -2.8 -7.9 3.3z" fill="#f7e800"/><path d="M1191.6 219.7l7.9 -3.5 -7.8 -3.1 -7.9 3.4z" fill="#f7e700"/><path d="M1207.4 219.7l7.9 -3.5 -7.8 -3.4 -8 3.4z" fill="#f7e800"/><path d="M1112.8 223.1l7.9 -3.1 -7.9 -1.6 -7.9 3z" fill="#eff000"/><path d="M1128.5 221.9l7.9 -3.2 -7.8 -1.8 -7.9 3.1z" fill="#f5ef00"/><path d="M1026.4 235.1l7.9 -2.8 -7.8 -.1 -7.8 2.7z" fill="#b1e702"/><path d="M1073.4 229.0l7.9 -2.9 -7.8 -1.1 -7.9 2.9z" fill="#d8f100"/><path d="M1136.4 224.2l7.9 -3.2 -7.9 -2.3 -7.9 3.2z" fill="#f5ee00"/><path d="M1183.7 223.2l7.9 -3.5 -7.8 -3.2 -8 3.4z" fill="#f6eb00"/><path d="M1042.1 232.9l7.8 -2.9 -7.8 -.4 -7.8 2.7z" fill="#c2ed00"/><path d="M1057.8 230.8l7.8 -2.9 -7.8 -.7 -7.9 2.8z" fill="#ceef00"/><path d="M1089.2 227.5l7.8 -3.1 -7.8 -1.3 -7.9 3z" fill="#e2f200"/><path d="M1104.9 226.2l7.9 -3.1 -7.9 -1.7 -7.9 3z" fill="#ebf100"/><path d="M1120.7 225.1l7.8 -3.2 -7.8 -1.9 -7.9 3.1z" fill="#f3f000"/><path d="M1152.2 223.6l7.9 -3.3 -7.9 -2.6 -7.9 3.3z" fill="#f6ec00"/><path d="M1167.9 223.3l7.9 -3.4 -7.8 -2.9 -7.9 3.3z" fill="#f6eb00"/><path d="M1199.5 223.3l7.9 -3.6 -7.9 -3.5 -7.9 3.5z" fill="#f6ec00"/><path d="M1034.2 235.7l7.9 -2.8 -7.8 -.6 -7.9 2.8z" fill="#c0ec00"/><path d="M1049.9 233.7l7.9 -2.9 -7.9 -.8 -7.8 2.9z" fill="#ccef00"/><path d="M1065.6 232.0l7.8 -3 -7.8 -1.1 -7.8 2.9z" fill="#d6f100"/><path d="M1081.3 230.5l7.9 -3 -7.9 -1.4 -7.9 2.9z" fill="#dff200"/><path d="M1097.0 229.3l7.9 -3.1 -7.9 -1.8 -7.8 3.1z" fill="#e7f100"/><path d="M1112.8 228.3l7.9 -3.2 -7.9 -2 -7.9 3.1z" fill="#eef100"/><path d="M1128.5 227.5l7.9 -3.3 -7.9 -2.3 -7.8 3.2z" fill="#f4f000"/><path d="M1144.3 227.0l7.9 -3.4 -7.9 -2.6 -7.9 3.2z" fill="#f5ef00"/><path d="M1160.0 226.7l7.9 -3.4 -7.8 -3 -7.9 3.3z" fill="#f5ee00"/><path d="M1175.8 226.7l7.9 -3.5 -7.9 -3.3 -7.9 3.4z" fill="#f5ee00"/><path d="M1191.6 226.9l7.9 -3.6 -7.9 -3.6 -7.9 3.5z" fill="#f5ef00"/><path d="M1042.0 236.7l7.9 -3 -7.8 -.8 -7.9 2.8z" fill="#c9ee00"/><path d="M1057.7 235.0l7.9 -3 -7.8 -1.2 -7.9 2.9z" fill="#d3f000"/><path d="M1073.4 233.6l7.9 -3.1 -7.9 -1.5 -7.8 3z" fill="#dbf200"/><path d="M1089.2 232.4l7.8 -3.1 -7.8 -1.8 -7.9 3z" fill="#e3f100"/><path d="M1104.9 231.5l7.9 -3.2 -7.9 -2.1 -7.9 3.1z" fill="#eaf100"/><path d="M1120.6 230.8l7.9 -3.3 -7.8 -2.4 -7.9 3.2z" fill="#eff000"/><path d="M1136.4 230.4l7.9 -3.4 -7.9 -2.8 -7.9 3.3z" fill="#f2f000"/><path d="M1152.1 230.1l7.9 -3.4 -7.8 -3.1 -7.9 3.4z" fill="#f4f000"/><path d="M1167.9 230.2l7.9 -3.5 -7.9 -3.4 -7.9 3.4z" fill="#f3f000"/><path d="M1183.6 230.5l8 -3.6 -7.9 -3.7 -7.9 3.5z" fill="#f1f000"/><path d="M1049.9 238.0l7.8 -3 -7.8 -1.3 -7.9 3z" fill="#d0f000"/><path d="M1081.3 235.6l7.9 -3.2 -7.9 -1.9 -7.9 3.1z" fill="#dff200"/><path d="M1097.0 234.7l7.9 -3.2 -7.9 -2.2 -7.8 3.1z" fill="#e6f100"/><path d="M1112.8 234.1l7.8 -3.3 -7.8 -2.5 -7.9 3.2z" fill="#eaf100"/><path d="M1128.5 233.7l7.9 -3.3 -7.9 -2.9 -7.9 3.3z" fill="#edf100"/><path d="M1144.3 233.6l7.8 -3.5 -7.8 -3.1 -7.9 3.4z" fill="#eef100"/><path d="M1160.0 233.7l7.9 -3.5 -7.9 -3.5 -7.9 3.4z" fill="#eef100"/><path d="M1175.7 234.1l7.9 -3.6 -7.8 -3.8 -7.9 3.5z" fill="#ebf100"/><path d="M1065.6 236.7l7.8 -3.1 -7.8 -1.6 -7.9 3z" fill="#d8f100"/><path d="M1057.7 239.8l7.9 -3.1 -7.9 -1.7 -7.8 3z" fill="#d5f100"/><path d="M1089.1 238.0l7.9 -3.3 -7.8 -2.3 -7.9 3.2z" fill="#e2f200"/><path d="M1104.9 237.4l7.9 -3.3 -7.9 -2.6 -7.9 3.2z" fill="#e6f100"/><path d="M1120.6 237.1l7.9 -3.4 -7.9 -2.9 -7.8 3.3z" fill="#e8f100"/><path d="M1136.4 237.1l7.9 -3.5 -7.9 -3.2 -7.9 3.3z" fill="#e9f100"/><path d="M1152.1 237.3l7.9 -3.6 -7.9 -3.6 -7.8 3.5z" fill="#e8f100"/><path d="M1073.4 238.8l7.9 -3.2 -7.9 -2 -7.8 3.1z" fill="#dbf200"/><path d="M1167.8 237.7l7.9 -3.6 -7.8 -3.9 -7.9 3.5z" fill="#e5f100"/><path d="M1065.6 241.9l7.8 -3.1 -7.8 -2.1 -7.9 3.1z" fill="#d8f100"/><path d="M1081.3 241.2l7.8 -3.2 -7.8 -2.4 -7.9 3.2z" fill="#ddf200"/><path d="M1097.0 240.8l7.9 -3.4 -7.9 -2.7 -7.9 3.3z" fill="#e1f200"/><path d="M1112.7 240.5l7.9 -3.4 -7.8 -3 -7.9 3.3z" fill="#e3f100"/><path d="M1128.5 240.6l7.9 -3.5 -7.9 -3.4 -7.9 3.4z" fill="#e4f100"/><path d="M1144.2 240.9l7.9 -3.6 -7.8 -3.7 -7.9 3.5z" fill="#e3f100"/><path d="M1159.9 241.4l7.9 -3.7 -7.8 -4 -7.9 3.6z" fill="#e0f200"/><path d="M1104.9 244.0l7.8 -3.5 -7.8 -3.1 -7.9 3.4z" fill="#def200"/><path d="M1136.3 244.5l7.9 -3.6 -7.8 -3.8 -7.9 3.5z" fill="#ddf200"/><path d="M1073.4 244.5l7.9 -3.3 -7.9 -2.4 -7.8 3.1z" fill="#d9f100"/><path d="M1089.1 244.1l7.9 -3.3 -7.9 -2.8 -7.8 3.2z" fill="#dcf200"/><path d="M1120.6 244.1l7.9 -3.5 -7.9 -3.5 -7.9 3.4z" fill="#dff200"/><path d="M1152.1 245.1l7.8 -3.7 -7.8 -4.1 -7.9 3.6z" fill="#daf200"/><path d="M1081.3 247.5l7.8 -3.4 -7.8 -2.9 -7.9 3.3z" fill="#d9f100"/><path d="M1097.0 247.4l7.9 -3.4 -7.9 -3.2 -7.9 3.3z" fill="#daf200"/><path d="M1112.7 247.6l7.9 -3.5 -7.9 -3.6 -7.8 3.5z" fill="#daf200"/><path d="M1128.5 248.1l7.8 -3.6 -7.8 -3.9 -7.9 3.5z" fill="#d8f100"/><path d="M1144.2 248.8l7.9 -3.7 -7.9 -4.2 -7.9 3.6z" fill="#d5f100"/><path d="M1089.1 250.9l7.9 -3.5 -7.9 -3.3 -7.8 3.4z" fill="#d6f100"/><path d="M1104.9 251.2l7.8 -3.6 -7.8 -3.6 -7.9 3.4z" fill="#d5f100"/><path d="M1120.6 251.7l7.9 -3.6 -7.9 -4 -7.9 3.5z" fill="#d4f000"/><path d="M1136.3 252.5l7.9 -3.7 -7.9 -4.3 -7.8 3.6z" fill="#d1f000"/><path d="M1112.7 255.3l7.9 -3.6 -7.9 -4.1 -7.8 3.6z" fill="#cfef00"/><path d="M1128.4 256.2l7.9 -3.7 -7.8 -4.4 -7.9 3.6z" fill="#ccef00"/><path d="M1097.0 254.7l7.9 -3.5 -7.9 -3.8 -7.9 3.5z" fill="#d1f000"/><path d="M1104.8 259.0l7.9 -3.7 -7.8 -4.1 -7.9 3.5z" fill="#cbef00"/><path d="M1120.6 260.0l7.8 -3.8 -7.8 -4.5 -7.9 3.6z" fill="#c7ee00"/><path d="M1112.7 263.7l7.9 -3.7 -7.9 -4.7 -7.9 3.7z" fill="#c2ed00"/></g>
<circle cx="960.73" cy="312.55" r="2" fill="#111"/><circle cx="959.79" cy="293.01" r="2" fill="#111"/><circle cx="958.85" cy="273.46" r="2" fill="#111"/><circle cx="957.91" cy="253.92" r="2" fill="#111"/><circle cx="956.96" cy="234.37" r="2" fill="#111"/><circle cx="956.02" cy="214.83" r="2" fill="#111"/><circle cx="955.08" cy="195.29" r="2" fill="#111"/><circle cx="954.14" cy="175.74" r="2" fill="#111"/><circle cx="953.2" cy="156.2" r="2" fill="#111"/><circle cx="1112.9" cy="433.2" r="2" fill="#111"/><circle cx="1112.9" cy="433.2" r="2" fill="#111"/><circle cx="1082.94" cy="418.92" r="2" fill="#111"/><circle cx="1142.82" cy="418.94" r="2" fill="#111"/><circle cx="1052.98" cy="404.64" r="2" fill="#111"/><circle cx="1172.74" cy="404.68" r="2" fill="#111"/><circle cx="1023.02" cy="390.36" r="2" fill="#111"/><circle cx="1202.66" cy="390.42" r="2" fill="#111"/><circle cx="993.06" cy="376.08" r="2" fill="#111"/><circle cx="1232.58" cy="376.16" r="2" fill="#111"/><circle cx="963.1" cy="361.8" r="2" fill="#111"/><circle cx="1262.5" cy="361.9" r="2" fill="#111"/><g font-family="Liberation Sans, sans-serif" font-size="14.99" fill="#3a3a3a" stroke="#3a3a3a" stroke-width="0.3"><text x="952.3" y="309.8" text-anchor="end">100</text><text x="951.4" y="290.3" text-anchor="end">120</text><text x="950.4" y="270.7" text-anchor="end">140</text><text x="949.5" y="251.2" text-anchor="end">160</text><text x="948.5" y="231.7" text-anchor="end">180</text><text x="947.6" y="212.1" text-anchor="end">200</text><text x="946.6" y="192.6" text-anchor="end">220</text><text x="945.7" y="173.0" text-anchor="end">240</text><text x="944.8" y="153.5" text-anchor="end">260</text><text x="1096.2" y="450.2" text-anchor="middle">15</text><text x="1066.2" y="435.9" text-anchor="middle">28</text><text x="1036.3" y="421.6" text-anchor="middle">41</text><text x="1006.3" y="407.4" text-anchor="middle">54</text><text x="976.3" y="393.1" text-anchor="middle">67</text><text x="946.4" y="378.8" text-anchor="middle">80</text><text x="1129.2" y="449.7" text-anchor="middle">20</text><text x="1159.1" y="435.5" text-anchor="middle">26</text><text x="1189.0" y="421.2" text-anchor="middle">32</text><text x="1219.0" y="407.0" text-anchor="middle">38</text><text x="1248.9" y="392.7" text-anchor="middle">44</text><text x="1278.8" y="378.4" text-anchor="middle">50</text><text x="944.6" y="432.3" textLength="71.4" lengthAdjust="spacingAndGlyphs">Ethanol (%)</text><text x="1200.8" y="432.3" textLength="89.4" lengthAdjust="spacingAndGlyphs">Amplitude (%)</text><clipPath id="cP3"><rect x="882.2" y="111.0" width="40" height="500"/></clipPath><g clip-path="url(#cP3)"><text transform="translate(912.2 419.6) rotate(-90)" style="font-size:14.35px">Total major phenolic acids extraction yield (%) (%)</text></g></g></g>
<g id="P4"><path d="M83.88 839.96L246.68 783.39 M82.78 815.41L246.67 761.16 M81.69 790.86L246.65 738.94 M80.59 766.31L246.64 716.71 M79.49 741.76L246.63 694.48 M78.39 717.2L246.62 672.25 M77.3 692.65L246.61 650.03 M76.2 668.1L246.6 627.8 M110.28 660.04L116.44 828.65 M144.36 651.98L149 817.33 M178.44 643.92L181.56 806.02 M212.52 635.86L214.12 794.7 M246.68 783.39L409.64 839.05 M246.67 761.16L410.75 814.59 M246.65 738.94L411.86 790.12 M246.64 716.71L412.97 765.66 M246.63 694.48L414.08 741.19 M246.62 672.25L415.18 716.73 M246.61 650.03L416.29 692.26 M246.6 627.8L417.4 667.8 M383.24 659.8L377.05 827.92 M349.08 651.8L344.46 816.79 M314.92 643.8L311.86 805.66 M280.76 635.8L279.27 794.52 M76.2 668.1L86.3 894.1 M246.6 627.8L246.7 832.4 M417.4 667.8L407.2 893" stroke="#686868" stroke-width="1.3" fill="none"/>
<polygon points="246.7,973.1 407.2,893 246.7,832.4 86.3,894.1" fill="#636363" stroke="#2a2a2a" stroke-width="1.4"/>
<g fill="none" stroke-width="2.3" stroke-linejoin="round" stroke-linecap="butt"><path d="M91.9 896.9L98.1 895.1 102.4 893.9 106.6 892.7 110.8 891.4 115.0 890.1 119.1 888.8 123.2 887.5 127.3 886.1 131.3 884.8 135.3 883.4 139.2 882.0 143.1 880.6 147.0 879.1 150.9 877.7 154.7 876.2 158.5 874.7 162.2 873.2 165.9 871.7 169.6 870.2 173.2 868.6 176.8 867.1 180.3 865.5 183.8 863.9 187.3 862.3 190.8 860.7 194.2 859.1 197.5 857.4 200.9 855.8 204.2 854.1 207.4 852.4 210.6 850.7 213.8 849.0 217.0 847.3 220.1 845.5 223.2 843.8 226.2 842.1 229.2 840.3 232.2 838.5 235.3 836.8" stroke="#34b848"/><path d="M106.5 904.1L112.1 902.5 116.8 901.2 121.4 899.9 126.1 898.6 130.7 897.2 135.2 895.8 139.7 894.5 144.2 893.0 148.7 891.6 153.1 890.1 157.4 888.7 161.8 887.2 166.1 885.7 170.3 884.1 174.5 882.5 178.6 881.0 182.7 879.4 186.7 877.7 190.7 876.1 194.6 874.4 198.5 872.7 202.3 870.9 206.0 869.2 209.7 867.4 213.3 865.6 216.9 863.8 220.4 861.9 223.8 860.0 227.1 858.1 230.4 856.2 233.6 854.2 236.7 852.3 239.7 850.2 242.7 848.2 245.6 846.2 248.4 844.1 251.1 842.0 253.7 839.8 257.6 836.5" stroke="#44bf3c"/><path d="M121.9 911.7L127.3 910.2 132.0 908.9 136.7 907.5 141.3 906.1 145.9 904.7 150.4 903.2 154.9 901.8 159.4 900.3 163.7 898.8 168.1 897.3 172.4 895.7 176.6 894.1 180.8 892.5 185.0 890.9 189.1 889.3 193.2 887.6 197.2 885.9 201.2 884.2 205.1 882.5 209.0 880.7 212.9 879.0 216.6 877.2 220.4 875.4 224.1 873.6 227.7 871.7 231.3 869.9 234.9 868.0 238.4 866.1 241.9 864.2 245.3 862.3 248.7 860.4 252.0 858.4 255.3 856.5 258.5 854.5 261.7 852.5 264.9 850.5 268.0 848.5 271.0 846.4 275.6 843.3" stroke="#8cca38"/><path d="M139.1 920.1L145.0 919.0 150.4 917.9 155.7 916.8 161.0 915.7 166.2 914.5 171.4 913.3 176.6 912.1 181.7 910.9 186.8 909.6 191.9 908.3 196.8 907.0 201.7 905.6 206.5 904.2 211.3 902.8 216.0 901.3 220.6 899.8 225.2 898.2 229.6 896.7 234.0 895.0 238.2 893.4 242.4 891.6 246.5 889.9 250.4 888.1 254.3 886.2 258.0 884.3 261.6 882.4 265.1 880.4 268.5 878.3 271.8 876.2 274.9 874.1 277.8 871.9 280.7 869.7 283.4 867.4 285.9 865.1 288.3 862.7 290.5 860.2 292.6 857.7 294.5 855.2 297.0 851.4" stroke="#c6d232"/><path d="M164.3 932.5L167.2 931.9 170.6 931.3 174.1 930.6 177.8 930.0 181.6 929.4 185.4 928.9 189.4 928.4 193.5 928.0 197.6 927.5 201.7 927.2 206.0 926.9 210.2 926.6 214.4 926.4 218.7 926.3 222.9 926.2 227.1 926.2 231.3 926.2 235.4 926.3 239.5 926.5 243.5 926.8 247.4 927.1 251.2 927.6 254.9 928.1 258.5 928.7 262.0 929.4 265.3 930.2 268.4 931.0 271.4 932.0 274.2 933.2 276.8 934.4 279.2 935.7 281.4 937.2 283.3 938.8 285.0 940.5 286.5 942.3 287.7 944.3 288.6 946.4 289.2 948.7 289.6 951.7" stroke="#d6b830"/><path d="M340.0 867.6L341.2 869.2 341.7 869.8 342.1 870.3 342.7 870.9 343.2 871.5 343.8 872.0 344.4 872.6 345.0 873.1 345.7 873.6 346.4 874.1 347.1 874.6 347.8 875.1 348.6 875.6 349.4 876.0 350.2 876.5 351.0 876.9 351.8 877.3 352.7 877.7 353.6 878.1 354.6 878.5 355.6 878.9 356.5 879.2 357.6 879.5 358.6 879.9 359.7 880.2 360.8 880.5 361.9 880.8 363.0 881.1 364.2 881.3 365.4 881.5 366.6 881.8 367.9 882.0 369.1 882.2 370.4 882.4 371.8 882.6 373.1 882.7 374.5 882.9 375.9 883.0 382.3 883.6" stroke="#d6b830"/></g>
<g stroke="#000" stroke-width="0.85" stroke-opacity="0.55" stroke-linejoin="round"><path d="M246.7 711.7l8.3 -4.9 -8.4 3.9 -8.3 5z" fill="#208d1c" stroke-opacity="0.34"/><path d="M238.3 716.5l8.4 -4.8 -8.4 4 -8.3 4.7z" fill="#1c871d" stroke-opacity="0.26"/><path d="M255.0 708.2l8.4 -4.8 -8.4 3.4 -8.3 4.9z" fill="#2d9816" stroke-opacity="0.46"/><path d="M230.0 721.0l8.3 -4.5 -8.3 3.9 -8.3 4.6z" fill="#18811e" stroke-opacity="0.18"/><path d="M246.7 712.9l8.3 -4.7 -8.3 3.5 -8.4 4.8z" fill="#249018" stroke-opacity="0.38"/><path d="M263.4 705.1l8.4 -4.8 -8.4 3.1 -8.4 4.8z" fill="#50ac0e"/><path d="M221.7 725.4l8.3 -4.4 -8.3 4 -8.2 4.4z" fill="#157a1e" stroke-opacity="0.10"/><path d="M238.3 717.4l8.4 -4.5 -8.4 3.6 -8.3 4.5z" fill="#218a19" stroke-opacity="0.30"/><path d="M255.0 709.7l8.4 -4.6 -8.4 3.1 -8.3 4.7z" fill="#40a112" stroke-opacity="0.50"/><path d="M271.8 702.4l8.4 -4.8 -8.4 2.7 -8.4 4.8z" fill="#75c007"/><path d="M213.4 729.5l8.3 -4.1 -8.2 4 -8.3 4.3z" fill="#13741e" stroke-opacity="0.02"/><path d="M230.0 721.7l8.3 -4.3 -8.3 3.6 -8.3 4.4z" fill="#1d831a" stroke-opacity="0.22"/><path d="M246.7 714.2l8.3 -4.5 -8.3 3.2 -8.4 4.5z" fill="#339714" stroke-opacity="0.42"/><path d="M263.4 707.0l8.4 -4.6 -8.4 2.7 -8.4 4.6z" fill="#63b409"/><path d="M280.2 700.1l8.4 -4.7 -8.4 2.2 -8.4 4.8z" fill="#9cd703"/><path d="M205.1 733.5l8.3 -4 -8.2 4.2 -8.3 4z" fill="#1f9029" stroke="#197421" stroke-opacity="0.75" stroke-width="0.9"/><path d="M221.7 725.8l8.3 -4.1 -8.3 3.7 -8.3 4.1z" fill="#1a7d1a" stroke-opacity="0.14"/><path d="M238.3 718.4l8.4 -4.2 -8.4 3.2 -8.3 4.3z" fill="#278d15" stroke-opacity="0.33"/><path d="M255.1 711.3l8.3 -4.3 -8.4 2.7 -8.3 4.5z" fill="#54aa0c" stroke-opacity="0.53"/><path d="M271.8 704.6l8.4 -4.5 -8.4 2.3 -8.4 4.6z" fill="#88ca05"/><path d="M288.7 698.2l8.4 -4.6 -8.5 1.8 -8.4 4.7z" fill="#c2ec00"/><path d="M196.8 737.3l8.3 -3.8 -8.2 4.2 -8.2 3.8z" fill="#219a2c" stroke="#197421" stroke-opacity="0.75" stroke-width="0.9"/><path d="M213.4 729.7l8.3 -3.9 -8.3 3.7 -8.3 4z" fill="#18761a" stroke-opacity="0.05"/><path d="M230.0 722.5l8.3 -4.1 -8.3 3.3 -8.3 4.1z" fill="#228617" stroke-opacity="0.25"/><path d="M246.7 715.5l8.4 -4.2 -8.4 2.9 -8.4 4.2z" fill="#47a00f" stroke-opacity="0.45"/><path d="M263.4 708.9l8.4 -4.3 -8.4 2.4 -8.3 4.3z" fill="#77be07"/><path d="M280.3 702.7l8.4 -4.5 -8.5 1.9 -8.4 4.5z" fill="#b0e101"/><path d="M297.1 696.8l8.4 -4.6 -8.4 1.4 -8.4 4.6z" fill="#d6f100"/><path d="M188.6 740.9l8.2 -3.6 -8.1 4.2 -8.3 3.7z" fill="#23a42f" stroke="#197421" stroke-opacity="0.75" stroke-width="0.9"/><path d="M205.1 733.4l8.3 -3.7 -8.3 3.8 -8.3 3.8z" fill="#1e8c28" stroke="#197421" stroke-opacity="0.75" stroke-width="0.9"/><path d="M221.7 726.3l8.3 -3.8 -8.3 3.3 -8.3 3.9z" fill="#1f7f17" stroke-opacity="0.17"/><path d="M238.3 719.5l8.4 -4 -8.4 2.9 -8.3 4.1z" fill="#3c9611" stroke-opacity="0.37"/><path d="M255.1 713.1l8.3 -4.2 -8.3 2.4 -8.4 4.2z" fill="#67b308"/><path d="M271.9 707.0l8.4 -4.3 -8.5 1.9 -8.4 4.3z" fill="#9dd503"/><path d="M288.7 701.2l8.4 -4.4 -8.4 1.4 -8.4 4.5z" fill="#ccef00"/><path d="M305.6 695.8l8.4 -4.6 -8.5 1 -8.4 4.6z" fill="#e8f100"/><path d="M180.3 744.2l8.3 -3.3 -8.2 4.3 -8.3 3.4z" fill="#25ae32" stroke="#197421" stroke-opacity="0.75" stroke-width="0.9"/><path d="M196.8 736.9l8.3 -3.5 -8.3 3.9 -8.2 3.6z" fill="#20972b" stroke="#197421" stroke-opacity="0.75" stroke-width="0.9"/><path d="M213.4 730.0l8.3 -3.7 -8.3 3.4 -8.3 3.7z" fill="#1d7916" stroke-opacity="0.08"/><path d="M230.0 723.3l8.3 -3.8 -8.3 3 -8.3 3.8z" fill="#328d11" stroke-opacity="0.29"/><path d="M246.7 717.0l8.4 -3.9 -8.4 2.4 -8.4 4z" fill="#5ba90a" stroke-opacity="0.49"/><path d="M263.5 711.0l8.4 -4 -8.5 1.9 -8.3 4.2z" fill="#8cc904"/><path d="M280.3 705.4l8.4 -4.2 -8.4 1.5 -8.4 4.3z" fill="#c0e900"/><path d="M297.2 700.1l8.4 -4.3 -8.5 1 -8.4 4.4z" fill="#ddf200"/><path d="M314.1 695.2l8.4 -4.5 -8.5 .5 -8.4 4.6z" fill="#f6ed00"/><path d="M172.0 747.4l8.3 -3.2 -8.2 4.4 -8.2 3.3z" fill="#27b835" stroke="#197421" stroke-opacity="0.75" stroke-width="0.9"/><path d="M188.5 740.3l8.3 -3.4 -8.2 4 -8.3 3.3z" fill="#22a12e" stroke="#197421" stroke-opacity="0.75" stroke-width="0.9"/><path d="M205.0 733.4l8.4 -3.4 -8.3 3.4 -8.3 3.5z" fill="#1d8927" stroke="#197421" stroke-opacity="0.75" stroke-width="0.9"/><path d="M221.7 726.9l8.3 -3.6 -8.3 3 -8.3 3.7z" fill="#2a8512" stroke-opacity="0.20"/><path d="M238.4 720.8l8.3 -3.8 -8.4 2.5 -8.3 3.8z" fill="#50a00c" stroke-opacity="0.41"/><path d="M255.1 714.9l8.4 -3.9 -8.4 2.1 -8.4 3.9z" fill="#7dbe05"/><path d="M271.9 709.5l8.4 -4.1 -8.4 1.6 -8.4 4z" fill="#b1df00"/><path d="M288.7 704.3l8.5 -4.2 -8.5 1.1 -8.4 4.2z" fill="#d4f000"/><path d="M305.6 699.5l8.5 -4.3 -8.5 .6 -8.4 4.3z" fill="#eff100"/><path d="M322.5 695.1l8.5 -4.5 -8.5 .1 -8.4 4.5z" fill="#f7e400"/><path d="M163.7 750.4l8.3 -3 -8.1 4.5 -8.3 3z" fill="#2ac338" stroke="#197421" stroke-opacity="0.75" stroke-width="0.9"/><path d="M180.2 743.4l8.3 -3.1 -8.2 3.9 -8.3 3.2z" fill="#25ab31" stroke="#197421" stroke-opacity="0.75" stroke-width="0.9"/><path d="M196.7 736.7l8.3 -3.3 -8.2 3.5 -8.3 3.4z" fill="#20932a" stroke="#197421" stroke-opacity="0.75" stroke-width="0.9"/><path d="M213.3 730.3l8.4 -3.4 -8.3 3.1 -8.4 3.4z" fill="#247c12" stroke-opacity="0.11"/><path d="M230.0 724.3l8.4 -3.5 -8.4 2.5 -8.3 3.6z" fill="#47970c" stroke-opacity="0.32"/><path d="M246.7 718.6l8.4 -3.7 -8.4 2.1 -8.3 3.8z" fill="#71b307" stroke-opacity="0.53"/><path d="M263.5 713.3l8.4 -3.8 -8.4 1.5 -8.4 3.9z" fill="#a1d302"/><path d="M280.3 708.3l8.4 -4 -8.4 1.1 -8.4 4.1z" fill="#cdef00"/><path d="M297.2 703.7l8.4 -4.2 -8.4 .6 -8.5 4.2z" fill="#e5f100"/><path d="M314.1 699.4l8.4 -4.3 -8.4 .1 -8.5 4.3z" fill="#f6eb00"/><path d="M331.0 695.4l8.5 -4.4 -8.5 -.4 -8.5 4.5z" fill="#f7d800"/><path d="M155.4 753.1l8.3 -2.7 -8.1 4.5 -8.3 2.8z" fill="#2cce3b" stroke="#197421" stroke-opacity="0.75" stroke-width="0.9"/><path d="M171.9 746.3l8.3 -2.9 -8.2 4 -8.3 3z" fill="#27b634" stroke="#197421" stroke-opacity="0.75" stroke-width="0.9"/><path d="M188.4 739.7l8.3 -3 -8.2 3.6 -8.3 3.1z" fill="#229e2d" stroke="#197421" stroke-opacity="0.75" stroke-width="0.9"/><path d="M205.0 733.5l8.3 -3.2 -8.3 3.1 -8.3 3.3z" fill="#1e7412" stroke-opacity="0.02"/><path d="M221.7 727.6l8.3 -3.3 -8.3 2.6 -8.4 3.4z" fill="#3f8e0d" stroke-opacity="0.23"/><path d="M238.4 722.1l8.3 -3.5 -8.3 2.2 -8.4 3.5z" fill="#65a907" stroke-opacity="0.44"/><path d="M255.1 716.9l8.4 -3.6 -8.4 1.6 -8.4 3.7z" fill="#93c803"/><path d="M271.9 712.1l8.4 -3.8 -8.4 1.2 -8.4 3.8z" fill="#c0e600"/><path d="M288.8 707.6l8.4 -3.9 -8.5 .6 -8.4 4z" fill="#dcf200"/><path d="M305.7 703.4l8.4 -4 -8.5 .1 -8.4 4.2z" fill="#f4f000"/><path d="M322.6 699.7l8.4 -4.3 -8.5 -.3 -8.4 4.3z" fill="#f8e300"/><path d="M339.5 696.2l8.5 -4.4 -8.5 -.8 -8.5 4.4z" fill="#f6cb00"/><path d="M147.1 755.7l8.3 -2.6 -8.1 4.6 -8.2 2.6z" fill="#2dd23c" stroke="#197421" stroke-opacity="0.75" stroke-width="0.9"/><path d="M163.6 749.0l8.3 -2.7 -8.2 4.1 -8.3 2.7z" fill="#29c137" stroke="#197421" stroke-opacity="0.75" stroke-width="0.9"/><path d="M180.1 742.6l8.3 -2.9 -8.2 3.7 -8.3 2.9z" fill="#24a930" stroke="#197421" stroke-opacity="0.75" stroke-width="0.9"/><path d="M196.7 736.5l8.3 -3 -8.3 3.2 -8.3 3z" fill="#1f9029" stroke="#197421" stroke-opacity="0.75" stroke-width="0.9"/><path d="M213.3 730.8l8.4 -3.2 -8.4 2.7 -8.3 3.2z" fill="#39850d" stroke-opacity="0.14"/><path d="M230.0 725.4l8.4 -3.3 -8.4 2.2 -8.3 3.3z" fill="#5ca007" stroke-opacity="0.36"/><path d="M246.8 720.4l8.3 -3.5 -8.4 1.7 -8.3 3.5z" fill="#87be03"/><path d="M263.5 715.7l8.4 -3.6 -8.4 1.2 -8.4 3.6z" fill="#b4dd00"/><path d="M280.4 711.3l8.4 -3.7 -8.5 .7 -8.4 3.8z" fill="#d6f100"/><path d="M297.2 707.3l8.5 -3.9 -8.5 .3 -8.4 3.9z" fill="#ecf100"/><path d="M314.1 703.7l8.5 -4 -8.5 -.3 -8.4 4z" fill="#f6e900"/><path d="M331.0 700.4l8.5 -4.2 -8.5 -.8 -8.4 4.3z" fill="#f7d900"/><path d="M348.0 697.5l8.4 -4.4 -8.4 -1.3 -8.5 4.4z" fill="#f5c100"/><path d="M138.8 758.0l8.3 -2.3 -8 4.6 -8.3 2.4z" fill="#2dd23c" stroke="#197421" stroke-opacity="0.75" stroke-width="0.9"/><path d="M171.8 745.2l8.3 -2.6 -8.2 3.7 -8.3 2.7z" fill="#26b433" stroke="#197421" stroke-opacity="0.75" stroke-width="0.9"/><path d="M188.3 739.3l8.4 -2.8 -8.3 3.2 -8.3 2.9z" fill="#219b2c" stroke="#197421" stroke-opacity="0.75" stroke-width="0.9"/><path d="M205.0 733.7l8.3 -2.9 -8.3 2.7 -8.3 3z" fill="#347c0d" stroke-opacity="0.05"/><path d="M221.6 728.5l8.4 -3.1 -8.3 2.2 -8.4 3.2z" fill="#549608" stroke-opacity="0.27"/><path d="M255.2 719.0l8.3 -3.3 -8.4 1.2 -8.3 3.5z" fill="#a9d300"/><path d="M288.8 711.0l8.4 -3.7 -8.4 .3 -8.4 3.7z" fill="#e5f100"/><path d="M305.7 707.5l8.4 -3.8 -8.4 -.3 -8.5 3.9z" fill="#f6ed00"/><path d="M322.6 704.4l8.4 -4 -8.4 -.7 -8.5 4z" fill="#f8e300"/><path d="M339.5 701.7l8.5 -4.2 -8.5 -1.3 -8.5 4.2z" fill="#f6cf00"/><path d="M155.3 751.4l8.3 -2.4 -8.2 4.1 -8.3 2.6z" fill="#2ccc3a" stroke="#197421" stroke-opacity="0.75" stroke-width="0.9"/><path d="M238.4 723.6l8.4 -3.2 -8.4 1.7 -8.4 3.3z" fill="#7cb404" stroke-opacity="0.48"/><path d="M272.0 714.9l8.4 -3.6 -8.5 .8 -8.4 3.6z" fill="#ceed00"/><path d="M356.4 699.2l8.5 -4.3 -8.5 -1.8 -8.4 4.4z" fill="#f5bb00"/><path d="M130.5 760.1l8.3 -2.1 -8 4.7 -8.3 2.2z" fill="#2dd23c" stroke="#197421" stroke-opacity="0.75" stroke-width="0.9"/><path d="M146.9 753.7l8.4 -2.3 -8.2 4.3 -8.3 2.3z" fill="#2dd23c" stroke="#197421" stroke-opacity="0.75" stroke-width="0.9"/><path d="M163.4 747.6l8.4 -2.4 -8.2 3.8 -8.3 2.4z" fill="#29bf37" stroke="#197421" stroke-opacity="0.75" stroke-width="0.9"/><path d="M180.0 741.8l8.3 -2.5 -8.2 3.3 -8.3 2.6z" fill="#24a62f" stroke="#197421" stroke-opacity="0.75" stroke-width="0.9"/><path d="M196.6 736.4l8.4 -2.7 -8.3 2.8 -8.4 2.8z" fill="#1e8d28" stroke="#197421" stroke-opacity="0.75" stroke-width="0.9"/><path d="M213.3 731.3l8.3 -2.8 -8.3 2.3 -8.3 2.9z" fill="#4d8e07" stroke-opacity="0.17"/><path d="M230.0 726.6l8.4 -3 -8.4 1.8 -8.4 3.1z" fill="#73aa05" stroke-opacity="0.39"/><path d="M246.8 722.2l8.4 -3.2 -8.4 1.4 -8.4 3.2z" fill="#9dc801"/><path d="M263.6 718.2l8.4 -3.3 -8.5 .8 -8.3 3.3z" fill="#c3e300"/><path d="M280.4 714.5l8.4 -3.5 -8.4 .3 -8.4 3.6z" fill="#dff200"/><path d="M297.3 711.2l8.4 -3.7 -8.5 -.2 -8.4 3.7z" fill="#f3f000"/><path d="M314.2 708.2l8.4 -3.8 -8.5 -.7 -8.4 3.8z" fill="#f7e700"/><path d="M331.0 705.6l8.5 -3.9 -8.5 -1.3 -8.4 4z" fill="#f7da00"/><path d="M348.0 703.4l8.4 -4.2 -8.4 -1.7 -8.5 4.2z" fill="#f6c900"/><path d="M364.9 701.5l8.4 -4.3 -8.4 -2.3 -8.5 4.3z" fill="#f4b900"/><path d="M122.2 762.0l8.3 -1.9 -8 4.8 -8.3 2z" fill="#2dd23c" stroke="#197421" stroke-opacity="0.75" stroke-width="0.9"/><path d="M138.6 755.7l8.3 -2 -8.1 4.3 -8.3 2.1z" fill="#2dd23c" stroke="#197421" stroke-opacity="0.75" stroke-width="0.9"/><path d="M155.1 749.7l8.3 -2.1 -8.1 3.8 -8.4 2.3z" fill="#2bca3a" stroke="#197421" stroke-opacity="0.75" stroke-width="0.9"/><path d="M171.7 744.1l8.3 -2.3 -8.2 3.4 -8.4 2.4z" fill="#26b133" stroke="#197421" stroke-opacity="0.75" stroke-width="0.9"/><path d="M188.3 738.9l8.3 -2.5 -8.3 2.9 -8.3 2.5z" fill="#21982c" stroke="#197421" stroke-opacity="0.75" stroke-width="0.9"/><path d="M204.9 733.9l8.4 -2.6 -8.3 2.4 -8.4 2.7z" fill="#488508" stroke-opacity="0.08"/><path d="M221.6 729.4l8.4 -2.8 -8.4 1.9 -8.3 2.8z" fill="#6ba104" stroke-opacity="0.30"/><path d="M238.4 725.2l8.4 -3 -8.4 1.4 -8.4 3z" fill="#93be01" stroke-opacity="0.52"/><path d="M255.2 721.3l8.4 -3.1 -8.4 .8 -8.4 3.2z" fill="#b8d900"/><path d="M272.0 717.8l8.4 -3.3 -8.4 .4 -8.4 3.3z" fill="#dbf200"/><path d="M288.9 714.6l8.4 -3.4 -8.5 -.2 -8.4 3.5z" fill="#edf100"/><path d="M305.7 711.8l8.5 -3.6 -8.5 -.7 -8.4 3.7z" fill="#f6eb00"/><path d="M322.6 709.4l8.4 -3.8 -8.4 -1.2 -8.4 3.8z" fill="#f8e200"/><path d="M339.5 707.3l8.5 -3.9 -8.5 -1.7 -8.5 3.9z" fill="#f7d400"/><path d="M356.4 705.6l8.5 -4.1 -8.5 -2.3 -8.4 4.2z" fill="#f6c700"/><path d="M373.3 704.2l8.5 -4.3 -8.5 -2.7 -8.4 4.3z" fill="#f5bc00"/><path d="M113.9 763.6l8.3 -1.6 -8 4.9 -8.3 1.7z" fill="#2dd23c" stroke="#197421" stroke-opacity="0.75" stroke-width="0.9"/><path d="M130.3 757.5l8.3 -1.8 -8.1 4.4 -8.3 1.9z" fill="#2dd23c" stroke="#197421" stroke-opacity="0.75" stroke-width="0.9"/><path d="M146.8 751.7l8.3 -2 -8.2 4 -8.3 2z" fill="#2dd23c" stroke="#197421" stroke-opacity="0.75" stroke-width="0.9"/><path d="M163.3 746.2l8.4 -2.1 -8.3 3.5 -8.3 2.1z" fill="#28bd36" stroke="#197421" stroke-opacity="0.75" stroke-width="0.9"/><path d="M179.9 741.1l8.4 -2.2 -8.3 2.9 -8.3 2.3z" fill="#23a32f" stroke="#197421" stroke-opacity="0.75" stroke-width="0.9"/><path d="M196.6 736.4l8.3 -2.5 -8.3 2.5 -8.3 2.5z" fill="#1e8a27" stroke="#197421" stroke-opacity="0.75" stroke-width="0.9"/><path d="M213.3 731.9l8.3 -2.5 -8.3 1.9 -8.4 2.6z" fill="#659804" stroke-opacity="0.21"/><path d="M230.0 727.9l8.4 -2.7 -8.4 1.4 -8.4 2.8z" fill="#8bb502" stroke-opacity="0.43"/><path d="M246.8 724.2l8.4 -2.9 -8.4 .9 -8.4 3z" fill="#afd000"/><path d="M263.6 720.8l8.4 -3 -8.4 .4 -8.4 3.1z" fill="#d1e900"/><path d="M280.5 717.8l8.4 -3.2 -8.5 -.1 -8.4 3.3z" fill="#e9f100"/><path d="M297.3 715.2l8.4 -3.4 -8.4 -.6 -8.4 3.4z" fill="#f5ee00"/><path d="M314.2 712.9l8.4 -3.5 -8.4 -1.2 -8.5 3.6z" fill="#f7e600"/><path d="M331.1 711.0l8.4 -3.7 -8.5 -1.7 -8.4 3.8z" fill="#f8dd00"/><path d="M347.9 709.5l8.5 -3.9 -8.4 -2.2 -8.5 3.9z" fill="#f7d100"/><path d="M364.8 708.3l8.5 -4.1 -8.4 -2.7 -8.5 4.1z" fill="#f6c900"/><path d="M381.7 707.4l8.5 -4.2 -8.4 -3.3 -8.5 4.3z" fill="#f5c300"/><path d="M105.5 765.0l8.4 -1.4 -8 5 -8.4 1.5z" fill="#2dd23c" stroke="#197421" stroke-opacity="0.75" stroke-width="0.9"/><path d="M121.9 759.1l8.4 -1.6 -8.1 4.5 -8.3 1.6z" fill="#2dd23c" stroke="#197421" stroke-opacity="0.75" stroke-width="0.9"/><path d="M138.4 753.4l8.4 -1.7 -8.2 4 -8.3 1.8z" fill="#2dd23c" stroke="#197421" stroke-opacity="0.75" stroke-width="0.9"/><path d="M155.0 748.1l8.3 -1.9 -8.2 3.5 -8.3 2z" fill="#2bc839" stroke="#197421" stroke-opacity="0.75" stroke-width="0.9"/><path d="M171.5 743.2l8.4 -2.1 -8.2 3 -8.4 2.1z" fill="#25af32" stroke="#197421" stroke-opacity="0.75" stroke-width="0.9"/><path d="M188.2 738.6l8.4 -2.2 -8.3 2.5 -8.4 2.2z" fill="#20952b" stroke="#197421" stroke-opacity="0.75" stroke-width="0.9"/><path d="M204.9 734.3l8.4 -2.4 -8.4 2 -8.3 2.5z" fill="#5f8f04" stroke-opacity="0.11"/><path d="M221.6 730.4l8.4 -2.5 -8.4 1.5 -8.3 2.5z" fill="#83ac01" stroke-opacity="0.34"/><path d="M238.4 726.8l8.4 -2.6 -8.4 1 -8.4 2.7z" fill="#a6c700"/><path d="M255.2 723.7l8.4 -2.9 -8.4 .5 -8.4 2.9z" fill="#c7e000"/><path d="M272.0 720.8l8.5 -3 -8.5 0 -8.4 3z" fill="#e6f100"/><path d="M288.9 718.4l8.4 -3.2 -8.4 -.6 -8.4 3.2z" fill="#f5f000"/><path d="M305.8 716.3l8.4 -3.4 -8.5 -1.1 -8.4 3.4z" fill="#f6e900"/><path d="M322.6 714.5l8.5 -3.5 -8.5 -1.6 -8.4 3.5z" fill="#f8e300"/><path d="M339.5 713.1l8.4 -3.6 -8.4 -2.2 -8.4 3.7z" fill="#f7da00"/><path d="M356.4 712.1l8.4 -3.8 -8.4 -2.7 -8.5 3.9z" fill="#f7d300"/><path d="M373.2 711.5l8.5 -4.1 -8.4 -3.2 -8.5 4.1z" fill="#f6ce00"/><path d="M390.1 711.2l8.4 -4.3 -8.3 -3.7 -8.5 4.2z" fill="#f6cd00"/><path d="M97.2 766.2l8.3 -1.2 -8 5.1 -8.3 1.3z" fill="#2dd23c" stroke="#197421" stroke-opacity="0.75" stroke-width="0.9"/><path d="M130.1 754.9l8.3 -1.5 -8.1 4.1 -8.4 1.6z" fill="#2dd23c" stroke="#197421" stroke-opacity="0.75" stroke-width="0.9"/><path d="M146.6 749.8l8.4 -1.7 -8.2 3.6 -8.4 1.7z" fill="#2dd23c" stroke="#197421" stroke-opacity="0.75" stroke-width="0.9"/><path d="M163.2 745.0l8.3 -1.8 -8.2 3 -8.3 1.9z" fill="#28bb35" stroke="#197421" stroke-opacity="0.75" stroke-width="0.9"/><path d="M179.8 740.5l8.4 -1.9 -8.3 2.5 -8.4 2.1z" fill="#22a12e" stroke="#197421" stroke-opacity="0.75" stroke-width="0.9"/><path d="M213.3 732.7l8.3 -2.3 -8.3 1.5 -8.4 2.4z" fill="#7da301" stroke-opacity="0.24"/><path d="M230.0 729.3l8.4 -2.5 -8.4 1.1 -8.4 2.5z" fill="#9ebd00" stroke-opacity="0.47"/><path d="M246.8 726.3l8.4 -2.6 -8.4 .5 -8.4 2.6z" fill="#bfd700"/><path d="M263.6 723.6l8.4 -2.8 -8.4 0 -8.4 2.9z" fill="#e1ee00"/><path d="M280.5 721.3l8.4 -2.9 -8.4 -.6 -8.5 3z" fill="#f2f000"/><path d="M297.3 719.4l8.5 -3.1 -8.5 -1.1 -8.4 3.2z" fill="#f6eb00"/><path d="M331.1 716.6l8.4 -3.5 -8.4 -2.1 -8.5 3.5z" fill="#f8e100"/><path d="M347.9 715.8l8.5 -3.7 -8.5 -2.6 -8.4 3.6z" fill="#f7db00"/><path d="M364.8 715.3l8.4 -3.8 -8.4 -3.2 -8.4 3.8z" fill="#f7d800"/><path d="M398.4 715.4l8.5 -4.2 -8.4 -4.3 -8.4 4.3z" fill="#f7db00"/><path d="M113.6 760.4l8.3 -1.3 -8 4.5 -8.4 1.4z" fill="#2dd23c" stroke="#197421" stroke-opacity="0.75" stroke-width="0.9"/><path d="M196.5 736.4l8.4 -2.1 -8.3 2.1 -8.4 2.2z" fill="#5a8704" stroke-opacity="0.02"/><path d="M314.2 717.8l8.4 -3.3 -8.4 -1.6 -8.4 3.4z" fill="#f7e500"/><path d="M381.6 715.2l8.5 -4 -8.4 -3.8 -8.5 4.1z" fill="#f7d800"/><path d="M88.8 767.2l8.4 -1 -8 5.2 -8.3 1z" fill="#2dd23c" stroke="#197421" stroke-opacity="0.75" stroke-width="0.9"/><path d="M105.2 761.5l8.4 -1.1 -8.1 4.6 -8.3 1.2z" fill="#2dd23c" stroke="#197421" stroke-opacity="0.75" stroke-width="0.9"/><path d="M121.7 756.2l8.4 -1.3 -8.2 4.2 -8.3 1.3z" fill="#2dd23c" stroke="#197421" stroke-opacity="0.75" stroke-width="0.9"/><path d="M138.2 751.2l8.4 -1.4 -8.2 3.6 -8.3 1.5z" fill="#2dd23c" stroke="#197421" stroke-opacity="0.75" stroke-width="0.9"/><path d="M154.8 746.5l8.4 -1.5 -8.2 3.1 -8.4 1.7z" fill="#2bc639" stroke="#197421" stroke-opacity="0.75" stroke-width="0.9"/><path d="M171.4 742.3l8.4 -1.8 -8.3 2.7 -8.3 1.8z" fill="#25ac31" stroke="#197421" stroke-opacity="0.75" stroke-width="0.9"/><path d="M188.1 738.3l8.4 -1.9 -8.3 2.2 -8.4 1.9z" fill="#1f922a" stroke="#197421" stroke-opacity="0.75" stroke-width="0.9"/><path d="M204.9 734.7l8.4 -2 -8.4 1.6 -8.4 2.1z" fill="#779a01" stroke-opacity="0.14"/><path d="M221.6 731.5l8.4 -2.2 -8.4 1.1 -8.3 2.3z" fill="#97b400" stroke-opacity="0.37"/><path d="M238.4 728.7l8.4 -2.4 -8.4 .5 -8.4 2.5z" fill="#b6cd00"/><path d="M255.2 726.2l8.4 -2.6 -8.4 .1 -8.4 2.6z" fill="#d9e500"/><path d="M272.1 724.0l8.4 -2.7 -8.5 -.5 -8.4 2.8z" fill="#f1f000"/><path d="M288.9 722.3l8.4 -2.9 -8.4 -1 -8.4 2.9z" fill="#f6ec00"/><path d="M305.8 720.9l8.4 -3.1 -8.4 -1.5 -8.5 3.1z" fill="#f7e700"/><path d="M322.7 719.9l8.4 -3.3 -8.5 -2.1 -8.4 3.3z" fill="#f8e300"/><path d="M339.5 719.2l8.4 -3.4 -8.4 -2.7 -8.4 3.5z" fill="#f8e100"/><path d="M356.3 718.9l8.5 -3.6 -8.4 -3.2 -8.5 3.7z" fill="#f8df00"/><path d="M373.2 719.0l8.4 -3.8 -8.4 -3.7 -8.4 3.8z" fill="#f8e000"/><path d="M390.0 719.4l8.4 -4 -8.3 -4.2 -8.5 4z" fill="#f8e300"/><path d="M406.8 720.2l8.4 -4.2 -8.3 -4.8 -8.5 4.2z" fill="#f7e600"/><path d="M113.3 757.2l8.4 -1 -8.1 4.2 -8.4 1.1z" fill="#2dd23c" stroke="#197421" stroke-opacity="0.75" stroke-width="0.9"/><path d="M146.4 747.9l8.4 -1.4 -8.2 3.3 -8.4 1.4z" fill="#2dd23c" stroke="#197421" stroke-opacity="0.75" stroke-width="0.9"/><path d="M230.0 730.8l8.4 -2.1 -8.4 .6 -8.4 2.2z" fill="#afc400" stroke-opacity="0.51"/><path d="M280.5 725.0l8.4 -2.7 -8.4 -1 -8.4 2.7z" fill="#f6ed00"/><path d="M364.7 722.5l8.5 -3.5 -8.4 -3.7 -8.5 3.6z" fill="#f7e400"/><path d="M398.3 724.1l8.5 -3.9 -8.4 -4.8 -8.4 4z" fill="#f6ea00"/><path d="M96.8 762.4l8.4 -.9 -8 4.7 -8.4 1z" fill="#2dd23c" stroke="#197421" stroke-opacity="0.75" stroke-width="0.9"/><path d="M129.8 752.4l8.4 -1.2 -8.1 3.7 -8.4 1.3z" fill="#2dd23c" stroke="#197421" stroke-opacity="0.75" stroke-width="0.9"/><path d="M163.1 743.7l8.3 -1.4 -8.2 2.7 -8.4 1.5z" fill="#28b835" stroke="#197421" stroke-opacity="0.75" stroke-width="0.9"/><path d="M179.7 740.0l8.4 -1.7 -8.3 2.2 -8.4 1.8z" fill="#229e2d" stroke="#197421" stroke-opacity="0.75" stroke-width="0.9"/><path d="M196.5 736.6l8.4 -1.9 -8.4 1.7 -8.4 1.9z" fill="#729101" stroke-opacity="0.04"/><path d="M213.2 733.5l8.4 -2 -8.3 1.2 -8.4 2z" fill="#90aa00" stroke-opacity="0.27"/><path d="M246.9 728.5l8.3 -2.3 -8.4 .1 -8.4 2.4z" fill="#cfdb00"/><path d="M263.7 726.6l8.4 -2.6 -8.5 -.4 -8.4 2.6z" fill="#f0f000"/><path d="M297.4 723.7l8.4 -2.8 -8.5 -1.5 -8.4 2.9z" fill="#f7e800"/><path d="M314.2 722.9l8.5 -3 -8.5 -2.1 -8.4 3.1z" fill="#f7e500"/><path d="M331.1 722.4l8.4 -3.2 -8.4 -2.6 -8.4 3.3z" fill="#f8e300"/><path d="M347.9 722.3l8.4 -3.4 -8.4 -3.1 -8.4 3.4z" fill="#f8e300"/><path d="M381.5 723.2l8.5 -3.8 -8.4 -4.2 -8.4 3.8z" fill="#f7e600"/><path d="M104.9 758.0l8.4 -.8 -8.1 4.3 -8.4 .9z" fill="#2dd23c" stroke="#197421" stroke-opacity="0.75" stroke-width="0.9"/><path d="M121.4 753.3l8.4 -.9 -8.1 3.8 -8.4 1z" fill="#2dd23c" stroke="#197421" stroke-opacity="0.75" stroke-width="0.9"/><path d="M138.0 749.0l8.4 -1.1 -8.2 3.3 -8.4 1.2z" fill="#2dd23c" stroke="#197421" stroke-opacity="0.75" stroke-width="0.9"/><path d="M154.7 745.0l8.4 -1.3 -8.3 2.8 -8.4 1.4z" fill="#2ac538" stroke="#197421" stroke-opacity="0.75" stroke-width="0.9"/><path d="M171.4 741.4l8.3 -1.4 -8.3 2.3 -8.3 1.4z" fill="#24aa31" stroke="#197421" stroke-opacity="0.75" stroke-width="0.9"/><path d="M188.1 738.2l8.4 -1.6 -8.4 1.7 -8.4 1.7z" fill="#1f8f29" stroke="#197421" stroke-opacity="0.75" stroke-width="0.9"/><path d="M204.8 735.3l8.4 -1.8 -8.3 1.2 -8.4 1.9z" fill="#89a100" stroke-opacity="0.17"/><path d="M221.6 732.8l8.4 -2 -8.4 .7 -8.4 2z" fill="#a7ba00" stroke-opacity="0.41"/><path d="M238.4 730.6l8.5 -2.1 -8.5 .2 -8.4 2.1z" fill="#c8d200"/><path d="M255.3 728.8l8.4 -2.2 -8.5 -.4 -8.3 2.3z" fill="#eae900"/><path d="M272.1 727.4l8.4 -2.4 -8.4 -1 -8.4 2.6z" fill="#f6ed00"/><path d="M289.0 726.4l8.4 -2.7 -8.5 -1.4 -8.4 2.7z" fill="#f6e900"/><path d="M305.8 725.7l8.4 -2.8 -8.4 -2 -8.4 2.8z" fill="#f7e600"/><path d="M322.7 725.4l8.4 -3 -8.4 -2.5 -8.5 3z" fill="#f7e500"/><path d="M339.5 725.5l8.4 -3.2 -8.4 -3.1 -8.4 3.2z" fill="#f7e500"/><path d="M356.3 725.9l8.4 -3.4 -8.4 -3.6 -8.4 3.4z" fill="#f7e600"/><path d="M373.1 726.7l8.4 -3.5 -8.3 -4.2 -8.5 3.5z" fill="#f6e900"/><path d="M389.9 727.9l8.4 -3.8 -8.3 -4.7 -8.5 3.8z" fill="#f6ed00"/><path d="M113.0 754.0l8.4 -.7 -8.1 3.9 -8.4 .8z" fill="#2dd23c" stroke="#197421" stroke-opacity="0.75" stroke-width="0.9"/><path d="M230.0 732.5l8.4 -1.9 -8.4 .2 -8.4 2z" fill="#c1c800" stroke-opacity="0.54"/><path d="M246.9 730.9l8.4 -2.1 -8.4 -.3 -8.5 2.1z" fill="#e3df00"/><path d="M280.6 728.8l8.4 -2.4 -8.5 -1.4 -8.4 2.4z" fill="#f7e800"/><path d="M314.3 728.2l8.4 -2.8 -8.5 -2.5 -8.4 2.8z" fill="#f7e500"/><path d="M364.7 730.1l8.4 -3.4 -8.4 -4.2 -8.4 3.4z" fill="#f6eb00"/><path d="M129.6 749.8l8.4 -.8 -8.2 3.4 -8.4 .9z" fill="#2dd23c" stroke="#197421" stroke-opacity="0.75" stroke-width="0.9"/><path d="M146.3 746.0l8.4 -1 -8.3 2.9 -8.4 1.1z" fill="#2dd13c" stroke="#197421" stroke-opacity="0.75" stroke-width="0.9"/><path d="M162.9 742.6l8.5 -1.2 -8.3 2.3 -8.4 1.3z" fill="#27b634" stroke="#197421" stroke-opacity="0.75" stroke-width="0.9"/><path d="M179.7 739.5l8.4 -1.3 -8.4 1.8 -8.3 1.4z" fill="#219b2c" stroke="#197421" stroke-opacity="0.75" stroke-width="0.9"/><path d="M196.4 736.8l8.4 -1.5 -8.3 1.3 -8.4 1.6z" fill="#839700" stroke-opacity="0.07"/><path d="M213.2 734.4l8.4 -1.6 -8.4 .7 -8.4 1.8z" fill="#a0b000" stroke-opacity="0.31"/><path d="M263.7 729.6l8.4 -2.2 -8.4 -.8 -8.4 2.2z" fill="#f6ec00"/><path d="M297.4 728.3l8.4 -2.6 -8.4 -2 -8.4 2.7z" fill="#f7e600"/><path d="M331.1 728.4l8.4 -2.9 -8.4 -3.1 -8.4 3z" fill="#f7e600"/><path d="M347.9 729.1l8.4 -3.2 -8.4 -3.6 -8.4 3.2z" fill="#f7e800"/><path d="M381.5 731.4l8.4 -3.5 -8.4 -4.7 -8.4 3.5z" fill="#f5f000"/><path d="M121.2 750.4l8.4 -.6 -8.2 3.5 -8.4 .7z" fill="#2dd23c" stroke="#197421" stroke-opacity="0.75" stroke-width="0.9"/><path d="M137.8 746.8l8.5 -.8 -8.3 3 -8.4 .8z" fill="#2dd23c" stroke="#197421" stroke-opacity="0.75" stroke-width="0.9"/><path d="M171.3 740.6l8.4 -1.1 -8.3 1.9 -8.5 1.2z" fill="#24a730" stroke="#197421" stroke-opacity="0.75" stroke-width="0.9"/><path d="M188.0 738.1l8.4 -1.3 -8.3 1.4 -8.4 1.3z" fill="#1e8c28" stroke="#197421" stroke-opacity="0.75" stroke-width="0.9"/><path d="M204.8 735.9l8.4 -1.5 -8.4 .9 -8.4 1.5z" fill="#9aa600" stroke-opacity="0.21"/><path d="M221.6 734.1l8.4 -1.6 -8.4 .3 -8.4 1.6z" fill="#babe00" stroke-opacity="0.44"/><path d="M238.5 732.7l8.4 -1.8 -8.5 -.3 -8.4 1.9z" fill="#d9d400"/><path d="M255.3 731.6l8.4 -2 -8.4 -.8 -8.4 2.1z" fill="#f3e700"/><path d="M272.2 730.9l8.4 -2.1 -8.5 -1.4 -8.4 2.2z" fill="#f7e700"/><path d="M289.0 730.6l8.4 -2.3 -8.4 -1.9 -8.4 2.4z" fill="#f7e500"/><path d="M305.9 730.7l8.4 -2.5 -8.5 -2.5 -8.4 2.6z" fill="#f7e500"/><path d="M322.7 731.2l8.4 -2.8 -8.4 -3 -8.4 2.8z" fill="#f7e600"/><path d="M339.5 732.0l8.4 -2.9 -8.4 -3.6 -8.4 2.9z" fill="#f6e900"/><path d="M373.0 734.7l8.5 -3.3 -8.4 -4.7 -8.4 3.4z" fill="#f2f000"/><path d="M154.5 743.5l8.4 -.9 -8.2 2.4 -8.4 1z" fill="#2ac338" stroke="#197421" stroke-opacity="0.75" stroke-width="0.9"/><path d="M356.3 733.2l8.4 -3.1 -8.4 -4.2 -8.4 3.2z" fill="#f6ed00"/><path d="M129.4 747.3l8.4 -.5 -8.2 3 -8.4 .6z" fill="#2dd23c" stroke="#197421" stroke-opacity="0.75" stroke-width="0.9"/><path d="M146.1 744.2l8.4 -.7 -8.2 2.5 -8.5 .8z" fill="#2ccf3b" stroke="#197421" stroke-opacity="0.75" stroke-width="0.9"/><path d="M162.8 741.5l8.5 -.9 -8.4 2 -8.4 .9z" fill="#27b433" stroke="#197421" stroke-opacity="0.75" stroke-width="0.9"/><path d="M179.6 739.1l8.4 -1 -8.3 1.4 -8.4 1.1z" fill="#21982c" stroke="#197421" stroke-opacity="0.75" stroke-width="0.9"/><path d="M196.4 737.1l8.4 -1.2 -8.4 .9 -8.4 1.3z" fill="#959b00" stroke-opacity="0.10"/><path d="M213.2 735.5l8.4 -1.4 -8.4 .3 -8.4 1.5z" fill="#b5b300" stroke-opacity="0.34"/><path d="M230.1 734.2l8.4 -1.5 -8.5 -.2 -8.4 1.6z" fill="#d0c800"/><path d="M246.9 733.4l8.4 -1.8 -8.4 -.7 -8.4 1.8z" fill="#eadc00"/><path d="M263.8 732.9l8.4 -2 -8.5 -1.3 -8.4 2z" fill="#f7e500"/><path d="M280.6 732.8l8.4 -2.2 -8.4 -1.8 -8.4 2.1z" fill="#f7e400"/><path d="M297.4 733.0l8.5 -2.3 -8.5 -2.4 -8.4 2.3z" fill="#f7e400"/><path d="M314.3 733.7l8.4 -2.5 -8.4 -3 -8.4 2.5z" fill="#f7e600"/><path d="M331.1 734.7l8.4 -2.7 -8.4 -3.6 -8.4 2.8z" fill="#f6e900"/><path d="M347.9 736.1l8.4 -2.9 -8.4 -4.1 -8.4 2.9z" fill="#f6ed00"/><path d="M364.6 737.8l8.4 -3.1 -8.3 -4.6 -8.4 3.1z" fill="#f0f000"/><path d="M154.4 742.1l8.4 -.6 -8.3 2 -8.4 .7z" fill="#29c137" stroke="#197421" stroke-opacity="0.75" stroke-width="0.9"/><path d="M188.0 738.1l8.4 -1 -8.4 1 -8.4 1z" fill="#1d8927" stroke="#197421" stroke-opacity="0.75" stroke-width="0.9"/><path d="M322.7 737.1l8.4 -2.4 -8.4 -3.5 -8.4 2.5z" fill="#f7e800"/><path d="M356.2 740.7l8.4 -2.9 -8.3 -4.6 -8.4 2.9z" fill="#eff000"/><path d="M137.7 744.6l8.4 -.4 -8.3 2.6 -8.4 .5z" fill="#2dd23c" stroke="#197421" stroke-opacity="0.75" stroke-width="0.9"/><path d="M171.2 739.9l8.4 -.8 -8.3 1.5 -8.5 .9z" fill="#23a52f" stroke="#197421" stroke-opacity="0.75" stroke-width="0.9"/><path d="M204.8 736.6l8.4 -1.1 -8.4 .4 -8.4 1.2z" fill="#aca600" stroke-opacity="0.24"/><path d="M221.6 735.6l8.5 -1.4 -8.5 -.1 -8.4 1.4z" fill="#c6ba00" stroke-opacity="0.48"/><path d="M238.5 734.9l8.4 -1.5 -8.4 -.7 -8.4 1.5z" fill="#e0cf00"/><path d="M255.3 734.6l8.5 -1.7 -8.5 -1.3 -8.4 1.8z" fill="#f8e300"/><path d="M272.2 734.6l8.4 -1.8 -8.4 -1.9 -8.4 2z" fill="#f8e200"/><path d="M289.0 735.1l8.4 -2.1 -8.4 -2.4 -8.4 2.2z" fill="#f8e300"/><path d="M305.9 735.9l8.4 -2.2 -8.4 -3 -8.5 2.3z" fill="#f7e500"/><path d="M339.5 738.7l8.4 -2.6 -8.4 -4.1 -8.4 2.7z" fill="#f6ed00"/><path d="M145.9 742.4l8.5 -.3 -8.3 2.1 -8.4 .4z" fill="#2cce3b" stroke="#197421" stroke-opacity="0.75" stroke-width="0.9"/><path d="M162.7 740.4l8.5 -.5 -8.4 1.6 -8.4 .6z" fill="#26b233" stroke="#197421" stroke-opacity="0.75" stroke-width="0.9"/><path d="M179.5 738.8l8.5 -.7 -8.4 1 -8.4 .8z" fill="#20952b" stroke="#197421" stroke-opacity="0.75" stroke-width="0.9"/><path d="M196.4 737.5l8.4 -.9 -8.4 .5 -8.4 1z" fill="#a29800" stroke-opacity="0.13"/><path d="M213.2 736.6l8.4 -1 -8.4 -.1 -8.4 1.1z" fill="#bbad00" stroke-opacity="0.38"/><path d="M230.1 736.1l8.4 -1.2 -8.4 -.7 -8.5 1.4z" fill="#d6c200"/><path d="M280.6 736.9l8.4 -1.8 -8.4 -2.3 -8.4 1.8z" fill="#f8e000"/><path d="M297.5 737.9l8.4 -2 -8.5 -2.9 -8.4 2.1z" fill="#f8e300"/><path d="M314.3 739.4l8.4 -2.3 -8.4 -3.4 -8.4 2.2z" fill="#f7e700"/><path d="M331.1 741.1l8.4 -2.4 -8.4 -4 -8.4 2.4z" fill="#f6ec00"/><path d="M347.9 743.3l8.3 -2.6 -8.3 -4.6 -8.4 2.6z" fill="#f0f000"/><path d="M246.9 736.0l8.4 -1.4 -8.4 -1.2 -8.4 1.5z" fill="#f0d600"/><path d="M263.8 736.3l8.4 -1.7 -8.4 -1.7 -8.5 1.7z" fill="#f8dd00"/><path d="M154.3 740.7l8.4 -.3 -8.3 1.7 -8.5 .3z" fill="#29bf36" stroke="#197421" stroke-opacity="0.75" stroke-width="0.9"/><path d="M204.8 737.4l8.4 -.8 -8.4 0 -8.4 .9z" fill="#b19d00" stroke-opacity="0.27"/><path d="M272.2 738.5l8.4 -1.6 -8.4 -2.3 -8.4 1.7z" fill="#f7d900"/><path d="M322.7 743.3l8.4 -2.2 -8.4 -4 -8.4 2.3z" fill="#f6eb00"/><path d="M171.1 739.2l8.4 -.4 -8.3 1.1 -8.5 .5z" fill="#23a22e" stroke="#197421" stroke-opacity="0.75" stroke-width="0.9"/><path d="M187.9 738.1l8.5 -.6 -8.4 .6 -8.5 .7z" fill="#978b00" stroke-opacity="0.02"/><path d="M221.7 737.1l8.4 -1 -8.5 -.5 -8.4 1z" fill="#cab000" stroke-opacity="0.52"/><path d="M238.5 737.2l8.4 -1.2 -8.4 -1.1 -8.4 1.2z" fill="#e4c400"/><path d="M255.4 737.7l8.4 -1.4 -8.5 -1.7 -8.4 1.4z" fill="#f7d500"/><path d="M289.1 739.7l8.4 -1.8 -8.5 -2.8 -8.4 1.8z" fill="#f8e000"/><path d="M305.9 741.3l8.4 -1.9 -8.4 -3.5 -8.4 2z" fill="#f7e500"/><path d="M339.5 745.7l8.4 -2.4 -8.4 -4.6 -8.4 2.4z" fill="#f2f000"/><path d="M162.6 739.4l8.5 -.2 -8.4 1.2 -8.4 .3z" fill="#26af32" stroke="#197421" stroke-opacity="0.75" stroke-width="0.9"/><path d="M179.5 738.5l8.4 -.4 -8.4 .7 -8.4 .4z" fill="#1f922a" stroke="#197421" stroke-opacity="0.75" stroke-width="0.9"/><path d="M196.3 738.0l8.5 -.6 -8.4 .1 -8.5 .6z" fill="#a58a00" stroke-opacity="0.16"/><path d="M213.2 737.9l8.5 -.8 -8.5 -.5 -8.4 .8z" fill="#be9c00" stroke-opacity="0.41"/><path d="M230.1 738.1l8.4 -.9 -8.4 -1.1 -8.4 1z" fill="#d9b100"/><path d="M247.0 738.8l8.4 -1.1 -8.5 -1.7 -8.4 1.2z" fill="#f3c800"/><path d="M263.8 739.8l8.4 -1.3 -8.4 -2.2 -8.4 1.4z" fill="#f7d000"/><path d="M280.7 741.3l8.4 -1.6 -8.5 -2.8 -8.4 1.6z" fill="#f7d800"/><path d="M297.5 743.1l8.4 -1.8 -8.4 -3.4 -8.4 1.8z" fill="#f8e200"/><path d="M314.3 745.3l8.4 -2 -8.4 -3.9 -8.4 1.9z" fill="#f6e900"/><path d="M331.1 747.8l8.4 -2.1 -8.4 -4.6 -8.4 2.2z" fill="#f5f000"/><path d="M171.0 738.6l8.5 -.1 -8.4 .7 -8.5 .2z" fill="#22a02e" stroke="#197421" stroke-opacity="0.75" stroke-width="0.9"/><path d="M187.9 738.3l8.4 -.3 -8.4 .1 -8.4 .4z" fill="#997800" stroke-opacity="0.05"/><path d="M204.8 738.4l8.4 -.5 -8.4 -.5 -8.5 .6z" fill="#b38900" stroke-opacity="0.31"/><path d="M221.7 738.8l8.4 -.7 -8.4 -1 -8.5 .8z" fill="#cd9d00"/><path d="M238.5 739.7l8.5 -.9 -8.5 -1.6 -8.4 .9z" fill="#e7b400"/><path d="M255.4 740.9l8.4 -1.1 -8.4 -2.1 -8.4 1.1z" fill="#f6c500"/><path d="M272.3 742.5l8.4 -1.2 -8.5 -2.8 -8.4 1.3z" fill="#f6cf00"/><path d="M289.1 744.5l8.4 -1.4 -8.4 -3.4 -8.4 1.6z" fill="#f8dc00"/><path d="M305.9 746.9l8.4 -1.6 -8.4 -4 -8.4 1.8z" fill="#f7e500"/><path d="M322.7 749.7l8.4 -1.9 -8.4 -4.5 -8.4 2z" fill="#f5ee00"/><path d="M179.4 738.3l8.5 0 -8.4 .2 -8.5 .1z" fill="#1f8f29" stroke="#197421" stroke-opacity="0.75" stroke-width="0.9"/><path d="M213.2 739.2l8.5 -.4 -8.5 -.9 -8.4 .5z" fill="#bf8600" stroke-opacity="0.45"/><path d="M230.1 740.3l8.4 -.6 -8.4 -1.6 -8.4 .7z" fill="#da9c00"/><path d="M247.0 741.7l8.4 -.8 -8.4 -2.1 -8.5 .9z" fill="#f4b800"/><path d="M263.9 743.5l8.4 -1 -8.5 -2.7 -8.4 1.1z" fill="#f5c400"/><path d="M280.7 745.8l8.4 -1.3 -8.4 -3.2 -8.4 1.2z" fill="#f7d200"/><path d="M297.5 748.4l8.4 -1.5 -8.4 -3.8 -8.4 1.4z" fill="#f8e200"/><path d="M314.3 751.4l8.4 -1.7 -8.4 -4.4 -8.4 1.6z" fill="#f6ea00"/><path d="M196.3 738.6l8.5 -.2 -8.5 -.4 -8.4 .3z" fill="#a57300" stroke-opacity="0.20"/><path d="M187.9 738.6l8.4 0 -8.4 -.3 -8.5 0z" fill="#975c00" stroke-opacity="0.08"/><path d="M221.7 740.6l8.4 -.3 -8.4 -1.5 -8.5 .4z" fill="#cd8400"/><path d="M238.6 742.3l8.4 -.6 -8.5 -2 -8.4 .6z" fill="#e8a000"/><path d="M255.5 744.3l8.4 -.8 -8.5 -2.6 -8.4 .8z" fill="#f4b500"/><path d="M272.3 746.7l8.4 -.9 -8.4 -3.3 -8.4 1z" fill="#f6c600"/><path d="M289.2 749.5l8.3 -1.1 -8.4 -3.9 -8.4 1.3z" fill="#f7d800"/><path d="M204.8 739.4l8.4 -.2 -8.4 -.8 -8.5 .2z" fill="#b16e00" stroke-opacity="0.34"/><path d="M306.0 752.8l8.3 -1.4 -8.4 -4.5 -8.4 1.5z" fill="#f7e600"/><path d="M196.3 739.3l8.5 .1 -8.5 -.8 -8.4 0z" fill="#a35a00" stroke-opacity="0.23"/><path d="M213.2 740.7l8.5 -.1 -8.5 -1.4 -8.4 .2z" fill="#be6e00" stroke-opacity="0.49"/><path d="M230.1 742.6l8.5 -.3 -8.5 -2 -8.4 .3z" fill="#da8600"/><path d="M247.0 744.8l8.5 -.5 -8.5 -2.6 -8.4 .6z" fill="#f1a200"/><path d="M263.9 747.4l8.4 -.7 -8.4 -3.2 -8.4 .8z" fill="#f4b700"/><path d="M280.8 750.5l8.4 -1 -8.5 -3.7 -8.4 .9z" fill="#f6cc00"/><path d="M297.6 753.9l8.4 -1.1 -8.5 -4.4 -8.3 1.1z" fill="#f8e200"/><path d="M238.6 745.0l8.4 -.2 -8.4 -2.5 -8.5 .3z" fill="#e98b00"/><path d="M272.4 751.1l8.4 -.6 -8.5 -3.8 -8.4 .7z" fill="#f5be00"/><path d="M204.8 740.5l8.4 .2 -8.4 -1.3 -8.5 -.1z" fill="#b05900" stroke-opacity="0.38"/><path d="M221.7 742.6l8.4 0 -8.4 -2 -8.5 .1z" fill="#cc6f00"/><path d="M255.5 747.9l8.4 -.5 -8.4 -3.1 -8.5 .5z" fill="#f1a400"/><path d="M289.2 754.8l8.4 -.9 -8.4 -4.4 -8.4 1z" fill="#f7d600"/><path d="M213.2 742.3l8.5 .3 -8.5 -1.9 -8.4 -.2z" fill="#bd5a00" stroke-opacity="0.53"/><path d="M230.2 745.0l8.4 0 -8.5 -2.4 -8.4 0z" fill="#da7400"/><path d="M247.1 748.0l8.4 -.1 -8.5 -3.1 -8.4 .2z" fill="#ee8f00"/><path d="M264.0 751.5l8.4 -.4 -8.5 -3.7 -8.4 .5z" fill="#f2aa00"/><path d="M280.8 755.4l8.4 -.6 -8.4 -4.3 -8.4 .6z" fill="#f6c800"/><path d="M221.7 744.6l8.5 .4 -8.5 -2.4 -8.5 -.3z" fill="#cc6200"/><path d="M238.6 747.9l8.5 .1 -8.5 -3 -8.4 0z" fill="#e97d00"/><path d="M255.5 751.6l8.5 -.1 -8.5 -3.6 -8.4 .1z" fill="#ee9400"/><path d="M272.4 755.7l8.4 -.3 -8.4 -4.3 -8.4 .4z" fill="#f4b600"/><path d="M247.1 751.4l8.4 .2 -8.4 -3.6 -8.5 -.1z" fill="#ea8000"/><path d="M264.0 755.7l8.4 0 -8.4 -4.2 -8.5 .1z" fill="#f09f00"/><path d="M230.2 747.5l8.4 .4 -8.4 -2.9 -8.5 -.4z" fill="#dc6900"/><path d="M238.7 751.0l8.4 .4 -8.5 -3.5 -8.4 -.4z" fill="#e66e00"/><path d="M255.6 755.5l8.4 .2 -8.5 -4.1 -8.4 -.2z" fill="#ec8800"/><path d="M247.1 755.0l8.5 .5 -8.5 -4.1 -8.4 -.4z" fill="#e77300"/></g>
<circle cx="83.88" cy="839.96" r="2" fill="#111"/><circle cx="82.78" cy="815.41" r="2" fill="#111"/><circle cx="81.69" cy="790.86" r="2" fill="#111"/><circle cx="80.59" cy="766.31" r="2" fill="#111"/><circle cx="79.49" cy="741.76" r="2" fill="#111"/><circle cx="78.39" cy="717.2" r="2" fill="#111"/><circle cx="77.3" cy="692.65" r="2" fill="#111"/><circle cx="76.2" cy="668.1" r="2" fill="#111"/><circle cx="246.7" cy="973.1" r="2" fill="#111"/><circle cx="246.7" cy="973.1" r="2" fill="#111"/><circle cx="214.62" cy="957.3" r="2" fill="#111"/><circle cx="278.8" cy="957.08" r="2" fill="#111"/><circle cx="182.54" cy="941.5" r="2" fill="#111"/><circle cx="310.9" cy="941.06" r="2" fill="#111"/><circle cx="150.46" cy="925.7" r="2" fill="#111"/><circle cx="343" cy="925.04" r="2" fill="#111"/><circle cx="118.38" cy="909.9" r="2" fill="#111"/><circle cx="375.1" cy="909.02" r="2" fill="#111"/><circle cx="86.3" cy="894.1" r="2" fill="#111"/><circle cx="407.2" cy="893" r="2" fill="#111"/><g font-family="Liberation Sans, sans-serif" font-size="17.27" fill="#3a3a3a" stroke="#3a3a3a" stroke-width="0.3"><text x="73.3" y="835.9" text-anchor="end">1</text><text x="70.6" y="813.4" text-anchor="end">1.2</text><text x="70.8" y="789.6" text-anchor="end">1.4</text><text x="71.1" y="760.8" text-anchor="end">1.6</text><text x="71.0" y="737.6" text-anchor="end">1.8</text><text x="68.7" y="715.0" text-anchor="end">2</text><text x="70.4" y="692.1" text-anchor="end">2.2</text><text x="71.0" y="669.2" text-anchor="end">2.4</text><text x="228.8" y="991.3" text-anchor="middle">15</text><text x="196.7" y="975.5" text-anchor="middle">28</text><text x="164.6" y="959.7" text-anchor="middle">41</text><text x="132.5" y="943.9" text-anchor="middle">54</text><text x="100.5" y="928.1" text-anchor="middle">67</text><text x="68.4" y="912.3" text-anchor="middle">80</text><text x="264.2" y="990.8" text-anchor="middle">20</text><text x="296.3" y="974.8" text-anchor="middle">26</text><text x="328.4" y="958.8" text-anchor="middle">32</text><text x="360.5" y="942.8" text-anchor="middle">38</text><text x="392.6" y="926.7" text-anchor="middle">44</text><text x="424.7" y="910.7" text-anchor="middle">50</text><text x="66.4" y="972.1" textLength="76.5" lengthAdjust="spacingAndGlyphs">Ethanol (%)</text><text x="332.1" y="972.1" textLength="113.4" lengthAdjust="spacingAndGlyphs">Temperature (°C)</text><text transform="translate(31.8 941.2) rotate(-90)" textLength="312.1" lengthAdjust="spacingAndGlyphs" style="font-size:16px">Total major phenolic acids (mg/g dry weight)</text></g></g>
<g id="P5"><path d="M515.74 838.51L677.47 782.23 M514.66 814.09L677.5 760.16 M513.59 789.68L677.54 738.08 M512.51 765.26L677.57 716 M511.43 740.85L677.6 693.93 M510.35 716.43L677.63 671.85 M509.28 692.02L677.67 649.78 M508.2 667.6L677.7 627.7 M542.1 659.62L548.09 827.25 M576 651.64L580.43 816 M609.9 643.66L612.78 804.74 M643.8 635.68L645.13 793.49 M677.47 782.23L839.63 839.12 M677.5 760.16L840.74 814.54 M677.54 738.08L841.85 789.95 M677.57 716L842.96 765.36 M677.6 693.93L844.07 740.77 M677.63 671.85L845.18 716.18 M677.67 649.78L846.29 691.59 M677.7 627.7L847.4 667 M813.46 659.14L807.2 827.75 M779.52 651.28L774.77 816.37 M745.58 643.42L742.34 804.99 M711.64 635.56L709.9 793.61 M508.2 667.6L518.1 892 M677.7 627.7L677.4 830.6 M847.4 667L837.2 893" stroke="#686868" stroke-width="1.3" fill="none"/>
<polygon points="677.4,971.3 837.2,893 677.4,830.6 518.1,892" fill="#636363" stroke="#2a2a2a" stroke-width="1.4"/>
<g fill="none" stroke-width="2.3" stroke-linejoin="round" stroke-linecap="butt"><path d="M575.6 920.6L572.2 918.1 571.2 917.2 570.1 916.4 569.1 915.6 568.0 914.8 567.0 914.0 565.9 913.2 564.9 912.4 563.8 911.6 562.7 910.8 561.7 909.9 560.6 909.1 559.6 908.3 558.5 907.5 557.5 906.7 556.4 905.9 555.4 905.1 554.3 904.3 553.3 903.5 552.2 902.7 551.1 901.9 550.1 901.1 549.0 900.3 548.0 899.5 546.9 898.7 545.9 897.9 544.8 897.1 543.8 896.3 542.7 895.5 541.6 894.7 540.6 893.9 539.5 893.1 538.5 892.3 537.4 891.5 536.4 890.7 535.3 889.9 534.3 889.1 533.2 888.3 531.3 886.9" stroke="#d6b030"/><path d="M632.1 948.8L630.0 947.0 628.1 945.1 626.2 943.2 624.2 941.3 622.3 939.5 620.3 937.6 618.3 935.8 616.3 934.0 614.3 932.2 612.3 930.3 610.3 928.6 608.2 926.8 606.1 925.0 604.1 923.2 602.0 921.5 599.9 919.7 597.7 918.0 595.6 916.2 593.5 914.5 591.3 912.8 589.1 911.1 586.9 909.4 584.7 907.7 582.5 906.0 580.2 904.4 578.0 902.7 575.7 901.0 573.4 899.4 571.1 897.8 568.8 896.1 566.5 894.5 564.2 892.9 561.8 891.3 559.4 889.7 557.1 888.1 554.7 886.5 552.3 884.9 549.8 883.4 546.4 881.1" stroke="#d6b830"/><path d="M680.9 969.6L678.2 966.8 675.5 964.1 672.9 961.5 670.2 958.8 667.5 956.2 664.8 953.5 662.1 950.9 659.3 948.3 656.6 945.8 653.8 943.2 651.0 940.7 648.2 938.1 645.4 935.6 642.5 933.1 639.6 930.6 636.8 928.1 633.9 925.7 631.0 923.2 628.0 920.8 625.1 918.4 622.1 916.0 619.1 913.6 616.1 911.2 613.1 908.8 610.1 906.5 607.1 904.1 604.0 901.8 600.9 899.5 597.8 897.2 594.7 894.9 591.6 892.6 588.4 890.3 585.2 888.1 582.1 885.8 578.9 883.6 575.7 881.3 572.4 879.1 569.2 876.9 564.8 874.0" stroke="#cfd030"/><path d="M697.5 961.4L694.1 958.8 691.0 956.3 687.9 953.9 684.9 951.5 681.9 949.0 679.0 946.6 676.0 944.1 673.1 941.6 670.2 939.2 667.4 936.7 664.6 934.2 661.8 931.7 659.0 929.2 656.3 926.7 653.6 924.2 650.9 921.6 648.3 919.1 645.6 916.6 643.0 914.0 640.5 911.5 638.0 908.9 635.5 906.4 633.0 903.8 630.5 901.3 628.1 898.7 625.7 896.1 623.4 893.6 621.0 891.0 618.7 888.4 616.5 885.8 614.2 883.3 612.0 880.7 609.8 878.1 607.7 875.5 605.5 872.9 603.4 870.3 601.4 867.7 599.3 865.1 596.7 861.7" stroke="#cfd030"/><path d="M717.1 951.8L716.1 949.7 714.7 947.8 712.5 945.4 709.9 942.5 706.9 939.2 703.6 935.7 700.3 932.0 697.0 928.2 693.9 924.4 690.9 920.6 688.3 916.9 686.1 913.3 684.4 909.8 683.3 906.6 682.6 903.7 682.7 901.0 683.4 898.6 684.7 896.5 686.8 894.8 689.5 893.4 692.9 892.3 697.0 891.6 701.7 891.2 707.1 891.1 713.0 891.3 719.3 891.8 726.1 892.6 733.2 893.5 740.6 894.7 748.2 896.1 755.7 897.6 763.3 899.2 770.6 900.9 777.6 902.5 784.2 904.1 790.1 905.5 795.2 906.8 799.3 907.9 804.3 909.1" stroke="#cad42e"/><path d="M822.6 900.2L816.3 898.5 811.5 897.2 806.7 895.9 801.9 894.6 797.2 893.3 792.4 892.1 787.6 890.8 782.7 889.5 777.9 888.2 773.1 887.0 768.3 885.7 763.4 884.4 758.5 883.1 753.7 881.8 748.8 880.6 743.9 879.3 739.0 878.0 734.1 876.7 729.2 875.5 724.3 874.2 719.4 872.9 714.4 871.6 709.5 870.3 704.5 869.0 699.6 867.8 694.6 866.5 689.6 865.2 684.6 863.9 679.6 862.6 674.6 861.3 669.6 860.0 664.6 858.7 659.5 857.4 654.5 856.1 649.4 854.8 644.4 853.5 639.3 852.2 634.2 850.9 628.5 849.4" stroke="#cad42e"/><path d="M836.8 893.2L829.5 891.4 824.7 890.2 819.8 889.0 815.0 887.8 810.2 886.6 805.4 885.4 800.7 884.1 795.9 882.9 791.2 881.6 786.5 880.3 781.8 879.0 777.2 877.7 772.6 876.3 767.9 875.0 763.3 873.6 758.8 872.3 754.2 870.9 749.7 869.5 745.1 868.1 740.6 866.7 736.2 865.3 731.7 863.9 727.3 862.4 722.8 861.0 718.4 859.5 714.0 858.0 709.7 856.5 705.4 855.0 701.0 853.5 696.7 852.0 692.4 850.5 688.2 849.0 683.9 847.4 679.7 845.9 675.5 844.3 671.3 842.8 667.1 841.2 663.0 839.6 658.5 837.9" stroke="#cad42e"/><path d="M732.6 852.1L724.1 849.3 722.8 848.9 721.5 848.4 720.2 848.0 718.9 847.6 717.6 847.1 716.3 846.7 715.0 846.3 713.7 845.8 712.4 845.4 711.1 845.0 709.7 844.5 708.5 844.1 707.1 843.6 705.8 843.2 704.6 842.8 703.2 842.3 701.9 841.9 700.6 841.5 699.3 841.0 698.0 840.6 696.7 840.1 695.4 839.7 694.1 839.3 692.8 838.8 691.5 838.4 690.2 837.9 688.9 837.5 687.6 837.1 686.3 836.6 685.0 836.2 683.7 835.7 682.4 835.3 681.1 834.9 679.8 834.4 678.5 834.0 677.2 833.5 675.9 833.1 673.2 832.2" stroke="#cad42e"/></g>
<g stroke="#000" stroke-width="0.85" stroke-opacity="0.55" stroke-linejoin="round"><path d="M677.6 675.9l8.4 -3.3 -8.4 -2.6 -8.3 3.2z" fill="#f7e600"/><path d="M669.3 679.1l8.3 -3.2 -8.3 -2.7 -8.4 3.1z" fill="#f6ea00"/><path d="M686.0 678.5l8.4 -3.3 -8.4 -2.6 -8.4 3.3z" fill="#f7e800"/><path d="M660.9 682.1l8.4 -3 -8.4 -2.8 -8.4 3z" fill="#f6ed00"/><path d="M677.7 681.7l8.3 -3.2 -8.4 -2.6 -8.3 3.2z" fill="#f6eb00"/><path d="M694.4 681.2l8.4 -3.4 -8.4 -2.6 -8.4 3.3z" fill="#f6e900"/><path d="M652.6 685.0l8.3 -2.9 -8.4 -2.8 -8.3 2.8z" fill="#f5ef00"/><path d="M669.3 684.8l8.4 -3.1 -8.4 -2.6 -8.4 3z" fill="#f5ee00"/><path d="M686.0 684.4l8.4 -3.2 -8.4 -2.7 -8.3 3.2z" fill="#f6ec00"/><path d="M702.8 683.7l8.3 -3.4 -8.3 -2.5 -8.4 3.4z" fill="#f6ea00"/><path d="M644.2 687.7l8.4 -2.7 -8.4 -2.9 -8.4 2.7z" fill="#f4f000"/><path d="M660.9 687.7l8.4 -2.9 -8.4 -2.7 -8.3 2.9z" fill="#f4f000"/><path d="M677.7 687.5l8.3 -3.1 -8.3 -2.7 -8.4 3.1z" fill="#f5ef00"/><path d="M694.4 687.0l8.4 -3.3 -8.4 -2.5 -8.4 3.2z" fill="#f5ee00"/><path d="M711.1 686.3l8.4 -3.5 -8.4 -2.5 -8.3 3.4z" fill="#f6eb00"/><path d="M635.8 690.3l8.4 -2.6 -8.4 -2.9 -8.3 2.6z" fill="#f1f000"/><path d="M652.6 690.5l8.3 -2.8 -8.3 -2.7 -8.4 2.7z" fill="#f1f000"/><path d="M669.3 690.5l8.4 -3 -8.4 -2.7 -8.4 2.9z" fill="#f2f000"/><path d="M686.0 690.2l8.4 -3.2 -8.4 -2.6 -8.3 3.1z" fill="#f4f000"/><path d="M702.8 689.6l8.3 -3.3 -8.3 -2.6 -8.4 3.3z" fill="#f5ef00"/><path d="M719.5 688.8l8.4 -3.5 -8.4 -2.5 -8.4 3.5z" fill="#f6ec00"/><path d="M627.5 692.8l8.3 -2.5 -8.3 -2.9 -8.4 2.4z" fill="#f0f000"/><path d="M644.2 693.2l8.4 -2.7 -8.4 -2.8 -8.4 2.6z" fill="#eef100"/><path d="M660.9 693.3l8.4 -2.8 -8.4 -2.8 -8.3 2.8z" fill="#eef100"/><path d="M677.7 693.2l8.3 -3 -8.3 -2.7 -8.4 3z" fill="#eff000"/><path d="M694.4 692.8l8.4 -3.2 -8.4 -2.6 -8.4 3.2z" fill="#f2f000"/><path d="M711.1 692.2l8.4 -3.4 -8.4 -2.5 -8.3 3.3z" fill="#f5f000"/><path d="M727.9 691.3l8.4 -3.6 -8.4 -2.4 -8.4 3.5z" fill="#f6ed00"/><path d="M619.1 695.1l8.4 -2.3 -8.4 -3 -8.3 2.3z" fill="#eff000"/><path d="M635.9 695.7l8.3 -2.5 -8.4 -2.9 -8.3 2.5z" fill="#edf100"/><path d="M652.6 696.0l8.3 -2.7 -8.3 -2.8 -8.4 2.7z" fill="#ecf100"/><path d="M669.3 696.1l8.4 -2.9 -8.4 -2.7 -8.4 2.8z" fill="#ecf100"/><path d="M686.0 695.9l8.4 -3.1 -8.4 -2.6 -8.3 3z" fill="#edf100"/><path d="M702.8 695.4l8.3 -3.2 -8.3 -2.6 -8.4 3.2z" fill="#f0f000"/><path d="M719.5 694.7l8.4 -3.4 -8.4 -2.5 -8.4 3.4z" fill="#f4f000"/><path d="M736.2 693.7l8.4 -3.6 -8.3 -2.4 -8.4 3.6z" fill="#f5ee00"/><path d="M610.8 697.3l8.3 -2.2 -8.3 -3 -8.4 2.2z" fill="#eff000"/><path d="M627.5 698.1l8.4 -2.4 -8.4 -2.9 -8.4 2.3z" fill="#ecf100"/><path d="M644.2 698.6l8.4 -2.6 -8.4 -2.8 -8.3 2.5z" fill="#eaf100"/><path d="M660.9 698.9l8.4 -2.8 -8.4 -2.8 -8.3 2.7z" fill="#eaf100"/><path d="M677.7 698.8l8.3 -2.9 -8.3 -2.7 -8.4 2.9z" fill="#eaf100"/><path d="M694.4 698.6l8.4 -3.2 -8.4 -2.6 -8.4 3.1z" fill="#ecf100"/><path d="M711.1 698.0l8.4 -3.3 -8.4 -2.5 -8.3 3.2z" fill="#eef100"/><path d="M727.9 697.2l8.3 -3.5 -8.3 -2.4 -8.4 3.4z" fill="#f2f000"/><path d="M744.6 696.1l8.4 -3.6 -8.4 -2.4 -8.4 3.6z" fill="#f5ee00"/><path d="M602.4 699.3l8.4 -2 -8.4 -3 -8.4 2z" fill="#f0f000"/><path d="M619.1 700.3l8.4 -2.2 -8.4 -3 -8.3 2.2z" fill="#ecf100"/><path d="M635.9 701.0l8.3 -2.4 -8.3 -2.9 -8.4 2.4z" fill="#e9f100"/><path d="M652.6 701.5l8.3 -2.6 -8.3 -2.9 -8.4 2.6z" fill="#e8f100"/><path d="M669.3 701.6l8.4 -2.8 -8.4 -2.7 -8.4 2.8z" fill="#e7f100"/><path d="M686.0 701.6l8.4 -3 -8.4 -2.7 -8.3 2.9z" fill="#e8f100"/><path d="M702.7 701.2l8.4 -3.2 -8.3 -2.6 -8.4 3.2z" fill="#eaf100"/><path d="M719.5 700.6l8.4 -3.4 -8.4 -2.5 -8.4 3.3z" fill="#edf100"/><path d="M736.2 699.7l8.4 -3.6 -8.4 -2.4 -8.3 3.5z" fill="#f1f000"/><path d="M753.0 698.5l8.4 -3.7 -8.4 -2.3 -8.4 3.6z" fill="#f5ef00"/><path d="M594.0 701.2l8.4 -1.9 -8.4 -3 -8.3 1.8z" fill="#f2f000"/><path d="M610.8 702.4l8.3 -2.1 -8.3 -3 -8.4 2z" fill="#edf100"/><path d="M627.5 703.3l8.4 -2.3 -8.4 -2.9 -8.4 2.2z" fill="#e9f100"/><path d="M644.2 703.9l8.4 -2.4 -8.4 -2.9 -8.3 2.4z" fill="#e7f100"/><path d="M660.9 704.3l8.4 -2.7 -8.4 -2.7 -8.3 2.6z" fill="#e6f100"/><path d="M677.7 704.4l8.3 -2.8 -8.3 -2.8 -8.4 2.8z" fill="#e5f100"/><path d="M694.4 704.2l8.3 -3 -8.3 -2.6 -8.4 3z" fill="#e6f100"/><path d="M711.1 703.8l8.4 -3.2 -8.4 -2.6 -8.4 3.2z" fill="#e9f100"/><path d="M727.8 703.1l8.4 -3.4 -8.3 -2.5 -8.4 3.4z" fill="#ecf100"/><path d="M744.6 702.1l8.4 -3.6 -8.4 -2.4 -8.4 3.6z" fill="#f1f000"/><path d="M761.4 700.9l8.4 -3.8 -8.4 -2.3 -8.4 3.7z" fill="#f5ef00"/><path d="M585.7 703.0l8.3 -1.8 -8.3 -3.1 -8.4 1.7z" fill="#f4f000"/><path d="M602.4 704.3l8.4 -1.9 -8.4 -3.1 -8.4 1.9z" fill="#eff000"/><path d="M619.1 705.4l8.4 -2.1 -8.4 -3 -8.3 2.1z" fill="#eaf100"/><path d="M635.9 706.2l8.3 -2.3 -8.3 -2.9 -8.4 2.3z" fill="#e7f100"/><path d="M652.6 706.8l8.3 -2.5 -8.3 -2.8 -8.4 2.4z" fill="#e5f100"/><path d="M669.3 707.1l8.4 -2.7 -8.4 -2.8 -8.4 2.7z" fill="#e4f100"/><path d="M686.0 707.1l8.4 -2.9 -8.4 -2.6 -8.3 2.8z" fill="#e4f100"/><path d="M702.7 706.9l8.4 -3.1 -8.4 -2.6 -8.3 3z" fill="#e5f100"/><path d="M719.5 706.4l8.3 -3.3 -8.3 -2.5 -8.4 3.2z" fill="#e7f100"/><path d="M736.2 705.6l8.4 -3.5 -8.4 -2.4 -8.4 3.4z" fill="#ebf100"/><path d="M753.0 704.5l8.4 -3.6 -8.4 -2.4 -8.4 3.6z" fill="#f0f000"/><path d="M769.7 703.2l8.4 -3.8 -8.3 -2.3 -8.4 3.8z" fill="#f5ef00"/><path d="M577.3 704.5l8.4 -1.5 -8.4 -3.2 -8.4 1.5z" fill="#f5ee00"/><path d="M594.0 706.1l8.4 -1.8 -8.4 -3.1 -8.3 1.8z" fill="#f1f000"/><path d="M610.8 707.4l8.3 -2 -8.3 -3 -8.4 1.9z" fill="#ecf100"/><path d="M627.5 708.4l8.4 -2.2 -8.4 -2.9 -8.4 2.1z" fill="#e8f100"/><path d="M644.2 709.2l8.4 -2.4 -8.4 -2.9 -8.3 2.3z" fill="#e5f100"/><path d="M660.9 709.6l8.4 -2.5 -8.4 -2.8 -8.3 2.5z" fill="#e3f100"/><path d="M677.7 709.9l8.3 -2.8 -8.3 -2.7 -8.4 2.7z" fill="#e2f200"/><path d="M694.4 709.8l8.3 -2.9 -8.3 -2.7 -8.4 2.9z" fill="#e2f200"/><path d="M711.1 709.5l8.4 -3.1 -8.4 -2.6 -8.4 3.1z" fill="#e4f100"/><path d="M727.8 708.9l8.4 -3.3 -8.4 -2.5 -8.3 3.3z" fill="#e7f100"/><path d="M744.6 708.0l8.4 -3.5 -8.4 -2.4 -8.4 3.5z" fill="#eaf100"/><path d="M761.3 706.9l8.4 -3.7 -8.3 -2.3 -8.4 3.6z" fill="#eff000"/><path d="M778.1 705.5l8.4 -3.9 -8.4 -2.2 -8.4 3.8z" fill="#f5f000"/><path d="M568.9 706.0l8.4 -1.5 -8.4 -3.2 -8.4 1.4z" fill="#f6ec00"/><path d="M602.4 709.2l8.4 -1.8 -8.4 -3.1 -8.4 1.8z" fill="#eef100"/><path d="M619.1 710.4l8.4 -2 -8.4 -3 -8.3 2z" fill="#e9f100"/><path d="M635.9 711.4l8.3 -2.2 -8.3 -3 -8.4 2.2z" fill="#e5f100"/><path d="M652.6 712.1l8.3 -2.5 -8.3 -2.8 -8.4 2.4z" fill="#e2f100"/><path d="M686.0 712.6l8.4 -2.8 -8.4 -2.7 -8.3 2.8z" fill="#e0f200"/><path d="M719.5 712.1l8.3 -3.2 -8.3 -2.5 -8.4 3.1z" fill="#e3f100"/><path d="M736.2 711.4l8.4 -3.4 -8.4 -2.4 -8.4 3.3z" fill="#e6f100"/><path d="M752.9 710.4l8.4 -3.5 -8.3 -2.4 -8.4 3.5z" fill="#eaf100"/><path d="M769.7 709.2l8.4 -3.7 -8.4 -2.3 -8.4 3.7z" fill="#eff000"/><path d="M585.7 707.7l8.3 -1.6 -8.3 -3.1 -8.4 1.5z" fill="#f5f000"/><path d="M669.3 712.5l8.4 -2.6 -8.4 -2.8 -8.4 2.5z" fill="#e1f200"/><path d="M702.7 712.5l8.4 -3 -8.4 -2.6 -8.3 2.9z" fill="#e1f200"/><path d="M786.5 707.7l8.4 -3.9 -8.4 -2.2 -8.4 3.9z" fill="#f5f000"/><path d="M560.5 707.3l8.4 -1.3 -8.4 -3.3 -8.4 1.3z" fill="#f6e900"/><path d="M577.3 709.2l8.4 -1.5 -8.4 -3.2 -8.4 1.5z" fill="#f5ee00"/><path d="M594.0 710.9l8.4 -1.7 -8.4 -3.1 -8.3 1.6z" fill="#f2f000"/><path d="M610.8 712.3l8.3 -1.9 -8.3 -3 -8.4 1.8z" fill="#ecf100"/><path d="M627.5 713.4l8.4 -2 -8.4 -3 -8.4 2z" fill="#e7f100"/><path d="M644.2 714.3l8.4 -2.2 -8.4 -2.9 -8.3 2.2z" fill="#e3f100"/><path d="M660.9 714.9l8.4 -2.4 -8.4 -2.9 -8.3 2.5z" fill="#e1f200"/><path d="M677.6 715.2l8.4 -2.6 -8.3 -2.7 -8.4 2.6z" fill="#dff200"/><path d="M694.4 715.3l8.3 -2.8 -8.3 -2.7 -8.4 2.8z" fill="#dff200"/><path d="M711.1 715.1l8.4 -3 -8.4 -2.6 -8.4 3z" fill="#e0f200"/><path d="M727.8 714.6l8.4 -3.2 -8.4 -2.5 -8.3 3.2z" fill="#e2f200"/><path d="M744.5 713.8l8.4 -3.4 -8.3 -2.4 -8.4 3.4z" fill="#e5f100"/><path d="M761.3 712.8l8.4 -3.6 -8.4 -2.3 -8.4 3.5z" fill="#eaf100"/><path d="M778.1 711.5l8.4 -3.8 -8.4 -2.2 -8.4 3.7z" fill="#eff000"/><path d="M794.8 709.9l8.5 -3.9 -8.4 -2.2 -8.4 3.9z" fill="#f5ef00"/><path d="M552.1 708.4l8.4 -1.1 -8.4 -3.3 -8.4 1z" fill="#f7e500"/><path d="M568.9 710.5l8.4 -1.3 -8.4 -3.2 -8.4 1.3z" fill="#f6eb00"/><path d="M585.6 712.4l8.4 -1.5 -8.3 -3.2 -8.4 1.5z" fill="#f5ef00"/><path d="M602.4 714.0l8.4 -1.7 -8.4 -3.1 -8.4 1.7z" fill="#eff000"/><path d="M619.1 715.3l8.4 -1.9 -8.4 -3 -8.3 1.9z" fill="#e9f100"/><path d="M635.8 716.4l8.4 -2.1 -8.3 -2.9 -8.4 2z" fill="#e5f100"/><path d="M652.6 717.2l8.3 -2.3 -8.3 -2.8 -8.4 2.2z" fill="#e1f200"/><path d="M669.3 717.7l8.3 -2.5 -8.3 -2.7 -8.4 2.4z" fill="#dff200"/><path d="M686.0 718.0l8.4 -2.7 -8.4 -2.7 -8.4 2.6z" fill="#def200"/><path d="M702.7 718.0l8.4 -2.9 -8.4 -2.6 -8.3 2.8z" fill="#def200"/><path d="M719.4 717.7l8.4 -3.1 -8.3 -2.5 -8.4 3z" fill="#dff200"/><path d="M736.2 717.1l8.3 -3.3 -8.3 -2.4 -8.4 3.2z" fill="#e1f200"/><path d="M752.9 716.3l8.4 -3.5 -8.4 -2.4 -8.4 3.4z" fill="#e5f100"/><path d="M769.7 715.1l8.4 -3.6 -8.4 -2.3 -8.4 3.6z" fill="#e9f100"/><path d="M786.4 713.8l8.4 -3.9 -8.3 -2.2 -8.4 3.8z" fill="#eff000"/><path d="M803.2 712.1l8.4 -4 -8.3 -2.1 -8.5 3.9z" fill="#f5ef00"/><path d="M543.7 709.3l8.4 -.9 -8.4 -3.4 -8.4 1z" fill="#f8e100"/><path d="M560.5 711.7l8.4 -1.2 -8.4 -3.2 -8.4 1.1z" fill="#f7e700"/><path d="M577.3 713.7l8.3 -1.3 -8.3 -3.2 -8.4 1.3z" fill="#f6ec00"/><path d="M594.0 715.5l8.4 -1.5 -8.4 -3.1 -8.4 1.5z" fill="#f3f000"/><path d="M610.7 717.1l8.4 -1.8 -8.3 -3 -8.4 1.7z" fill="#ecf100"/><path d="M627.5 718.4l8.3 -2 -8.3 -3 -8.4 1.9z" fill="#e7f100"/><path d="M644.2 719.3l8.4 -2.1 -8.4 -2.9 -8.4 2.1z" fill="#e3f100"/><path d="M660.9 720.1l8.4 -2.4 -8.4 -2.8 -8.3 2.3z" fill="#dff200"/><path d="M677.6 720.5l8.4 -2.5 -8.4 -2.8 -8.3 2.5z" fill="#ddf200"/><path d="M694.3 720.7l8.4 -2.7 -8.3 -2.7 -8.4 2.7z" fill="#dcf200"/><path d="M711.1 720.6l8.3 -2.9 -8.3 -2.6 -8.4 2.9z" fill="#ddf200"/><path d="M727.8 720.2l8.4 -3.1 -8.4 -2.5 -8.4 3.1z" fill="#def200"/><path d="M744.5 719.6l8.4 -3.3 -8.4 -2.5 -8.3 3.3z" fill="#e1f200"/><path d="M761.3 718.6l8.4 -3.5 -8.4 -2.3 -8.4 3.5z" fill="#e5f100"/><path d="M778.0 717.4l8.4 -3.6 -8.3 -2.3 -8.4 3.6z" fill="#eaf100"/><path d="M794.8 716.0l8.4 -3.9 -8.4 -2.2 -8.4 3.9z" fill="#f0f000"/><path d="M811.6 714.2l8.4 -4 -8.4 -2.1 -8.4 4z" fill="#f5ef00"/><path d="M535.3 710.1l8.4 -.8 -8.4 -3.3 -8.4 .7z" fill="#f7d600"/><path d="M552.1 712.6l8.4 -.9 -8.4 -3.3 -8.4 .9z" fill="#f8e300"/><path d="M568.9 714.9l8.4 -1.2 -8.4 -3.2 -8.4 1.2z" fill="#f6e900"/><path d="M585.6 716.9l8.4 -1.4 -8.4 -3.1 -8.3 1.3z" fill="#f5ee00"/><path d="M602.4 718.7l8.3 -1.6 -8.3 -3.1 -8.4 1.5z" fill="#f1f000"/><path d="M619.1 720.1l8.4 -1.7 -8.4 -3.1 -8.4 1.8z" fill="#eaf100"/><path d="M635.8 721.3l8.4 -2 -8.4 -2.9 -8.3 2z" fill="#e5f100"/><path d="M652.6 722.3l8.3 -2.2 -8.3 -2.9 -8.4 2.1z" fill="#e1f200"/><path d="M669.3 722.9l8.3 -2.4 -8.3 -2.8 -8.4 2.4z" fill="#def200"/><path d="M686.0 723.3l8.3 -2.6 -8.3 -2.7 -8.4 2.5z" fill="#dcf200"/><path d="M702.7 723.4l8.4 -2.8 -8.4 -2.6 -8.4 2.7z" fill="#dcf200"/><path d="M719.4 723.2l8.4 -3 -8.4 -2.5 -8.3 2.9z" fill="#dcf200"/><path d="M736.1 722.7l8.4 -3.1 -8.3 -2.5 -8.4 3.1z" fill="#def200"/><path d="M752.9 722.0l8.4 -3.4 -8.4 -2.3 -8.4 3.3z" fill="#e1f200"/><path d="M769.6 721.0l8.4 -3.6 -8.3 -2.3 -8.4 3.5z" fill="#e5f100"/><path d="M786.4 719.7l8.4 -3.7 -8.4 -2.2 -8.4 3.6z" fill="#eaf100"/><path d="M803.2 718.1l8.4 -3.9 -8.4 -2.1 -8.4 3.9z" fill="#f0f000"/><path d="M820.0 716.3l8.4 -4.1 -8.4 -2 -8.4 4z" fill="#f5ee00"/><path d="M526.8 710.7l8.5 -.6 -8.4 -3.4 -8.5 .6z" fill="#f6ca00"/><path d="M560.4 716.0l8.5 -1.1 -8.4 -3.2 -8.4 .9z" fill="#f7e500"/><path d="M577.2 718.2l8.4 -1.3 -8.3 -3.2 -8.4 1.2z" fill="#f6eb00"/><path d="M594.0 720.1l8.4 -1.4 -8.4 -3.2 -8.4 1.4z" fill="#f5f000"/><path d="M610.7 721.8l8.4 -1.7 -8.4 -3 -8.3 1.6z" fill="#eef100"/><path d="M644.2 724.3l8.4 -2 -8.4 -3 -8.4 2z" fill="#e3f100"/><path d="M660.9 725.1l8.4 -2.2 -8.4 -2.8 -8.3 2.2z" fill="#dff200"/><path d="M677.6 725.7l8.4 -2.4 -8.4 -2.8 -8.3 2.4z" fill="#dcf200"/><path d="M694.3 726.0l8.4 -2.6 -8.4 -2.7 -8.3 2.6z" fill="#dbf200"/><path d="M711.0 726.0l8.4 -2.8 -8.3 -2.6 -8.4 2.8z" fill="#dbf200"/><path d="M727.8 725.7l8.3 -3 -8.3 -2.5 -8.4 3z" fill="#dcf200"/><path d="M761.2 724.4l8.4 -3.4 -8.3 -2.4 -8.4 3.4z" fill="#e1f200"/><path d="M778.0 723.3l8.4 -3.6 -8.4 -2.3 -8.4 3.6z" fill="#e5f100"/><path d="M794.8 721.9l8.4 -3.8 -8.4 -2.1 -8.4 3.7z" fill="#eaf100"/><path d="M828.3 718.4l8.5 -4.2 -8.4 -2 -8.4 4.1z" fill="#f5ee00"/><path d="M543.6 713.5l8.5 -.9 -8.4 -3.3 -8.4 .8z" fill="#f7db00"/><path d="M627.5 723.2l8.3 -1.9 -8.3 -2.9 -8.4 1.7z" fill="#e8f100"/><path d="M744.5 725.2l8.4 -3.2 -8.4 -2.4 -8.4 3.1z" fill="#ddf200"/><path d="M811.5 720.3l8.5 -4 -8.4 -2.1 -8.4 3.9z" fill="#f1f000"/><path d="M518.4 711.2l8.4 -.5 -8.4 -3.4 -8.4 .4z" fill="#f5bc00"/><path d="M535.2 714.1l8.4 -.6 -8.3 -3.4 -8.5 .6z" fill="#f6cf00"/><path d="M552.0 716.8l8.4 -.8 -8.3 -3.4 -8.5 .9z" fill="#f8df00"/><path d="M568.8 719.2l8.4 -1 -8.3 -3.3 -8.5 1.1z" fill="#f7e700"/><path d="M585.6 721.4l8.4 -1.3 -8.4 -3.2 -8.4 1.3z" fill="#f6ec00"/><path d="M602.3 723.2l8.4 -1.4 -8.3 -3.1 -8.4 1.4z" fill="#f3f000"/><path d="M619.1 724.8l8.4 -1.6 -8.4 -3.1 -8.4 1.7z" fill="#ecf100"/><path d="M635.8 726.2l8.4 -1.9 -8.4 -3 -8.3 1.9z" fill="#e6f100"/><path d="M652.5 727.2l8.4 -2.1 -8.3 -2.8 -8.4 2z" fill="#e1f200"/><path d="M669.3 728.0l8.3 -2.3 -8.3 -2.8 -8.4 2.2z" fill="#def200"/><path d="M686.0 728.5l8.3 -2.5 -8.3 -2.7 -8.4 2.4z" fill="#dbf200"/><path d="M702.7 728.7l8.3 -2.7 -8.3 -2.6 -8.4 2.6z" fill="#daf200"/><path d="M719.4 728.6l8.4 -2.9 -8.4 -2.5 -8.4 2.8z" fill="#daf200"/><path d="M736.1 728.3l8.4 -3.1 -8.4 -2.5 -8.3 3z" fill="#dbf200"/><path d="M752.8 727.6l8.4 -3.2 -8.3 -2.4 -8.4 3.2z" fill="#ddf200"/><path d="M769.6 726.7l8.4 -3.4 -8.4 -2.3 -8.4 3.4z" fill="#e1f200"/><path d="M786.3 725.6l8.5 -3.7 -8.4 -2.2 -8.4 3.6z" fill="#e5f100"/><path d="M803.1 724.1l8.4 -3.8 -8.3 -2.2 -8.4 3.8z" fill="#ebf100"/><path d="M819.9 722.4l8.4 -4 -8.3 -2.1 -8.5 4z" fill="#f2f000"/><path d="M836.7 720.4l8.5 -4.2 -8.4 -2 -8.5 4.2z" fill="#f6ed00"/><path d="M543.6 717.5l8.4 -.7 -8.4 -3.3 -8.4 .6z" fill="#f7d400"/><path d="M577.2 722.5l8.4 -1.1 -8.4 -3.2 -8.4 1z" fill="#f7e800"/><path d="M660.9 730.1l8.4 -2.1 -8.4 -2.9 -8.4 2.1z" fill="#e0f200"/><path d="M711.0 731.3l8.4 -2.7 -8.4 -2.6 -8.3 2.7z" fill="#daf200"/><path d="M794.7 727.8l8.4 -3.7 -8.3 -2.2 -8.5 3.7z" fill="#e6f100"/><path d="M828.3 724.4l8.4 -4 -8.4 -2 -8.4 4z" fill="#f3f000"/><path d="M526.8 714.6l8.4 -.5 -8.4 -3.4 -8.4 .5z" fill="#f5c200"/><path d="M560.4 720.1l8.4 -.9 -8.4 -3.2 -8.4 .8z" fill="#f8e200"/><path d="M594.0 724.5l8.3 -1.3 -8.3 -3.1 -8.4 1.3z" fill="#f5ee00"/><path d="M610.7 726.3l8.4 -1.5 -8.4 -3 -8.4 1.4z" fill="#f1f000"/><path d="M627.4 727.9l8.4 -1.7 -8.3 -3 -8.4 1.6z" fill="#eaf100"/><path d="M644.2 729.1l8.3 -1.9 -8.3 -2.9 -8.4 1.9z" fill="#e4f100"/><path d="M677.6 730.8l8.4 -2.3 -8.4 -2.8 -8.3 2.3z" fill="#ddf200"/><path d="M694.3 731.2l8.4 -2.5 -8.4 -2.7 -8.3 2.5z" fill="#dbf200"/><path d="M727.7 731.2l8.4 -2.9 -8.3 -2.6 -8.4 2.9z" fill="#daf200"/><path d="M744.5 730.8l8.3 -3.2 -8.3 -2.4 -8.4 3.1z" fill="#dbf200"/><path d="M761.2 730.0l8.4 -3.3 -8.4 -2.3 -8.4 3.2z" fill="#ddf200"/><path d="M778.0 729.1l8.3 -3.5 -8.3 -2.3 -8.4 3.4z" fill="#e1f200"/><path d="M811.5 726.3l8.4 -3.9 -8.4 -2.1 -8.4 3.8z" fill="#ecf100"/><path d="M535.1 718.0l8.5 -.5 -8.4 -3.4 -8.4 .5z" fill="#f6c700"/><path d="M552.0 720.8l8.4 -.7 -8.4 -3.3 -8.4 .7z" fill="#f7d800"/><path d="M568.8 723.4l8.4 -.9 -8.4 -3.3 -8.4 .9z" fill="#f7e400"/><path d="M585.5 725.7l8.5 -1.2 -8.4 -3.1 -8.4 1.1z" fill="#f6ea00"/><path d="M602.3 727.7l8.4 -1.4 -8.4 -3.1 -8.3 1.3z" fill="#f5ef00"/><path d="M619.1 729.4l8.3 -1.5 -8.3 -3.1 -8.4 1.5z" fill="#eff100"/><path d="M635.8 730.9l8.4 -1.8 -8.4 -2.9 -8.4 1.7z" fill="#e8f100"/><path d="M652.5 732.0l8.4 -1.9 -8.4 -2.9 -8.3 1.9z" fill="#e3f100"/><path d="M669.2 732.9l8.4 -2.1 -8.3 -2.8 -8.4 2.1z" fill="#dff200"/><path d="M685.9 733.5l8.4 -2.3 -8.3 -2.7 -8.4 2.3z" fill="#dcf200"/><path d="M702.7 733.9l8.3 -2.6 -8.3 -2.6 -8.4 2.5z" fill="#daf200"/><path d="M719.4 733.9l8.3 -2.7 -8.3 -2.6 -8.4 2.7z" fill="#daf200"/><path d="M736.1 733.7l8.4 -2.9 -8.4 -2.5 -8.4 2.9z" fill="#daf200"/><path d="M752.8 733.2l8.4 -3.2 -8.4 -2.4 -8.3 3.2z" fill="#dbf200"/><path d="M769.6 732.4l8.4 -3.3 -8.4 -2.4 -8.4 3.3z" fill="#def200"/><path d="M786.3 731.3l8.4 -3.5 -8.4 -2.2 -8.3 3.5z" fill="#e2f200"/><path d="M803.1 730.0l8.4 -3.7 -8.4 -2.2 -8.4 3.7z" fill="#e7f100"/><path d="M819.9 728.4l8.4 -4 -8.4 -2 -8.4 3.9z" fill="#edf100"/><path d="M543.5 721.4l8.5 -.6 -8.4 -3.3 -8.5 .5z" fill="#f6cb00"/><path d="M660.9 734.9l8.3 -2 -8.3 -2.8 -8.4 1.9z" fill="#e1f200"/><path d="M677.6 735.7l8.3 -2.2 -8.3 -2.7 -8.4 2.1z" fill="#def200"/><path d="M711.0 736.5l8.4 -2.6 -8.4 -2.6 -8.3 2.6z" fill="#daf200"/><path d="M744.4 736.2l8.4 -3 -8.3 -2.4 -8.4 2.9z" fill="#daf200"/><path d="M794.7 733.6l8.4 -3.6 -8.4 -2.2 -8.4 3.5z" fill="#e3f100"/><path d="M560.3 724.2l8.5 -.8 -8.4 -3.3 -8.4 .7z" fill="#f8dc00"/><path d="M577.1 726.6l8.4 -.9 -8.3 -3.2 -8.4 .9z" fill="#f7e500"/><path d="M593.9 728.9l8.4 -1.2 -8.3 -3.2 -8.5 1.2z" fill="#f6eb00"/><path d="M610.7 730.8l8.4 -1.4 -8.4 -3.1 -8.4 1.4z" fill="#f4f000"/><path d="M627.4 732.4l8.4 -1.5 -8.4 -3 -8.3 1.5z" fill="#edf100"/><path d="M644.1 733.8l8.4 -1.8 -8.3 -2.9 -8.4 1.8z" fill="#e7f100"/><path d="M694.3 736.3l8.4 -2.4 -8.4 -2.7 -8.4 2.3z" fill="#dbf200"/><path d="M727.7 736.5l8.4 -2.8 -8.4 -2.5 -8.3 2.7z" fill="#d9f100"/><path d="M761.2 735.6l8.4 -3.2 -8.4 -2.4 -8.4 3.2z" fill="#dbf200"/><path d="M777.9 734.7l8.4 -3.4 -8.3 -2.2 -8.4 3.3z" fill="#def200"/><path d="M811.4 732.1l8.5 -3.7 -8.4 -2.1 -8.4 3.7z" fill="#e8f100"/><path d="M551.9 724.7l8.4 -.5 -8.3 -3.4 -8.5 .6z" fill="#f6cf00"/><path d="M568.7 727.4l8.4 -.8 -8.3 -3.2 -8.5 .8z" fill="#f8e000"/><path d="M602.3 732.0l8.4 -1.2 -8.4 -3.1 -8.4 1.2z" fill="#f6ed00"/><path d="M619.0 733.9l8.4 -1.5 -8.3 -3 -8.4 1.4z" fill="#f2f000"/><path d="M635.8 735.4l8.3 -1.6 -8.3 -2.9 -8.4 1.5z" fill="#ebf100"/><path d="M652.5 736.8l8.4 -1.9 -8.4 -2.9 -8.4 1.8z" fill="#e5f100"/><path d="M669.2 737.8l8.4 -2.1 -8.4 -2.8 -8.3 2z" fill="#e0f200"/><path d="M685.9 738.5l8.4 -2.2 -8.4 -2.8 -8.3 2.2z" fill="#ddf200"/><path d="M702.6 739.0l8.4 -2.5 -8.3 -2.6 -8.4 2.4z" fill="#dbf200"/><path d="M719.4 739.1l8.3 -2.6 -8.3 -2.6 -8.4 2.6z" fill="#d9f100"/><path d="M736.1 739.0l8.3 -2.8 -8.3 -2.5 -8.4 2.8z" fill="#d9f100"/><path d="M752.8 738.6l8.4 -3 -8.4 -2.4 -8.4 3z" fill="#daf200"/><path d="M769.5 738.0l8.4 -3.3 -8.3 -2.3 -8.4 3.2z" fill="#dcf200"/><path d="M803.0 735.8l8.4 -3.7 -8.3 -2.1 -8.4 3.6z" fill="#e4f100"/><path d="M585.5 729.9l8.4 -1 -8.4 -3.2 -8.4 .9z" fill="#f7e700"/><path d="M786.3 737.0l8.4 -3.4 -8.4 -2.3 -8.4 3.4z" fill="#dff200"/><path d="M560.3 728.1l8.4 -.7 -8.4 -3.2 -8.4 .5z" fill="#f7d300"/><path d="M577.1 730.7l8.4 -.8 -8.4 -3.3 -8.4 .8z" fill="#f8e200"/><path d="M593.9 733.0l8.4 -1 -8.4 -3.1 -8.4 1z" fill="#f7e800"/><path d="M610.6 735.1l8.4 -1.2 -8.3 -3.1 -8.4 1.2z" fill="#f5ee00"/><path d="M627.4 736.9l8.4 -1.5 -8.4 -3 -8.4 1.5z" fill="#f1f000"/><path d="M644.1 738.4l8.4 -1.6 -8.4 -3 -8.3 1.6z" fill="#eaf100"/><path d="M660.8 739.6l8.4 -1.8 -8.3 -2.9 -8.4 1.9z" fill="#e4f100"/><path d="M677.6 740.6l8.3 -2.1 -8.3 -2.8 -8.4 2.1z" fill="#dff200"/><path d="M694.3 741.3l8.3 -2.3 -8.3 -2.7 -8.4 2.2z" fill="#dcf200"/><path d="M711.0 741.6l8.4 -2.5 -8.4 -2.6 -8.4 2.5z" fill="#daf200"/><path d="M727.7 741.7l8.4 -2.7 -8.4 -2.5 -8.3 2.6z" fill="#d9f100"/><path d="M744.4 741.5l8.4 -2.9 -8.4 -2.4 -8.3 2.8z" fill="#d9f100"/><path d="M761.2 741.1l8.3 -3.1 -8.3 -2.4 -8.4 3z" fill="#daf200"/><path d="M777.9 740.3l8.4 -3.3 -8.4 -2.3 -8.4 3.3z" fill="#dcf200"/><path d="M794.6 739.3l8.4 -3.5 -8.3 -2.2 -8.4 3.4z" fill="#e0f200"/><path d="M585.5 733.9l8.4 -.9 -8.4 -3.1 -8.4 .8z" fill="#f8e300"/><path d="M619.0 738.2l8.4 -1.3 -8.4 -3 -8.4 1.2z" fill="#f5ef00"/><path d="M752.8 744.0l8.4 -2.9 -8.4 -2.5 -8.4 2.9z" fill="#daf200"/><path d="M786.2 742.6l8.4 -3.3 -8.3 -2.3 -8.4 3.3z" fill="#ddf200"/><path d="M568.7 731.3l8.4 -.6 -8.4 -3.3 -8.4 .7z" fill="#f7d700"/><path d="M602.2 736.2l8.4 -1.1 -8.3 -3.1 -8.4 1z" fill="#f6e900"/><path d="M635.7 739.9l8.4 -1.5 -8.3 -3 -8.4 1.5z" fill="#eff000"/><path d="M652.5 741.3l8.3 -1.7 -8.3 -2.8 -8.4 1.6z" fill="#e8f100"/><path d="M669.2 742.5l8.4 -1.9 -8.4 -2.8 -8.4 1.8z" fill="#e3f100"/><path d="M685.9 743.4l8.4 -2.1 -8.4 -2.8 -8.3 2.1z" fill="#dff200"/><path d="M702.6 744.0l8.4 -2.4 -8.4 -2.6 -8.3 2.3z" fill="#dcf200"/><path d="M719.3 744.3l8.4 -2.6 -8.3 -2.6 -8.4 2.5z" fill="#daf200"/><path d="M736.1 744.3l8.3 -2.8 -8.3 -2.5 -8.4 2.7z" fill="#d9f100"/><path d="M769.5 743.4l8.4 -3.1 -8.4 -2.3 -8.3 3.1z" fill="#dbf200"/><path d="M577.0 734.6l8.5 -.7 -8.4 -3.2 -8.4 .6z" fill="#f7da00"/><path d="M593.8 737.1l8.4 -.9 -8.3 -3.2 -8.4 .9z" fill="#f7e500"/><path d="M610.6 739.3l8.4 -1.1 -8.4 -3.1 -8.4 1.1z" fill="#f6eb00"/><path d="M627.3 741.2l8.4 -1.3 -8.3 -3 -8.4 1.3z" fill="#f5f000"/><path d="M644.1 742.9l8.4 -1.6 -8.4 -2.9 -8.4 1.5z" fill="#eef100"/><path d="M660.8 744.2l8.4 -1.7 -8.4 -2.9 -8.3 1.7z" fill="#e7f100"/><path d="M711.0 746.6l8.3 -2.3 -8.3 -2.7 -8.4 2.4z" fill="#dbf200"/><path d="M727.7 746.8l8.4 -2.5 -8.4 -2.6 -8.4 2.6z" fill="#daf200"/><path d="M744.4 746.8l8.4 -2.8 -8.4 -2.5 -8.3 2.8z" fill="#daf200"/><path d="M761.1 746.4l8.4 -3 -8.3 -2.3 -8.4 2.9z" fill="#daf200"/><path d="M777.9 745.8l8.3 -3.2 -8.3 -2.3 -8.4 3.1z" fill="#dcf200"/><path d="M677.5 745.3l8.4 -1.9 -8.3 -2.8 -8.4 1.9z" fill="#e2f200"/><path d="M694.3 746.1l8.3 -2.1 -8.3 -2.7 -8.4 2.1z" fill="#def200"/><path d="M585.4 737.8l8.4 -.7 -8.3 -3.2 -8.5 .7z" fill="#f8dd00"/><path d="M635.7 744.2l8.4 -1.3 -8.4 -3 -8.4 1.3z" fill="#f4f000"/><path d="M702.6 748.8l8.4 -2.2 -8.4 -2.6 -8.3 2.1z" fill="#def200"/><path d="M752.8 749.2l8.3 -2.8 -8.3 -2.4 -8.4 2.8z" fill="#daf200"/><path d="M602.2 740.2l8.4 -.9 -8.4 -3.1 -8.4 .9z" fill="#f7e600"/><path d="M618.9 742.4l8.4 -1.2 -8.3 -3 -8.4 1.1z" fill="#f6ec00"/><path d="M652.4 745.8l8.4 -1.6 -8.3 -2.9 -8.4 1.6z" fill="#edf100"/><path d="M669.2 747.1l8.3 -1.8 -8.3 -2.8 -8.4 1.7z" fill="#e7f100"/><path d="M685.9 748.1l8.4 -2 -8.4 -2.7 -8.4 1.9z" fill="#e2f200"/><path d="M719.3 749.2l8.4 -2.4 -8.4 -2.5 -8.3 2.3z" fill="#dbf200"/><path d="M736.0 749.4l8.4 -2.6 -8.3 -2.5 -8.4 2.5z" fill="#daf200"/><path d="M769.5 748.8l8.4 -3 -8.4 -2.4 -8.4 3z" fill="#dbf200"/><path d="M593.8 741.0l8.4 -.8 -8.4 -3.1 -8.4 .7z" fill="#f8e000"/><path d="M610.5 743.3l8.4 -.9 -8.3 -3.1 -8.4 .9z" fill="#f7e700"/><path d="M627.3 745.4l8.4 -1.2 -8.4 -3 -8.4 1.2z" fill="#f6ec00"/><path d="M644.0 747.2l8.4 -1.4 -8.3 -2.9 -8.4 1.3z" fill="#f3f000"/><path d="M660.8 748.7l8.4 -1.6 -8.4 -2.9 -8.4 1.6z" fill="#ecf100"/><path d="M677.5 749.9l8.4 -1.8 -8.4 -2.8 -8.3 1.8z" fill="#e6f100"/><path d="M694.2 750.8l8.4 -2 -8.3 -2.7 -8.4 2z" fill="#e1f200"/><path d="M710.9 751.5l8.4 -2.3 -8.3 -2.6 -8.4 2.2z" fill="#def200"/><path d="M727.7 751.8l8.3 -2.4 -8.3 -2.6 -8.4 2.4z" fill="#dcf200"/><path d="M744.4 751.9l8.4 -2.7 -8.4 -2.4 -8.4 2.6z" fill="#dbf200"/><path d="M761.1 751.6l8.4 -2.8 -8.4 -2.4 -8.3 2.8z" fill="#dbf200"/><path d="M602.1 744.1l8.4 -.8 -8.3 -3.1 -8.4 .8z" fill="#f8e200"/><path d="M618.9 746.4l8.4 -1 -8.4 -3 -8.4 .9z" fill="#f7e800"/><path d="M635.7 748.4l8.3 -1.2 -8.3 -3 -8.4 1.2z" fill="#f6ed00"/><path d="M652.4 750.1l8.4 -1.4 -8.4 -2.9 -8.4 1.4z" fill="#f2f000"/><path d="M669.1 751.6l8.4 -1.7 -8.3 -2.8 -8.4 1.6z" fill="#ebf100"/><path d="M685.9 752.7l8.3 -1.9 -8.3 -2.7 -8.4 1.8z" fill="#e6f100"/><path d="M702.6 753.5l8.3 -2 -8.3 -2.7 -8.4 2z" fill="#e1f200"/><path d="M719.3 754.1l8.4 -2.3 -8.4 -2.6 -8.4 2.3z" fill="#def200"/><path d="M736.0 754.4l8.4 -2.5 -8.4 -2.5 -8.3 2.4z" fill="#dcf200"/><path d="M752.7 754.3l8.4 -2.7 -8.3 -2.4 -8.4 2.7z" fill="#dbf200"/><path d="M610.5 747.2l8.4 -.8 -8.4 -3.1 -8.4 .8z" fill="#f8e200"/><path d="M644.0 751.4l8.4 -1.3 -8.4 -2.9 -8.3 1.2z" fill="#f5ee00"/><path d="M660.7 753.0l8.4 -1.4 -8.3 -2.9 -8.4 1.4z" fill="#f1f000"/><path d="M677.5 754.4l8.4 -1.7 -8.4 -2.8 -8.4 1.7z" fill="#ebf100"/><path d="M694.2 755.4l8.4 -1.9 -8.4 -2.7 -8.3 1.9z" fill="#e5f100"/><path d="M710.9 756.2l8.4 -2.1 -8.4 -2.6 -8.3 2z" fill="#e1f200"/><path d="M727.6 756.7l8.4 -2.3 -8.3 -2.6 -8.4 2.3z" fill="#def200"/><path d="M744.4 756.9l8.3 -2.6 -8.3 -2.4 -8.4 2.5z" fill="#dcf200"/><path d="M627.2 749.5l8.5 -1.1 -8.4 -3 -8.4 1z" fill="#f7e800"/><path d="M618.8 750.3l8.4 -.8 -8.3 -3.1 -8.4 .8z" fill="#f8e300"/><path d="M652.4 754.3l8.3 -1.3 -8.3 -2.9 -8.4 1.3z" fill="#f5ee00"/><path d="M669.1 755.9l8.4 -1.5 -8.4 -2.8 -8.4 1.4z" fill="#f1f000"/><path d="M685.8 757.2l8.4 -1.8 -8.3 -2.7 -8.4 1.7z" fill="#eaf100"/><path d="M702.5 758.1l8.4 -1.9 -8.3 -2.7 -8.4 1.9z" fill="#e5f100"/><path d="M719.3 758.8l8.3 -2.1 -8.3 -2.6 -8.4 2.1z" fill="#e1f200"/><path d="M635.6 752.5l8.4 -1.1 -8.3 -3 -8.5 1.1z" fill="#f6e900"/><path d="M736.0 759.2l8.4 -2.3 -8.4 -2.5 -8.4 2.3z" fill="#dff200"/><path d="M627.2 753.4l8.4 -.9 -8.4 -3 -8.4 .8z" fill="#f7e400"/><path d="M644.0 755.4l8.4 -1.1 -8.4 -2.9 -8.4 1.1z" fill="#f6ea00"/><path d="M660.7 757.2l8.4 -1.3 -8.4 -2.9 -8.3 1.3z" fill="#f5ef00"/><path d="M677.4 758.7l8.4 -1.5 -8.3 -2.8 -8.4 1.5z" fill="#f0f000"/><path d="M694.2 759.9l8.3 -1.8 -8.3 -2.7 -8.4 1.8z" fill="#eaf100"/><path d="M710.9 760.8l8.4 -2 -8.4 -2.6 -8.4 1.9z" fill="#e5f100"/><path d="M727.6 761.4l8.4 -2.2 -8.4 -2.5 -8.3 2.1z" fill="#e2f200"/><path d="M669.1 760.1l8.3 -1.4 -8.3 -2.8 -8.4 1.3z" fill="#f5ef00"/><path d="M702.5 762.6l8.4 -1.8 -8.4 -2.7 -8.3 1.8z" fill="#eaf100"/><path d="M635.6 756.4l8.4 -1 -8.4 -2.9 -8.4 .9z" fill="#f7e500"/><path d="M652.3 758.4l8.4 -1.2 -8.3 -2.9 -8.4 1.1z" fill="#f6ea00"/><path d="M685.8 761.5l8.4 -1.6 -8.4 -2.7 -8.4 1.5z" fill="#f0f000"/><path d="M719.2 763.4l8.4 -2 -8.3 -2.6 -8.4 2z" fill="#e6f100"/><path d="M643.9 759.3l8.4 -.9 -8.3 -3 -8.4 1z" fill="#f7e500"/><path d="M660.7 761.2l8.4 -1.1 -8.4 -2.9 -8.4 1.2z" fill="#f6ea00"/><path d="M677.4 762.9l8.4 -1.4 -8.4 -2.8 -8.3 1.4z" fill="#f5ef00"/><path d="M694.1 764.2l8.4 -1.6 -8.3 -2.7 -8.4 1.6z" fill="#f0f000"/><path d="M710.9 765.2l8.3 -1.8 -8.3 -2.6 -8.4 1.8z" fill="#ebf100"/><path d="M652.3 762.2l8.4 -1 -8.4 -2.8 -8.4 .9z" fill="#f7e500"/><path d="M669.0 764.1l8.4 -1.2 -8.3 -2.8 -8.4 1.1z" fill="#f6ea00"/><path d="M685.8 765.6l8.3 -1.4 -8.3 -2.7 -8.4 1.4z" fill="#f5ef00"/><path d="M702.5 766.9l8.4 -1.7 -8.4 -2.6 -8.4 1.6z" fill="#f0f000"/><path d="M677.4 766.9l8.4 -1.3 -8.4 -2.7 -8.4 1.2z" fill="#f6eb00"/><path d="M694.1 768.4l8.4 -1.5 -8.4 -2.7 -8.3 1.4z" fill="#f5ef00"/><path d="M660.6 765.1l8.4 -1 -8.3 -2.9 -8.4 1z" fill="#f7e500"/><path d="M669.0 767.9l8.4 -1 -8.4 -2.8 -8.4 1z" fill="#f7e600"/><path d="M685.7 769.6l8.4 -1.2 -8.3 -2.8 -8.4 1.3z" fill="#f6ea00"/><path d="M677.3 770.7l8.4 -1.1 -8.3 -2.7 -8.4 1z" fill="#f7e600"/></g>
<circle cx="515.74" cy="838.51" r="2" fill="#111"/><circle cx="514.66" cy="814.09" r="2" fill="#111"/><circle cx="513.59" cy="789.68" r="2" fill="#111"/><circle cx="512.51" cy="765.26" r="2" fill="#111"/><circle cx="511.43" cy="740.85" r="2" fill="#111"/><circle cx="510.35" cy="716.43" r="2" fill="#111"/><circle cx="509.28" cy="692.02" r="2" fill="#111"/><circle cx="508.2" cy="667.6" r="2" fill="#111"/><circle cx="677.4" cy="971.3" r="2" fill="#111"/><circle cx="677.4" cy="971.3" r="2" fill="#111"/><circle cx="645.54" cy="955.44" r="2" fill="#111"/><circle cx="709.36" cy="955.64" r="2" fill="#111"/><circle cx="613.68" cy="939.58" r="2" fill="#111"/><circle cx="741.32" cy="939.98" r="2" fill="#111"/><circle cx="581.82" cy="923.72" r="2" fill="#111"/><circle cx="773.28" cy="924.32" r="2" fill="#111"/><circle cx="549.96" cy="907.86" r="2" fill="#111"/><circle cx="805.24" cy="908.66" r="2" fill="#111"/><circle cx="518.1" cy="892" r="2" fill="#111"/><circle cx="837.2" cy="893" r="2" fill="#111"/><g font-family="Liberation Sans, sans-serif" font-size="17.17" fill="#3a3a3a" stroke="#3a3a3a" stroke-width="0.3"><text x="506.3" y="835.0" text-anchor="end">1</text><text x="503.6" y="812.6" text-anchor="end">1.2</text><text x="503.8" y="788.9" text-anchor="end">1.4</text><text x="504.0" y="760.3" text-anchor="end">1.6</text><text x="503.9" y="737.3" text-anchor="end">1.8</text><text x="501.7" y="714.7" text-anchor="end">2</text><text x="503.4" y="692.0" text-anchor="end">2.2</text><text x="504.0" y="669.2" text-anchor="end">2.4</text><text x="659.6" y="989.4" text-anchor="middle">20</text><text x="627.7" y="973.6" text-anchor="middle">26</text><text x="595.9" y="957.7" text-anchor="middle">32</text><text x="564.0" y="941.8" text-anchor="middle">38</text><text x="532.1" y="926.0" text-anchor="middle">44</text><text x="500.3" y="910.1" text-anchor="middle">50</text><text x="694.8" y="988.9" text-anchor="middle">20</text><text x="726.7" y="973.3" text-anchor="middle">26</text><text x="758.7" y="957.6" text-anchor="middle">32</text><text x="790.6" y="941.9" text-anchor="middle">38</text><text x="822.6" y="926.3" text-anchor="middle">44</text><text x="854.6" y="910.6" text-anchor="middle">50</text><text x="488.6" y="970.3" textLength="95.2" lengthAdjust="spacingAndGlyphs">Amplitude (%)</text><text x="762.3" y="970.3" textLength="112.7" lengthAdjust="spacingAndGlyphs">Temperature (°C)</text><text transform="translate(464.2 939.6) rotate(-90)" textLength="311.3" lengthAdjust="spacingAndGlyphs" style="font-size:16px">Total major phenolic acids (mg/g dry weight)</text></g></g>
<g id="P6"><path d="M949.87 837.05L1113.23 780.67 M948.8 812.49L1113.2 758.4 M947.74 787.92L1113.16 736.13 M946.67 763.36L1113.13 713.87 M945.6 738.79L1113.1 691.6 M944.53 714.23L1113.07 669.33 M943.47 689.66L1113.03 647.07 M942.4 665.1L1113 624.8 M976.52 657.04L982.54 825.77 M1010.64 648.98L1015.21 814.5 M1044.76 640.92L1047.88 803.22 M1078.88 632.86L1080.56 791.95 M1113.23 780.67L1276.62 837.36 M1113.2 758.4L1277.81 812.75 M1113.16 736.13L1279.01 788.14 M1113.13 713.87L1280.21 763.53 M1113.1 691.6L1281.41 738.92 M1113.07 669.33L1282.6 714.32 M1113.03 647.07L1283.8 689.71 M1113 624.8L1285 665.1 M1250.6 657.04L1243.94 826.02 M1216.2 648.98L1211.26 814.68 M1181.8 640.92L1178.58 803.34 M1147.4 632.86L1145.91 792.01 M942.4 665.1L952.2 890.7 M1113 624.8L1113.3 829.3 M1285 665.1L1274 891.1" stroke="#686868" stroke-width="1.3" fill="none"/>
<polygon points="1113.3,969.4 1274,891.1 1113.3,829.3 952.2,890.7" fill="#636363" stroke="#2a2a2a" stroke-width="1.4"/>
<g fill="none" stroke-width="2.3" stroke-linejoin="round" stroke-linecap="butt"><path d="M956.2 892.7L959.8 891.0 963.7 889.3 967.6 887.6 971.5 885.9 975.4 884.3 979.4 882.6 983.4 881.0 987.4 879.3 991.4 877.7 995.4 876.1 999.5 874.5 1003.6 872.9 1007.7 871.3 1011.8 869.7 1016.0 868.1 1020.1 866.6 1024.4 865.0 1028.6 863.5 1032.8 862.0 1037.1 860.4 1041.4 858.9 1045.7 857.4 1050.0 855.9 1054.3 854.4 1058.7 853.0 1063.1 851.5 1067.5 850.0 1072.0 848.6 1076.4 847.1 1080.9 845.7 1085.4 844.3 1089.9 842.8 1094.5 841.4 1099.0 840.0 1103.6 838.6 1108.2 837.2 1112.9 835.8 1117.5 834.4 1122.7 832.9" stroke="#34b848"/><path d="M970.8 899.8L975.4 897.5 979.2 895.8 982.9 894.0 986.7 892.3 990.5 890.6 994.3 888.9 998.1 887.2 1002.0 885.5 1005.8 883.8 1009.7 882.2 1013.6 880.5 1017.6 878.9 1021.5 877.3 1025.5 875.6 1029.5 874.0 1033.6 872.4 1037.6 870.8 1041.6 869.2 1045.7 867.7 1049.8 866.1 1054.0 864.5 1058.1 863.0 1062.3 861.5 1066.5 859.9 1070.7 858.4 1074.9 856.9 1079.2 855.4 1083.4 853.9 1087.7 852.4 1092.0 850.9 1096.4 849.4 1100.7 848.0 1105.1 846.5 1109.5 845.0 1113.9 843.6 1118.3 842.1 1122.8 840.7 1127.3 839.3 1133.8 837.2" stroke="#44bf3c"/><path d="M988.2 908.3L993.9 906.2 998.1 904.6 1002.4 903.1 1006.6 901.5 1010.8 899.9 1015.0 898.3 1019.2 896.7 1023.4 895.2 1027.6 893.6 1031.8 892.0 1035.9 890.4 1040.1 888.8 1044.3 887.2 1048.4 885.6 1052.6 884.0 1056.7 882.4 1060.9 880.8 1065.0 879.1 1069.1 877.5 1073.3 875.9 1077.4 874.3 1081.5 872.6 1085.6 871.0 1089.7 869.4 1093.8 867.8 1097.9 866.1 1102.0 864.5 1106.0 862.8 1110.1 861.2 1114.2 859.5 1118.3 857.9 1122.3 856.2 1126.4 854.6 1130.4 852.9 1134.4 851.3 1138.5 849.6 1142.5 847.9 1146.5 846.3 1151.8 844.1" stroke="#8cca38"/><path d="M1015.4 921.6L1019.2 919.8 1023.1 918.0 1027.0 916.2 1030.9 914.3 1034.9 912.5 1038.8 910.7 1042.7 908.9 1046.6 907.0 1050.5 905.2 1054.4 903.4 1058.3 901.6 1062.2 899.7 1066.1 897.9 1070.0 896.1 1073.9 894.3 1077.8 892.5 1081.7 890.6 1085.6 888.8 1089.5 887.0 1093.4 885.2 1097.3 883.4 1101.2 881.6 1105.0 879.7 1108.9 877.9 1112.8 876.1 1116.7 874.3 1120.6 872.5 1124.5 870.7 1128.4 868.9 1132.3 867.1 1136.2 865.2 1140.0 863.4 1143.9 861.6 1147.8 859.8 1151.7 858.0 1155.6 856.2 1159.4 854.4 1163.3 852.6 1168.1 850.4" stroke="#c6d232"/><path d="M1192.1 859.6L1189.8 863.2 1187.6 865.2 1184.5 867.3 1180.7 869.5 1176.3 871.7 1171.5 874.1 1166.3 876.5 1160.9 879.0 1155.4 881.5 1149.9 884.1 1144.4 886.7 1139.1 889.4 1134.0 892.2 1129.2 894.9 1124.8 897.7 1120.9 900.5 1117.4 903.3 1114.5 906.2 1112.1 909.0 1110.4 911.8 1109.2 914.5 1108.8 917.2 1109.1 919.8 1110.0 922.3 1111.6 924.6 1114.0 926.9 1117.0 928.9 1120.7 930.8 1125.0 932.4 1130.0 933.8 1135.5 934.9 1141.6 935.7 1148.2 936.1 1155.3 936.1 1162.7 935.8 1170.5 934.9 1178.5 933.6 1186.7 931.7 1196.5 928.8" stroke="#d0d030"/></g>
<g stroke="#000" stroke-width="0.85" stroke-opacity="0.55" stroke-linejoin="round"><path d="M1113.2 719.3l8.3 -2.3 -8.4 4.2 -8.3 2.3z" fill="#2dd23c" stroke="#197421" stroke-opacity="0.75" stroke-width="0.9"/><path d="M1104.8 721.6l8.4 -2.3 -8.4 4.2 -8.3 2.3z" fill="#2cd03b" stroke="#197421" stroke-opacity="0.75" stroke-width="0.9"/><path d="M1121.5 715.4l8.4 -2.4 -8.4 4 -8.3 2.3z" fill="#2ac338" stroke="#197421" stroke-opacity="0.75" stroke-width="0.9"/><path d="M1096.5 724.0l8.3 -2.4 -8.3 4.2 -8.3 2.3z" fill="#2ccd3b" stroke="#197421" stroke-opacity="0.75" stroke-width="0.9"/><path d="M1113.2 717.8l8.3 -2.4 -8.3 3.9 -8.4 2.3z" fill="#29c037" stroke="#197421" stroke-opacity="0.75" stroke-width="0.9"/><path d="M1129.9 711.9l8.4 -2.4 -8.4 3.5 -8.4 2.4z" fill="#26b333" stroke="#197421" stroke-opacity="0.75" stroke-width="0.9"/><path d="M1088.2 726.3l8.3 -2.3 -8.3 4.1 -8.3 2.3z" fill="#2ccb3a" stroke="#197421" stroke-opacity="0.75" stroke-width="0.9"/><path d="M1104.8 720.2l8.4 -2.4 -8.4 3.8 -8.3 2.4z" fill="#29be36" stroke="#197421" stroke-opacity="0.75" stroke-width="0.9"/><path d="M1121.6 714.4l8.3 -2.5 -8.4 3.5 -8.3 2.4z" fill="#26b133" stroke="#197421" stroke-opacity="0.75" stroke-width="0.9"/><path d="M1138.3 708.7l8.4 -2.5 -8.4 3.3 -8.4 2.4z" fill="#23a42f" stroke="#197421" stroke-opacity="0.75" stroke-width="0.9"/><path d="M1079.9 728.7l8.3 -2.4 -8.3 4.1 -8.3 2.3z" fill="#2bc939" stroke="#197421" stroke-opacity="0.75" stroke-width="0.9"/><path d="M1096.5 722.7l8.3 -2.5 -8.3 3.8 -8.3 2.3z" fill="#28bc36" stroke="#197421" stroke-opacity="0.75" stroke-width="0.9"/><path d="M1113.2 716.8l8.4 -2.4 -8.4 3.4 -8.4 2.4z" fill="#25af32" stroke="#197421" stroke-opacity="0.75" stroke-width="0.9"/><path d="M1130.0 711.3l8.3 -2.6 -8.4 3.2 -8.3 2.5z" fill="#23a12e" stroke="#197421" stroke-opacity="0.75" stroke-width="0.9"/><path d="M1146.8 705.9l8.4 -2.6 -8.5 2.9 -8.4 2.5z" fill="#20932a" stroke="#197421" stroke-opacity="0.75" stroke-width="0.9"/><path d="M1071.5 731.1l8.4 -2.4 -8.3 4 -8.3 2.3z" fill="#2bc739" stroke="#197421" stroke-opacity="0.75" stroke-width="0.9"/><path d="M1088.2 725.1l8.3 -2.4 -8.3 3.6 -8.3 2.4z" fill="#28b935" stroke="#197421" stroke-opacity="0.75" stroke-width="0.9"/><path d="M1104.9 719.3l8.3 -2.5 -8.4 3.4 -8.3 2.5z" fill="#25ac31" stroke="#197421" stroke-opacity="0.75" stroke-width="0.9"/><path d="M1121.6 713.8l8.4 -2.5 -8.4 3.1 -8.4 2.4z" fill="#229f2d" stroke="#197421" stroke-opacity="0.75" stroke-width="0.9"/><path d="M1138.4 708.5l8.4 -2.6 -8.5 2.8 -8.3 2.6z" fill="#1f9129" stroke="#197421" stroke-opacity="0.75" stroke-width="0.9"/><path d="M1155.3 703.5l8.4 -2.7 -8.5 2.5 -8.4 2.6z" fill="#518506" stroke-opacity="0.05"/><path d="M1063.2 733.4l8.3 -2.3 -8.2 3.9 -8.3 2.3z" fill="#2ac438" stroke="#197421" stroke-opacity="0.75" stroke-width="0.9"/><path d="M1079.8 727.5l8.4 -2.4 -8.3 3.6 -8.4 2.4z" fill="#27b734" stroke="#197421" stroke-opacity="0.75" stroke-width="0.9"/><path d="M1096.5 721.8l8.4 -2.5 -8.4 3.4 -8.3 2.4z" fill="#24aa30" stroke="#197421" stroke-opacity="0.75" stroke-width="0.9"/><path d="M1113.2 716.3l8.4 -2.5 -8.4 3 -8.3 2.5z" fill="#219c2d" stroke="#197421" stroke-opacity="0.75" stroke-width="0.9"/><path d="M1130.0 711.1l8.4 -2.6 -8.4 2.8 -8.4 2.5z" fill="#1e8e29" stroke="#197421" stroke-opacity="0.75" stroke-width="0.9"/><path d="M1146.9 706.1l8.4 -2.6 -8.5 2.4 -8.4 2.6z" fill="#518706" stroke-opacity="0.07"/><path d="M1163.8 701.4l8.4 -2.7 -8.5 2.1 -8.4 2.7z" fill="#6f9a03" stroke-opacity="0.19"/><path d="M1054.9 735.8l8.3 -2.4 -8.2 3.9 -8.3 2.3z" fill="#2ac237" stroke="#197421" stroke-opacity="0.75" stroke-width="0.9"/><path d="M1071.5 729.9l8.3 -2.4 -8.3 3.6 -8.3 2.3z" fill="#27b534" stroke="#197421" stroke-opacity="0.75" stroke-width="0.9"/><path d="M1088.2 724.3l8.3 -2.5 -8.3 3.3 -8.4 2.4z" fill="#24a730" stroke="#197421" stroke-opacity="0.75" stroke-width="0.9"/><path d="M1104.9 718.9l8.3 -2.6 -8.3 3 -8.4 2.5z" fill="#21992c" stroke="#197421" stroke-opacity="0.75" stroke-width="0.9"/><path d="M1121.7 713.7l8.3 -2.6 -8.4 2.7 -8.4 2.5z" fill="#1e8c28" stroke="#197421" stroke-opacity="0.75" stroke-width="0.9"/><path d="M1138.5 708.8l8.4 -2.7 -8.5 2.4 -8.4 2.6z" fill="#528906" stroke-opacity="0.09"/><path d="M1155.4 704.1l8.4 -2.7 -8.5 2.1 -8.4 2.6z" fill="#709c03" stroke-opacity="0.21"/><path d="M1172.3 699.6l8.4 -2.7 -8.5 1.8 -8.4 2.7z" fill="#8faf00" stroke-opacity="0.34"/><path d="M1046.6 738.2l8.3 -2.4 -8.2 3.8 -8.4 2.4z" fill="#29c037" stroke="#197421" stroke-opacity="0.75" stroke-width="0.9"/><path d="M1063.1 732.4l8.4 -2.5 -8.3 3.5 -8.3 2.4z" fill="#26b233" stroke="#197421" stroke-opacity="0.75" stroke-width="0.9"/><path d="M1079.8 726.8l8.4 -2.5 -8.4 3.2 -8.3 2.4z" fill="#23a52f" stroke="#197421" stroke-opacity="0.75" stroke-width="0.9"/><path d="M1096.5 721.4l8.4 -2.5 -8.4 2.9 -8.3 2.5z" fill="#20972b" stroke="#197421" stroke-opacity="0.75" stroke-width="0.9"/><path d="M1113.3 716.3l8.4 -2.6 -8.5 2.6 -8.3 2.6z" fill="#1d8927" stroke="#197421" stroke-opacity="0.75" stroke-width="0.9"/><path d="M1130.1 711.4l8.4 -2.6 -8.5 2.3 -8.3 2.6z" fill="#538b06" stroke-opacity="0.12"/><path d="M1147.0 706.8l8.4 -2.7 -8.5 2 -8.4 2.7z" fill="#719e03" stroke-opacity="0.24"/><path d="M1163.9 702.4l8.4 -2.8 -8.5 1.8 -8.4 2.7z" fill="#90b100" stroke-opacity="0.36"/><path d="M1180.8 698.3l8.4 -2.8 -8.5 1.4 -8.4 2.7z" fill="#a9c100" stroke-opacity="0.49"/><path d="M1038.2 740.6l8.4 -2.4 -8.3 3.8 -8.3 2.3z" fill="#29bd36" stroke="#197421" stroke-opacity="0.75" stroke-width="0.9"/><path d="M1054.8 734.8l8.3 -2.4 -8.2 3.4 -8.3 2.4z" fill="#26b032" stroke="#197421" stroke-opacity="0.75" stroke-width="0.9"/><path d="M1071.4 729.3l8.4 -2.5 -8.3 3.1 -8.4 2.5z" fill="#23a22e" stroke="#197421" stroke-opacity="0.75" stroke-width="0.9"/><path d="M1088.1 724.0l8.4 -2.6 -8.3 2.9 -8.4 2.5z" fill="#20942a" stroke="#197421" stroke-opacity="0.75" stroke-width="0.9"/><path d="M1104.9 718.9l8.4 -2.6 -8.4 2.6 -8.4 2.5z" fill="#397c0a" stroke-opacity="0.02"/><path d="M1121.7 714.1l8.4 -2.7 -8.4 2.3 -8.4 2.6z" fill="#548d06" stroke-opacity="0.14"/><path d="M1138.6 709.5l8.4 -2.7 -8.5 2 -8.4 2.6z" fill="#72a003" stroke-opacity="0.26"/><path d="M1155.4 705.2l8.5 -2.8 -8.5 1.7 -8.4 2.7z" fill="#91b400" stroke-opacity="0.39"/><path d="M1172.4 701.2l8.4 -2.9 -8.5 1.3 -8.4 2.8z" fill="#abc300" stroke-opacity="0.51"/><path d="M1189.3 697.4l8.5 -3 -8.6 1.1 -8.4 2.8z" fill="#c6d100"/><path d="M1029.9 743.0l8.3 -2.4 -8.2 3.7 -8.3 2.3z" fill="#28bb35" stroke="#197421" stroke-opacity="0.75" stroke-width="0.9"/><path d="M1046.5 737.3l8.3 -2.5 -8.2 3.4 -8.4 2.4z" fill="#25ad32" stroke="#197421" stroke-opacity="0.75" stroke-width="0.9"/><path d="M1063.1 731.8l8.3 -2.5 -8.3 3.1 -8.3 2.4z" fill="#22a02e" stroke="#197421" stroke-opacity="0.75" stroke-width="0.9"/><path d="M1079.8 726.5l8.3 -2.5 -8.3 2.8 -8.4 2.5z" fill="#1f922a" stroke="#197421" stroke-opacity="0.75" stroke-width="0.9"/><path d="M1096.5 721.5l8.4 -2.6 -8.4 2.5 -8.4 2.6z" fill="#3a7e0b" stroke-opacity="0.04"/><path d="M1113.3 716.8l8.4 -2.7 -8.4 2.2 -8.4 2.6z" fill="#548f06" stroke-opacity="0.16"/><path d="M1130.1 712.3l8.5 -2.8 -8.5 1.9 -8.4 2.7z" fill="#73a303" stroke-opacity="0.29"/><path d="M1147.0 708.0l8.4 -2.8 -8.4 1.6 -8.4 2.7z" fill="#93b600" stroke-opacity="0.41"/><path d="M1163.9 704.0l8.5 -2.8 -8.5 1.2 -8.5 2.8z" fill="#acc600" stroke-opacity="0.54"/><path d="M1180.9 700.3l8.4 -2.9 -8.5 .9 -8.4 2.9z" fill="#c7d300"/><path d="M1197.9 696.8l8.4 -3 -8.5 .6 -8.5 3z" fill="#e4de00"/><path d="M1021.6 745.4l8.3 -2.4 -8.2 3.6 -8.3 2.4z" fill="#28b835" stroke="#197421" stroke-opacity="0.75" stroke-width="0.9"/><path d="M1038.1 739.7l8.4 -2.4 -8.3 3.3 -8.3 2.4z" fill="#25ab31" stroke="#197421" stroke-opacity="0.75" stroke-width="0.9"/><path d="M1054.7 734.3l8.4 -2.5 -8.3 3 -8.3 2.5z" fill="#229d2d" stroke="#197421" stroke-opacity="0.75" stroke-width="0.9"/><path d="M1071.4 729.1l8.4 -2.6 -8.4 2.8 -8.3 2.5z" fill="#1f8f29" stroke="#197421" stroke-opacity="0.75" stroke-width="0.9"/><path d="M1088.1 724.2l8.4 -2.7 -8.4 2.5 -8.3 2.5z" fill="#3a800b" stroke-opacity="0.07"/><path d="M1104.9 719.5l8.4 -2.7 -8.4 2.1 -8.4 2.6z" fill="#559106" stroke-opacity="0.19"/><path d="M1121.7 715.0l8.4 -2.7 -8.4 1.8 -8.4 2.7z" fill="#73a404" stroke-opacity="0.31"/><path d="M1138.6 710.8l8.4 -2.8 -8.4 1.5 -8.5 2.8z" fill="#94b900" stroke-opacity="0.44"/><path d="M1155.5 706.9l8.4 -2.9 -8.5 1.2 -8.4 2.8z" fill="#adc800"/><path d="M1172.5 703.2l8.4 -2.9 -8.5 .9 -8.5 2.8z" fill="#c8d700"/><path d="M1189.4 699.8l8.5 -3 -8.6 .6 -8.4 2.9z" fill="#e6e200"/><path d="M1206.4 696.6l8.5 -3 -8.6 .2 -8.4 3z" fill="#f6e500"/><path d="M1013.2 747.8l8.4 -2.4 -8.2 3.6 -8.3 2.3z" fill="#27b634" stroke="#197421" stroke-opacity="0.75" stroke-width="0.9"/><path d="M1029.8 742.2l8.3 -2.5 -8.2 3.3 -8.3 2.4z" fill="#24a830" stroke="#197421" stroke-opacity="0.75" stroke-width="0.9"/><path d="M1046.4 736.8l8.3 -2.5 -8.2 3 -8.4 2.4z" fill="#219a2c" stroke="#197421" stroke-opacity="0.75" stroke-width="0.9"/><path d="M1063.1 731.7l8.3 -2.6 -8.3 2.7 -8.4 2.5z" fill="#1e8c28" stroke="#197421" stroke-opacity="0.75" stroke-width="0.9"/><path d="M1079.8 726.8l8.3 -2.6 -8.3 2.3 -8.4 2.6z" fill="#3b810b" stroke-opacity="0.09"/><path d="M1096.5 722.2l8.4 -2.7 -8.4 2 -8.4 2.7z" fill="#559306" stroke-opacity="0.21"/><path d="M1113.3 717.8l8.4 -2.8 -8.4 1.8 -8.4 2.7z" fill="#74a704" stroke-opacity="0.34"/><path d="M1130.2 713.7l8.4 -2.9 -8.5 1.5 -8.4 2.7z" fill="#94bb00" stroke-opacity="0.47"/><path d="M1147.1 709.8l8.4 -2.9 -8.5 1.1 -8.4 2.8z" fill="#aeca00"/><path d="M1164.0 706.2l8.5 -3 -8.6 .8 -8.4 2.9z" fill="#c9da00"/><path d="M1181.0 702.8l8.4 -3 -8.5 .5 -8.4 2.9z" fill="#e7e500"/><path d="M1198.0 699.7l8.4 -3.1 -8.5 .2 -8.5 3z" fill="#f7e700"/><path d="M1215.0 696.9l8.4 -3.2 -8.5 -.1 -8.5 3z" fill="#f7db00"/><path d="M1004.9 750.3l8.3 -2.5 -8.1 3.5 -8.3 2.4z" fill="#26b333" stroke="#197421" stroke-opacity="0.75" stroke-width="0.9"/><path d="M1038.0 739.4l8.4 -2.6 -8.3 2.9 -8.3 2.5z" fill="#20982b" stroke="#197421" stroke-opacity="0.75" stroke-width="0.9"/><path d="M1054.7 734.3l8.4 -2.6 -8.4 2.6 -8.3 2.5z" fill="#1d8927" stroke="#197421" stroke-opacity="0.75" stroke-width="0.9"/><path d="M1071.4 729.5l8.4 -2.7 -8.4 2.3 -8.3 2.6z" fill="#3c840c" stroke-opacity="0.11"/><path d="M1088.1 724.9l8.4 -2.7 -8.4 2 -8.3 2.6z" fill="#569507" stroke-opacity="0.24"/><path d="M1121.8 716.5l8.4 -2.8 -8.5 1.3 -8.4 2.8z" fill="#95bc01" stroke-opacity="0.49"/><path d="M1155.6 709.2l8.4 -3 -8.5 .7 -8.4 2.9z" fill="#cadd00"/><path d="M1172.5 705.9l8.5 -3.1 -8.5 .4 -8.5 3z" fill="#e8e800"/><path d="M1189.5 702.8l8.5 -3.1 -8.6 .1 -8.4 3z" fill="#f6e900"/><path d="M1206.5 700.1l8.5 -3.2 -8.6 -.3 -8.4 3.1z" fill="#f8df00"/><path d="M1021.4 744.7l8.4 -2.5 -8.2 3.2 -8.4 2.4z" fill="#23a62f" stroke="#197421" stroke-opacity="0.75" stroke-width="0.9"/><path d="M1104.9 720.6l8.4 -2.8 -8.4 1.7 -8.4 2.7z" fill="#75a804" stroke-opacity="0.36"/><path d="M1138.7 712.7l8.4 -2.9 -8.5 1 -8.4 2.9z" fill="#b0cd00"/><path d="M1223.5 697.6l8.5 -3.3 -8.6 -.6 -8.4 3.2z" fill="#f6cc00"/><path d="M996.6 752.7l8.3 -2.4 -8.1 3.4 -8.3 2.4z" fill="#26b133" stroke="#197421" stroke-opacity="0.75" stroke-width="0.9"/><path d="M1013.1 747.2l8.3 -2.5 -8.2 3.1 -8.3 2.5z" fill="#23a32f" stroke="#197421" stroke-opacity="0.75" stroke-width="0.9"/><path d="M1029.7 741.9l8.3 -2.5 -8.2 2.8 -8.4 2.5z" fill="#20952b" stroke="#197421" stroke-opacity="0.75" stroke-width="0.9"/><path d="M1046.3 736.9l8.4 -2.6 -8.3 2.5 -8.4 2.6z" fill="#247510" stroke-opacity="0.02"/><path d="M1063.0 732.1l8.4 -2.6 -8.3 2.2 -8.4 2.6z" fill="#3d860c" stroke-opacity="0.14"/><path d="M1079.8 727.6l8.3 -2.7 -8.3 1.9 -8.4 2.7z" fill="#579707" stroke-opacity="0.26"/><path d="M1096.5 723.4l8.4 -2.8 -8.4 1.6 -8.4 2.7z" fill="#75ab04" stroke-opacity="0.39"/><path d="M1113.4 719.4l8.4 -2.9 -8.5 1.3 -8.4 2.8z" fill="#95bf01" stroke-opacity="0.52"/><path d="M1130.2 715.6l8.5 -2.9 -8.5 1 -8.4 2.8z" fill="#b1d000"/><path d="M1147.2 712.1l8.4 -2.9 -8.5 .6 -8.4 2.9z" fill="#cae000"/><path d="M1164.1 708.9l8.4 -3 -8.5 .3 -8.4 3z" fill="#e8ec00"/><path d="M1181.0 705.9l8.5 -3.1 -8.5 0 -8.5 3.1z" fill="#f6eb00"/><path d="M1198.0 703.2l8.5 -3.1 -8.5 -.4 -8.5 3.1z" fill="#f8e200"/><path d="M1215.0 700.8l8.5 -3.2 -8.5 -.7 -8.5 3.2z" fill="#f7d100"/><path d="M1232.0 698.6l8.5 -3.3 -8.5 -1 -8.5 3.3z" fill="#f5c100"/><path d="M988.3 755.1l8.3 -2.4 -8.1 3.4 -8.4 2.3z" fill="#25ae32" stroke="#197421" stroke-opacity="0.75" stroke-width="0.9"/><path d="M1004.8 749.7l8.3 -2.5 -8.2 3.1 -8.3 2.4z" fill="#22a02e" stroke="#197421" stroke-opacity="0.75" stroke-width="0.9"/><path d="M1021.3 744.5l8.4 -2.6 -8.3 2.8 -8.3 2.5z" fill="#1f922a" stroke="#197421" stroke-opacity="0.75" stroke-width="0.9"/><path d="M1038.0 739.5l8.3 -2.6 -8.3 2.5 -8.3 2.5z" fill="#247711" stroke-opacity="0.04"/><path d="M1054.6 734.8l8.4 -2.7 -8.3 2.2 -8.4 2.6z" fill="#3d880c" stroke-opacity="0.16"/><path d="M1071.4 730.4l8.4 -2.8 -8.4 1.9 -8.4 2.6z" fill="#579907" stroke-opacity="0.29"/><path d="M1088.2 726.2l8.3 -2.8 -8.4 1.5 -8.3 2.7z" fill="#76ad04" stroke-opacity="0.42"/><path d="M1105.0 722.2l8.4 -2.8 -8.5 1.2 -8.4 2.8z" fill="#97c101" stroke-opacity="0.55"/><path d="M1121.8 718.5l8.4 -2.9 -8.4 .9 -8.4 2.9z" fill="#b2d200"/><path d="M1138.7 715.1l8.5 -3 -8.5 .6 -8.5 2.9z" fill="#cce300"/><path d="M1155.6 712.0l8.5 -3.1 -8.5 .3 -8.4 2.9z" fill="#e9ef00"/><path d="M1172.6 709.1l8.4 -3.2 -8.5 0 -8.4 3z" fill="#f6ec00"/><path d="M1189.6 706.4l8.4 -3.2 -8.5 -.4 -8.5 3.1z" fill="#f7e400"/><path d="M1206.5 704.1l8.5 -3.3 -8.5 -.7 -8.5 3.1z" fill="#f7d500"/><path d="M1223.5 702.0l8.5 -3.4 -8.5 -1 -8.5 3.2z" fill="#f6c600"/><path d="M1240.5 700.1l8.5 -3.4 -8.5 -1.4 -8.5 3.3z" fill="#f4b800"/><path d="M979.9 757.6l8.4 -2.5 -8.2 3.3 -8.3 2.4z" fill="#25ac31" stroke="#197421" stroke-opacity="0.75" stroke-width="0.9"/><path d="M996.4 752.2l8.4 -2.5 -8.2 3 -8.3 2.4z" fill="#229e2d" stroke="#197421" stroke-opacity="0.75" stroke-width="0.9"/><path d="M1013.0 747.0l8.3 -2.5 -8.2 2.7 -8.3 2.5z" fill="#1f8f29" stroke="#197421" stroke-opacity="0.75" stroke-width="0.9"/><path d="M1029.6 742.1l8.4 -2.6 -8.3 2.4 -8.4 2.6z" fill="#247912" stroke-opacity="0.06"/><path d="M1046.3 737.5l8.3 -2.7 -8.3 2.1 -8.3 2.6z" fill="#3d8a0d" stroke-opacity="0.19"/><path d="M1063.0 733.1l8.4 -2.7 -8.4 1.7 -8.4 2.7z" fill="#589b07" stroke-opacity="0.32"/><path d="M1079.8 729.0l8.4 -2.8 -8.4 1.4 -8.4 2.8z" fill="#77af05" stroke-opacity="0.44"/><path d="M1096.6 725.1l8.4 -2.9 -8.5 1.2 -8.3 2.8z" fill="#97c301"/><path d="M1113.4 721.5l8.4 -3 -8.4 .9 -8.4 2.8z" fill="#b3d500"/><path d="M1130.3 718.1l8.4 -3 -8.5 .5 -8.4 2.9z" fill="#cde400"/><path d="M1147.2 715.0l8.4 -3 -8.4 .1 -8.5 3z" fill="#e9f100"/><path d="M1164.1 712.2l8.5 -3.1 -8.5 -.2 -8.5 3.1z" fill="#f5ee00"/><path d="M1181.1 709.7l8.5 -3.3 -8.6 -.5 -8.4 3.2z" fill="#f7e500"/><path d="M1198.1 707.4l8.4 -3.3 -8.5 -.9 -8.4 3.2z" fill="#f7da00"/><path d="M1215.1 705.3l8.4 -3.3 -8.5 -1.2 -8.5 3.3z" fill="#f6cb00"/><path d="M1232.1 703.6l8.4 -3.5 -8.5 -1.5 -8.5 3.4z" fill="#f5bf00"/><path d="M1249.1 702.1l8.4 -3.5 -8.5 -1.9 -8.5 3.4z" fill="#f3b300"/><path d="M971.6 760.0l8.3 -2.4 -8.1 3.2 -8.3 2.4z" fill="#24a930" stroke="#197421" stroke-opacity="0.75" stroke-width="0.9"/><path d="M988.1 754.7l8.3 -2.5 -8.1 2.9 -8.4 2.5z" fill="#219b2c" stroke="#197421" stroke-opacity="0.75" stroke-width="0.9"/><path d="M1004.6 749.6l8.4 -2.6 -8.2 2.7 -8.4 2.5z" fill="#1e8d28" stroke="#197421" stroke-opacity="0.75" stroke-width="0.9"/><path d="M1021.2 744.8l8.4 -2.7 -8.3 2.4 -8.3 2.5z" fill="#257a12" stroke-opacity="0.09"/><path d="M1037.9 740.2l8.4 -2.7 -8.3 2 -8.4 2.6z" fill="#3d8b0d" stroke-opacity="0.22"/><path d="M1054.6 735.9l8.4 -2.8 -8.4 1.7 -8.3 2.7z" fill="#589d07" stroke-opacity="0.34"/><path d="M1071.4 731.8l8.4 -2.8 -8.4 1.4 -8.4 2.7z" fill="#77b105" stroke-opacity="0.47"/><path d="M1088.2 728.0l8.4 -2.9 -8.4 1.1 -8.4 2.8z" fill="#97c502"/><path d="M1105.0 724.4l8.4 -2.9 -8.4 .7 -8.4 2.9z" fill="#b4d700"/><path d="M1121.9 721.2l8.4 -3.1 -8.5 .4 -8.4 3z" fill="#cee700"/><path d="M1138.8 718.1l8.4 -3.1 -8.5 .1 -8.4 3z" fill="#e6f100"/><path d="M1155.7 715.4l8.4 -3.2 -8.5 -.2 -8.4 3z" fill="#f5f000"/><path d="M1172.6 712.9l8.5 -3.2 -8.5 -.6 -8.5 3.1z" fill="#f7e700"/><path d="M1189.6 710.7l8.5 -3.3 -8.5 -1 -8.5 3.3z" fill="#f8df00"/><path d="M1206.6 708.7l8.5 -3.4 -8.6 -1.2 -8.4 3.3z" fill="#f7d000"/><path d="M1223.6 707.0l8.5 -3.4 -8.6 -1.6 -8.4 3.3z" fill="#f6c400"/><path d="M1240.6 705.6l8.5 -3.5 -8.6 -2 -8.4 3.5z" fill="#f4ba00"/><path d="M1257.5 704.4l8.5 -3.6 -8.5 -2.2 -8.4 3.5z" fill="#f3b100"/><path d="M963.3 762.5l8.3 -2.5 -8.1 3.2 -8.3 2.4z" fill="#24a630" stroke="#197421" stroke-opacity="0.75" stroke-width="0.9"/><path d="M996.3 752.2l8.3 -2.6 -8.2 2.6 -8.3 2.5z" fill="#1e8a27" stroke="#197421" stroke-opacity="0.75" stroke-width="0.9"/><path d="M1012.9 747.4l8.3 -2.6 -8.2 2.2 -8.4 2.6z" fill="#257c12" stroke-opacity="0.11"/><path d="M1029.5 742.9l8.4 -2.7 -8.3 1.9 -8.4 2.7z" fill="#3e8d0d" stroke-opacity="0.24"/><path d="M1046.2 738.6l8.4 -2.7 -8.3 1.6 -8.4 2.7z" fill="#599f08" stroke-opacity="0.37"/><path d="M1079.8 730.9l8.4 -2.9 -8.4 1 -8.4 2.8z" fill="#98c702"/><path d="M1096.6 727.4l8.4 -3 -8.4 .7 -8.4 2.9z" fill="#b5d900"/><path d="M1113.4 724.2l8.5 -3 -8.5 .3 -8.4 2.9z" fill="#cee900"/><path d="M1130.3 721.2l8.5 -3.1 -8.5 0 -8.4 3.1z" fill="#e4f100"/><path d="M1147.2 718.5l8.5 -3.1 -8.5 -.4 -8.4 3.1z" fill="#f3f000"/><path d="M1164.2 716.1l8.4 -3.2 -8.5 -.7 -8.4 3.2z" fill="#f6e900"/><path d="M1198.1 712.1l8.5 -3.4 -8.5 -1.3 -8.5 3.3z" fill="#f7d600"/><path d="M1215.1 710.5l8.5 -3.5 -8.5 -1.7 -8.5 3.4z" fill="#f6ca00"/><path d="M1232.1 709.1l8.5 -3.5 -8.5 -2 -8.5 3.4z" fill="#f5c100"/><path d="M1266.0 707.3l8.5 -3.7 -8.5 -2.8 -8.5 3.6z" fill="#f4b500"/><path d="M979.7 757.2l8.4 -2.5 -8.2 2.9 -8.3 2.4z" fill="#21982b" stroke="#197421" stroke-opacity="0.75" stroke-width="0.9"/><path d="M1063.0 734.6l8.4 -2.8 -8.4 1.3 -8.4 2.8z" fill="#78b205" stroke-opacity="0.50"/><path d="M1181.1 714.0l8.5 -3.3 -8.5 -1 -8.5 3.2z" fill="#f8e200"/><path d="M1249.0 708.1l8.5 -3.7 -8.4 -2.3 -8.5 3.5z" fill="#f4ba00"/><path d="M954.9 765.0l8.4 -2.5 -8.1 3.1 -8.3 2.4z" fill="#23a42f" stroke="#197421" stroke-opacity="0.75" stroke-width="0.9"/><path d="M971.4 759.8l8.3 -2.6 -8.1 2.8 -8.3 2.5z" fill="#20952b" stroke="#197421" stroke-opacity="0.75" stroke-width="0.9"/><path d="M987.9 754.8l8.4 -2.6 -8.2 2.5 -8.4 2.5z" fill="#1b7316" stroke-opacity="0.01"/><path d="M1004.5 750.1l8.4 -2.7 -8.3 2.2 -8.3 2.6z" fill="#267e12" stroke-opacity="0.14"/><path d="M1021.2 745.6l8.3 -2.7 -8.3 1.9 -8.3 2.6z" fill="#3f900e" stroke-opacity="0.27"/><path d="M1037.8 741.4l8.4 -2.8 -8.3 1.6 -8.4 2.7z" fill="#59a108" stroke-opacity="0.40"/><path d="M1054.6 737.5l8.4 -2.9 -8.4 1.3 -8.4 2.7z" fill="#78b505" stroke-opacity="0.53"/><path d="M1071.4 733.8l8.4 -2.9 -8.4 .9 -8.4 2.8z" fill="#97c902"/><path d="M1088.2 730.4l8.4 -3 -8.4 .6 -8.4 2.9z" fill="#b6dc00"/><path d="M1105.0 727.2l8.4 -3 -8.4 .2 -8.4 3z" fill="#d0ec00"/><path d="M1121.9 724.3l8.4 -3.1 -8.4 0 -8.5 3z" fill="#e1f200"/><path d="M1138.8 721.7l8.4 -3.2 -8.4 -.4 -8.5 3.1z" fill="#f0f000"/><path d="M1155.7 719.4l8.5 -3.3 -8.5 -.7 -8.5 3.1z" fill="#f6eb00"/><path d="M1172.7 717.3l8.4 -3.3 -8.5 -1.1 -8.4 3.2z" fill="#f7e400"/><path d="M1189.6 715.5l8.5 -3.4 -8.5 -1.4 -8.5 3.3z" fill="#f7db00"/><path d="M1206.6 714.0l8.5 -3.5 -8.5 -1.8 -8.5 3.4z" fill="#f7d000"/><path d="M1223.6 712.7l8.5 -3.6 -8.5 -2.1 -8.5 3.5z" fill="#f6c700"/><path d="M1240.5 711.7l8.5 -3.6 -8.4 -2.5 -8.5 3.5z" fill="#f5c100"/><path d="M1257.5 711.0l8.5 -3.7 -8.5 -2.9 -8.5 3.7z" fill="#f5bd00"/><path d="M1274.5 710.5l8.5 -3.8 -8.5 -3.1 -8.5 3.7z" fill="#f5bc00"/><path d="M979.6 757.4l8.3 -2.6 -8.2 2.4 -8.3 2.6z" fill="#1b7516" stroke-opacity="0.04"/><path d="M1012.8 748.3l8.4 -2.7 -8.3 1.8 -8.4 2.7z" fill="#3f910e" stroke-opacity="0.29"/><path d="M1096.6 730.3l8.4 -3.1 -8.4 .2 -8.4 3z" fill="#d1f000"/><path d="M1147.3 722.7l8.4 -3.3 -8.5 -.9 -8.4 3.2z" fill="#f6ed00"/><path d="M1232.1 715.4l8.4 -3.7 -8.4 -2.6 -8.5 3.6z" fill="#f6c800"/><path d="M1266.0 714.4l8.5 -3.9 -8.5 -3.2 -8.5 3.7z" fill="#f6c400"/><path d="M963.1 762.3l8.3 -2.5 -8.1 2.7 -8.4 2.5z" fill="#1f922a" stroke="#197421" stroke-opacity="0.75" stroke-width="0.9"/><path d="M996.2 752.7l8.3 -2.6 -8.2 2.1 -8.4 2.6z" fill="#258013" stroke-opacity="0.17"/><path d="M1029.5 744.2l8.3 -2.8 -8.3 1.5 -8.3 2.7z" fill="#59a309" stroke-opacity="0.42"/><path d="M1046.2 740.3l8.4 -2.8 -8.4 1.1 -8.4 2.8z" fill="#78b706"/><path d="M1063.0 736.7l8.4 -2.9 -8.4 .8 -8.4 2.9z" fill="#97cc03"/><path d="M1079.8 733.4l8.4 -3 -8.4 .5 -8.4 2.9z" fill="#b7df00"/><path d="M1113.5 727.5l8.4 -3.2 -8.5 -.1 -8.4 3z" fill="#def200"/><path d="M1130.4 724.9l8.4 -3.2 -8.5 -.5 -8.4 3.1z" fill="#edf100"/><path d="M1164.2 720.7l8.5 -3.4 -8.5 -1.2 -8.5 3.3z" fill="#f7e600"/><path d="M1181.2 718.9l8.4 -3.4 -8.5 -1.5 -8.4 3.3z" fill="#f8e000"/><path d="M1198.1 717.5l8.5 -3.5 -8.5 -1.9 -8.5 3.4z" fill="#f7d500"/><path d="M1215.1 716.3l8.5 -3.6 -8.5 -2.2 -8.5 3.5z" fill="#f6cd00"/><path d="M1249.0 714.7l8.5 -3.7 -8.5 -2.9 -8.5 3.6z" fill="#f6c500"/><path d="M971.2 760.0l8.4 -2.6 -8.2 2.4 -8.3 2.5z" fill="#1c7717" stroke-opacity="0.06"/><path d="M987.8 755.4l8.4 -2.7 -8.3 2.1 -8.3 2.6z" fill="#258213" stroke-opacity="0.19"/><path d="M1004.4 751.1l8.4 -2.8 -8.3 1.8 -8.3 2.6z" fill="#3f930f" stroke-opacity="0.32"/><path d="M1021.1 747.0l8.4 -2.8 -8.3 1.4 -8.4 2.7z" fill="#5aa509" stroke-opacity="0.45"/><path d="M1037.8 743.2l8.4 -2.9 -8.4 1.1 -8.3 2.8z" fill="#78b906"/><path d="M1054.6 739.7l8.4 -3 -8.4 .8 -8.4 2.8z" fill="#98ce03"/><path d="M1071.3 736.4l8.5 -3 -8.4 .4 -8.4 2.9z" fill="#b7e100"/><path d="M1088.2 733.4l8.4 -3.1 -8.4 .1 -8.4 3z" fill="#cfef00"/><path d="M1105.0 730.6l8.5 -3.1 -8.5 -.3 -8.4 3.1z" fill="#dcf200"/><path d="M1121.9 728.1l8.5 -3.2 -8.5 -.6 -8.4 3.2z" fill="#eaf100"/><path d="M1138.8 725.9l8.5 -3.2 -8.5 -1 -8.4 3.2z" fill="#f5ef00"/><path d="M1155.8 724.0l8.4 -3.3 -8.5 -1.3 -8.4 3.3z" fill="#f7e800"/><path d="M1172.7 722.4l8.5 -3.5 -8.5 -1.6 -8.5 3.4z" fill="#f8e300"/><path d="M1189.7 721.0l8.4 -3.5 -8.5 -2 -8.4 3.4z" fill="#f8db00"/><path d="M1206.6 719.9l8.5 -3.6 -8.5 -2.3 -8.5 3.5z" fill="#f7d400"/><path d="M1223.6 719.1l8.5 -3.7 -8.5 -2.7 -8.5 3.6z" fill="#f6ce00"/><path d="M1240.5 718.5l8.5 -3.8 -8.5 -3 -8.4 3.7z" fill="#f6cc00"/><path d="M1257.4 718.2l8.6 -3.8 -8.5 -3.4 -8.5 3.7z" fill="#f6cb00"/><path d="M979.4 758.1l8.4 -2.7 -8.2 2 -8.4 2.6z" fill="#268414" stroke-opacity="0.22"/><path d="M1096.6 733.8l8.4 -3.2 -8.4 -.3 -8.4 3.1z" fill="#daf200"/><path d="M1113.5 731.4l8.4 -3.3 -8.4 -.6 -8.5 3.1z" fill="#e7f100"/><path d="M1147.3 727.4l8.5 -3.4 -8.5 -1.3 -8.5 3.2z" fill="#f6eb00"/><path d="M1181.2 724.5l8.5 -3.5 -8.5 -2.1 -8.5 3.5z" fill="#f8e100"/><path d="M1232.0 722.3l8.5 -3.8 -8.4 -3.1 -8.5 3.7z" fill="#f7d300"/><path d="M996.0 753.8l8.4 -2.7 -8.2 1.6 -8.4 2.7z" fill="#3f960f" stroke-opacity="0.35"/><path d="M1012.7 749.8l8.4 -2.8 -8.3 1.3 -8.4 2.8z" fill="#59a80a" stroke-opacity="0.48"/><path d="M1029.4 746.1l8.4 -2.9 -8.3 1 -8.4 2.8z" fill="#78bb06"/><path d="M1046.2 742.6l8.4 -2.9 -8.4 .6 -8.4 2.9z" fill="#98d003"/><path d="M1062.9 739.4l8.4 -3 -8.3 .3 -8.4 3z" fill="#b9e400"/><path d="M1079.8 736.5l8.4 -3.1 -8.4 0 -8.5 3z" fill="#cdef00"/><path d="M1130.4 729.3l8.4 -3.4 -8.4 -1 -8.5 3.2z" fill="#f3f000"/><path d="M1164.2 725.8l8.5 -3.4 -8.5 -1.7 -8.4 3.3z" fill="#f7e500"/><path d="M1198.1 723.5l8.5 -3.6 -8.5 -2.4 -8.4 3.5z" fill="#f7da00"/><path d="M1215.1 722.8l8.5 -3.7 -8.5 -2.8 -8.5 3.6z" fill="#f7d500"/><path d="M1248.9 722.1l8.5 -3.9 -8.4 -3.5 -8.5 3.8z" fill="#f7d300"/><path d="M987.7 756.6l8.3 -2.8 -8.2 1.6 -8.4 2.7z" fill="#3f970f" stroke-opacity="0.37"/><path d="M1004.3 752.7l8.4 -2.9 -8.3 1.3 -8.4 2.7z" fill="#5aa90b" stroke-opacity="0.51"/><path d="M1037.8 745.6l8.4 -3 -8.4 .6 -8.4 2.9z" fill="#97d104"/><path d="M1054.5 742.4l8.4 -3 -8.3 .3 -8.4 2.9z" fill="#b8e600"/><path d="M1071.3 739.6l8.5 -3.1 -8.5 -.1 -8.4 3z" fill="#cbef00"/><path d="M1088.2 737.0l8.4 -3.2 -8.4 -.4 -8.4 3.1z" fill="#d7f100"/><path d="M1105.1 734.6l8.4 -3.2 -8.5 -.8 -8.4 3.2z" fill="#e4f100"/><path d="M1122.0 732.6l8.4 -3.3 -8.5 -1.2 -8.4 3.3z" fill="#f0f000"/><path d="M1138.9 730.8l8.4 -3.4 -8.5 -1.5 -8.4 3.4z" fill="#f6ed00"/><path d="M1155.8 729.3l8.4 -3.5 -8.4 -1.8 -8.5 3.4z" fill="#f7e800"/><path d="M1172.7 728.1l8.5 -3.6 -8.5 -2.1 -8.5 3.4z" fill="#f7e400"/><path d="M1189.7 727.1l8.4 -3.6 -8.4 -2.5 -8.5 3.5z" fill="#f8e000"/><path d="M1206.6 726.5l8.5 -3.7 -8.5 -2.9 -8.5 3.6z" fill="#f8dc00"/><path d="M1240.4 726.0l8.5 -3.9 -8.4 -3.6 -8.5 3.8z" fill="#f7db00"/><path d="M1021.0 749.0l8.4 -2.9 -8.3 .9 -8.4 2.8z" fill="#78bd06"/><path d="M1223.5 726.1l8.5 -3.8 -8.4 -3.2 -8.5 3.7z" fill="#f7da00"/><path d="M996.0 755.5l8.3 -2.8 -8.3 1.1 -8.3 2.8z" fill="#5aac0b" stroke-opacity="0.53"/><path d="M1012.6 751.9l8.4 -2.9 -8.3 .8 -8.4 2.9z" fill="#77bf07"/><path d="M1029.4 748.5l8.4 -2.9 -8.4 .5 -8.4 2.9z" fill="#97d304"/><path d="M1046.1 745.5l8.4 -3.1 -8.3 .2 -8.4 3z" fill="#b8e801"/><path d="M1062.9 742.7l8.4 -3.1 -8.4 -.2 -8.4 3z" fill="#c9ee00"/><path d="M1079.8 740.1l8.4 -3.1 -8.4 -.5 -8.5 3.1z" fill="#d5f100"/><path d="M1096.6 737.9l8.5 -3.3 -8.5 -.8 -8.4 3.2z" fill="#e1f200"/><path d="M1113.5 735.9l8.5 -3.3 -8.5 -1.2 -8.4 3.2z" fill="#edf100"/><path d="M1130.4 734.2l8.5 -3.4 -8.5 -1.5 -8.4 3.3z" fill="#f5ef00"/><path d="M1147.3 732.8l8.5 -3.5 -8.5 -1.9 -8.4 3.4z" fill="#f6ea00"/><path d="M1164.3 731.7l8.4 -3.6 -8.5 -2.3 -8.4 3.5z" fill="#f7e600"/><path d="M1181.2 730.8l8.5 -3.7 -8.5 -2.6 -8.5 3.6z" fill="#f8e300"/><path d="M1198.1 730.2l8.5 -3.7 -8.5 -3 -8.4 3.6z" fill="#f8e200"/><path d="M1215.0 729.9l8.5 -3.8 -8.4 -3.3 -8.5 3.7z" fill="#f8e100"/><path d="M1232.0 729.9l8.4 -3.9 -8.4 -3.7 -8.5 3.8z" fill="#f8e200"/><path d="M1021.0 751.5l8.4 -3 -8.4 .5 -8.4 2.9z" fill="#97d604"/><path d="M1054.5 745.8l8.4 -3.1 -8.4 -.3 -8.4 3.1z" fill="#c7ee00"/><path d="M1189.6 734.0l8.5 -3.8 -8.4 -3.1 -8.5 3.7z" fill="#f7e500"/><path d="M1223.5 733.8l8.5 -3.9 -8.5 -3.8 -8.5 3.8z" fill="#f7e500"/><path d="M1004.3 754.8l8.3 -2.9 -8.3 .8 -8.3 2.8z" fill="#77c107"/><path d="M1037.7 748.5l8.4 -3 -8.3 .1 -8.4 2.9z" fill="#b7e901"/><path d="M1071.4 743.3l8.4 -3.2 -8.5 -.5 -8.4 3.1z" fill="#d3f000"/><path d="M1088.2 741.2l8.4 -3.3 -8.4 -.9 -8.4 3.1z" fill="#def200"/><path d="M1105.1 739.3l8.4 -3.4 -8.4 -1.3 -8.5 3.3z" fill="#e9f100"/><path d="M1122.0 737.7l8.4 -3.5 -8.4 -1.6 -8.5 3.3z" fill="#f3f000"/><path d="M1138.9 736.3l8.4 -3.5 -8.4 -2 -8.5 3.4z" fill="#f6ed00"/><path d="M1155.8 735.3l8.5 -3.6 -8.5 -2.4 -8.5 3.5z" fill="#f6e900"/><path d="M1172.7 734.5l8.5 -3.7 -8.5 -2.7 -8.4 3.6z" fill="#f7e600"/><path d="M1206.6 733.8l8.4 -3.9 -8.4 -3.4 -8.5 3.7z" fill="#f7e400"/><path d="M1012.6 754.5l8.4 -3 -8.4 .4 -8.3 2.9z" fill="#97d805"/><path d="M1029.3 751.6l8.4 -3.1 -8.3 0 -8.4 3z" fill="#b4e801"/><path d="M1046.1 748.9l8.4 -3.1 -8.4 -.3 -8.4 3z" fill="#c5ed00"/><path d="M1062.9 746.6l8.5 -3.3 -8.5 -.6 -8.4 3.1z" fill="#d0f000"/><path d="M1079.8 744.5l8.4 -3.3 -8.4 -1.1 -8.4 3.2z" fill="#dbf200"/><path d="M1096.7 742.6l8.4 -3.3 -8.5 -1.4 -8.4 3.3z" fill="#e6f100"/><path d="M1147.3 738.9l8.5 -3.6 -8.5 -2.5 -8.4 3.5z" fill="#f6eb00"/><path d="M1164.3 738.2l8.4 -3.7 -8.4 -2.8 -8.5 3.6z" fill="#f6e900"/><path d="M1181.2 737.8l8.4 -3.8 -8.4 -3.2 -8.5 3.7z" fill="#f7e800"/><path d="M1198.1 737.6l8.5 -3.8 -8.5 -3.6 -8.5 3.8z" fill="#f7e700"/><path d="M1215.0 737.8l8.5 -4 -8.5 -3.9 -8.4 3.9z" fill="#f7e800"/><path d="M1113.5 741.1l8.5 -3.4 -8.5 -1.8 -8.4 3.4z" fill="#eff000"/><path d="M1130.4 739.8l8.5 -3.5 -8.5 -2.1 -8.4 3.5z" fill="#f5ef00"/><path d="M1020.9 754.7l8.4 -3.1 -8.3 -.1 -8.4 3z" fill="#b1e702"/><path d="M1071.4 747.8l8.4 -3.3 -8.4 -1.2 -8.5 3.3z" fill="#d8f100"/><path d="M1138.9 742.5l8.4 -3.6 -8.4 -2.6 -8.5 3.5z" fill="#f5ee00"/><path d="M1189.6 741.5l8.5 -3.9 -8.5 -3.6 -8.4 3.8z" fill="#f6eb00"/><path d="M1037.7 752.1l8.4 -3.2 -8.4 -.4 -8.4 3.1z" fill="#c2ed00"/><path d="M1054.5 749.8l8.4 -3.2 -8.4 -.8 -8.4 3.1z" fill="#ceef00"/><path d="M1088.2 746.0l8.5 -3.4 -8.5 -1.4 -8.4 3.3z" fill="#e2f200"/><path d="M1105.1 744.6l8.4 -3.5 -8.4 -1.8 -8.4 3.3z" fill="#ebf100"/><path d="M1122.0 743.4l8.4 -3.6 -8.4 -2.1 -8.5 3.4z" fill="#f3f000"/><path d="M1155.8 741.9l8.5 -3.7 -8.5 -2.9 -8.5 3.6z" fill="#f6ec00"/><path d="M1172.7 741.6l8.5 -3.8 -8.5 -3.3 -8.4 3.7z" fill="#f6eb00"/><path d="M1206.5 741.7l8.5 -3.9 -8.4 -4 -8.5 3.8z" fill="#f6ec00"/><path d="M1029.3 755.3l8.4 -3.2 -8.4 -.5 -8.4 3.1z" fill="#c0ec00"/><path d="M1046.1 753.1l8.4 -3.3 -8.4 -.9 -8.4 3.2z" fill="#ccef00"/><path d="M1062.9 751.1l8.5 -3.3 -8.5 -1.2 -8.4 3.2z" fill="#d6f100"/><path d="M1079.8 749.4l8.4 -3.4 -8.4 -1.5 -8.4 3.3z" fill="#dff200"/><path d="M1096.7 748.1l8.4 -3.5 -8.4 -2 -8.5 3.4z" fill="#e7f100"/><path d="M1113.6 747.0l8.4 -3.6 -8.5 -2.3 -8.4 3.5z" fill="#eef100"/><path d="M1130.4 746.1l8.5 -3.6 -8.5 -2.7 -8.4 3.6z" fill="#f4f000"/><path d="M1147.3 745.6l8.5 -3.7 -8.5 -3 -8.4 3.6z" fill="#f5ef00"/><path d="M1164.2 745.4l8.5 -3.8 -8.4 -3.4 -8.5 3.7z" fill="#f5ee00"/><path d="M1181.1 745.4l8.5 -3.9 -8.4 -3.7 -8.5 3.8z" fill="#f5ee00"/><path d="M1198.0 745.7l8.5 -4 -8.4 -4.1 -8.5 3.9z" fill="#f5ef00"/><path d="M1037.7 756.3l8.4 -3.2 -8.4 -1 -8.4 3.2z" fill="#c9ee00"/><path d="M1054.5 754.4l8.4 -3.3 -8.4 -1.3 -8.4 3.3z" fill="#d3f000"/><path d="M1071.4 752.9l8.4 -3.5 -8.4 -1.6 -8.5 3.3z" fill="#dbf200"/><path d="M1088.2 751.6l8.5 -3.5 -8.5 -2.1 -8.4 3.4z" fill="#e3f100"/><path d="M1105.1 750.5l8.5 -3.5 -8.5 -2.4 -8.4 3.5z" fill="#eaf100"/><path d="M1122.0 749.8l8.4 -3.7 -8.4 -2.7 -8.4 3.6z" fill="#eff000"/><path d="M1138.9 749.4l8.4 -3.8 -8.4 -3.1 -8.5 3.6z" fill="#f2f000"/><path d="M1155.8 749.2l8.4 -3.8 -8.4 -3.5 -8.5 3.7z" fill="#f4f000"/><path d="M1172.7 749.4l8.4 -4 -8.4 -3.8 -8.5 3.8z" fill="#f3f000"/><path d="M1189.6 749.8l8.4 -4.1 -8.4 -4.2 -8.5 3.9z" fill="#f1f000"/><path d="M1046.1 757.8l8.4 -3.4 -8.4 -1.3 -8.4 3.2z" fill="#d0f000"/><path d="M1079.8 755.1l8.4 -3.5 -8.4 -2.2 -8.4 3.5z" fill="#dff200"/><path d="M1096.7 754.1l8.4 -3.6 -8.4 -2.4 -8.5 3.5z" fill="#e6f100"/><path d="M1113.6 753.5l8.4 -3.7 -8.4 -2.8 -8.5 3.5z" fill="#eaf100"/><path d="M1130.5 753.1l8.4 -3.7 -8.5 -3.3 -8.4 3.7z" fill="#edf100"/><path d="M1147.3 753.1l8.5 -3.9 -8.5 -3.6 -8.4 3.8z" fill="#eef100"/><path d="M1164.2 753.3l8.5 -3.9 -8.5 -4 -8.4 3.8z" fill="#eef100"/><path d="M1181.1 753.8l8.5 -4 -8.5 -4.4 -8.4 4z" fill="#ebf100"/><path d="M1063.0 756.3l8.4 -3.4 -8.5 -1.8 -8.4 3.3z" fill="#d8f100"/><path d="M1054.5 759.8l8.5 -3.5 -8.5 -1.9 -8.4 3.4z" fill="#d5f100"/><path d="M1088.3 757.8l8.4 -3.7 -8.5 -2.5 -8.4 3.5z" fill="#e2f200"/><path d="M1105.1 757.2l8.5 -3.7 -8.5 -3 -8.4 3.6z" fill="#e6f100"/><path d="M1122.0 756.9l8.5 -3.8 -8.5 -3.3 -8.4 3.7z" fill="#e8f100"/><path d="M1138.9 757.0l8.4 -3.9 -8.4 -3.7 -8.4 3.7z" fill="#e9f100"/><path d="M1155.8 757.3l8.4 -4 -8.4 -4.1 -8.5 3.9z" fill="#e8f100"/><path d="M1071.4 758.6l8.4 -3.5 -8.4 -2.2 -8.4 3.4z" fill="#dbf200"/><path d="M1172.6 757.9l8.5 -4.1 -8.4 -4.4 -8.5 3.9z" fill="#e5f100"/><path d="M1063.0 762.2l8.4 -3.6 -8.4 -2.3 -8.5 3.5z" fill="#d8f100"/><path d="M1079.8 761.4l8.5 -3.6 -8.5 -2.7 -8.4 3.5z" fill="#ddf200"/><path d="M1096.7 760.9l8.4 -3.7 -8.4 -3.1 -8.4 3.7z" fill="#e1f200"/><path d="M1113.6 760.8l8.4 -3.9 -8.4 -3.4 -8.5 3.7z" fill="#e3f100"/><path d="M1130.4 760.9l8.5 -3.9 -8.4 -3.9 -8.5 3.8z" fill="#e4f100"/><path d="M1147.3 761.3l8.5 -4 -8.5 -4.2 -8.4 3.9z" fill="#e3f100"/><path d="M1164.2 762.0l8.4 -4.1 -8.4 -4.6 -8.4 4z" fill="#e0f200"/><path d="M1105.1 764.6l8.5 -3.8 -8.5 -3.6 -8.4 3.7z" fill="#def200"/><path d="M1138.9 765.3l8.4 -4 -8.4 -4.3 -8.5 3.9z" fill="#ddf200"/><path d="M1071.4 765.1l8.4 -3.7 -8.4 -2.8 -8.4 3.6z" fill="#d9f100"/><path d="M1088.3 764.7l8.4 -3.8 -8.4 -3.1 -8.5 3.6z" fill="#dcf200"/><path d="M1122.0 764.8l8.4 -3.9 -8.4 -4 -8.4 3.9z" fill="#dff200"/><path d="M1155.7 766.1l8.5 -4.1 -8.4 -4.7 -8.5 4z" fill="#daf200"/><path d="M1079.8 768.5l8.5 -3.8 -8.5 -3.3 -8.4 3.7z" fill="#d9f100"/><path d="M1096.7 768.4l8.4 -3.8 -8.4 -3.7 -8.4 3.8z" fill="#daf200"/><path d="M1113.6 768.7l8.4 -3.9 -8.4 -4 -8.5 3.8z" fill="#daf200"/><path d="M1130.4 769.3l8.5 -4 -8.5 -4.4 -8.4 3.9z" fill="#d8f100"/><path d="M1147.3 770.2l8.4 -4.1 -8.4 -4.8 -8.4 4z" fill="#d5f100"/><path d="M1088.3 772.3l8.4 -3.9 -8.4 -3.7 -8.5 3.8z" fill="#d6f100"/><path d="M1105.1 772.7l8.5 -4 -8.5 -4.1 -8.4 3.8z" fill="#d5f100"/><path d="M1122.0 773.4l8.4 -4.1 -8.4 -4.5 -8.4 3.9z" fill="#d4f000"/><path d="M1138.9 774.4l8.4 -4.2 -8.4 -4.9 -8.5 4z" fill="#d1f000"/><path d="M1113.6 777.5l8.4 -4.1 -8.4 -4.7 -8.5 4z" fill="#cfef00"/><path d="M1130.4 778.6l8.5 -4.2 -8.5 -5.1 -8.4 4.1z" fill="#ccef00"/><path d="M1096.7 776.7l8.4 -4 -8.4 -4.3 -8.4 3.9z" fill="#d1f000"/><path d="M1105.2 781.6l8.4 -4.1 -8.5 -4.8 -8.4 4z" fill="#cbef00"/><path d="M1122.0 782.8l8.4 -4.2 -8.4 -5.2 -8.4 4.1z" fill="#c7ee00"/><path d="M1113.6 787.0l8.4 -4.2 -8.4 -5.3 -8.4 4.1z" fill="#c2ed00"/></g>
<circle cx="949.87" cy="837.05" r="2" fill="#111"/><circle cx="948.8" cy="812.49" r="2" fill="#111"/><circle cx="947.74" cy="787.92" r="2" fill="#111"/><circle cx="946.67" cy="763.36" r="2" fill="#111"/><circle cx="945.6" cy="738.79" r="2" fill="#111"/><circle cx="944.53" cy="714.23" r="2" fill="#111"/><circle cx="943.47" cy="689.66" r="2" fill="#111"/><circle cx="942.4" cy="665.1" r="2" fill="#111"/><circle cx="1113.3" cy="969.4" r="2" fill="#111"/><circle cx="1113.3" cy="969.4" r="2" fill="#111"/><circle cx="1081.08" cy="953.66" r="2" fill="#111"/><circle cx="1145.44" cy="953.74" r="2" fill="#111"/><circle cx="1048.86" cy="937.92" r="2" fill="#111"/><circle cx="1177.58" cy="938.08" r="2" fill="#111"/><circle cx="1016.64" cy="922.18" r="2" fill="#111"/><circle cx="1209.72" cy="922.42" r="2" fill="#111"/><circle cx="984.42" cy="906.44" r="2" fill="#111"/><circle cx="1241.86" cy="906.76" r="2" fill="#111"/><circle cx="952.2" cy="890.7" r="2" fill="#111"/><circle cx="1274" cy="891.1" r="2" fill="#111"/><g font-family="Liberation Sans, sans-serif" font-size="17.32" fill="#3a3a3a" stroke="#3a3a3a" stroke-width="0.3"><text x="941.3" y="829.0" text-anchor="end">1</text><text x="938.6" y="806.5" text-anchor="end">1.2</text><text x="938.9" y="782.6" text-anchor="end">1.4</text><text x="939.1" y="753.8" text-anchor="end">1.6</text><text x="939.0" y="730.7" text-anchor="end">1.8</text><text x="936.8" y="708.0" text-anchor="end">2</text><text x="938.6" y="685.2" text-anchor="end">2.2</text><text x="939.2" y="662.2" text-anchor="end">2.4</text><text x="1095.3" y="987.7" text-anchor="middle">15</text><text x="1063.1" y="971.9" text-anchor="middle">28</text><text x="1030.9" y="956.2" text-anchor="middle">41</text><text x="998.7" y="940.5" text-anchor="middle">54</text><text x="966.4" y="924.7" text-anchor="middle">67</text><text x="934.2" y="909.0" text-anchor="middle">80</text><text x="1130.8" y="987.2" text-anchor="middle">20</text><text x="1163.0" y="971.5" text-anchor="middle">26</text><text x="1195.1" y="955.9" text-anchor="middle">32</text><text x="1227.2" y="940.2" text-anchor="middle">38</text><text x="1259.4" y="924.5" text-anchor="middle">44</text><text x="1291.5" y="908.9" text-anchor="middle">50</text><text x="932.4" y="968.4" textLength="76.7" lengthAdjust="spacingAndGlyphs">Ethanol (%)</text><text x="1207.8" y="968.4" textLength="96.1" lengthAdjust="spacingAndGlyphs">Amplitude (%)</text><text transform="translate(897.3 937.4) rotate(-90)" textLength="311.4" lengthAdjust="spacingAndGlyphs" style="font-size:16px">Total major phenolic acids (mg/g dry weight)</text></g></g>
<g font-family="Liberation Serif, serif" font-weight="bold" font-size="40.5" fill="#000"><text x="388.0" y="50.6" textLength="673.6" lengthAdjust="spacingAndGlyphs">(a) Extraction yield of piscidic acid (%)</text><text x="417.6" y="582.7" textLength="600.8" lengthAdjust="spacingAndGlyphs">(b) Piscidic acid (mg/g dry weight)</text></g></g></svg></body></html>
